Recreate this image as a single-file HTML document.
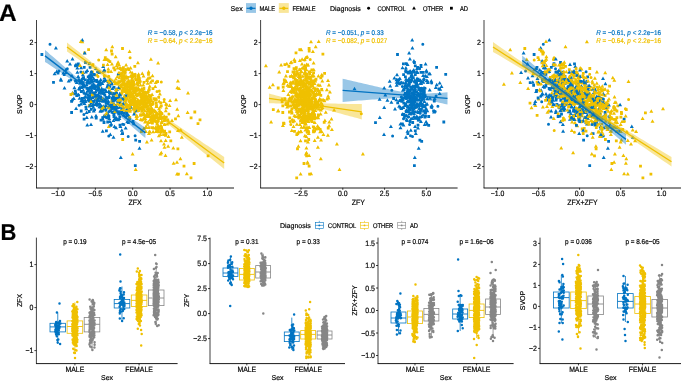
<!DOCTYPE html><html><head><meta charset="utf-8"><style>html,body{margin:0;padding:0;background:#fff;overflow:hidden}svg{display:block;font-family:"Liberation Sans",sans-serif;text-rendering:geometricPrecision;will-change:transform}text{stroke:currentColor;stroke-width:0.18}</style></head><body>
<svg width="685" height="385" viewBox="0 0 685 385">
<defs><clipPath id="c1"><rect x="37" y="18" width="198" height="169.5"/></clipPath><clipPath id="c2"><rect x="261" y="18" width="197" height="169.5"/></clipPath><clipPath id="c3"><rect x="484.4" y="18" width="197" height="169.5"/></clipPath></defs>
<g clip-path="url(#c1)">
<path d="M106.7 101.8h0M80.9 72.0h0M88.3 89.4h0" stroke="#0073C2" stroke-width="3.0" stroke-linecap="round" fill="none"/>
<path d="M76.9 90.3l2.0-3.5l2.0 3.5zM95.4 82.1l2.0-3.5l2.0 3.5zM119.2 111.6l2.0-3.5l2.0 3.5zM113.8 111.5l2.0-3.5l2.0 3.5zM86.3 83.2l2.0-3.5l2.0 3.5zM126.8 111.5l2.0-3.5l2.0 3.5zM91.7 79.9l2.0-3.5l2.0 3.5zM88.8 89.3l2.0-3.5l2.0 3.5zM88.4 79.0l2.0-3.5l2.0 3.5zM122.0 98.5l2.0-3.5l2.0 3.5zM74.7 83.9l2.0-3.5l2.0 3.5zM86.1 100.9l2.0-3.5l2.0 3.5zM91.4 108.8l2.0-3.5l2.0 3.5zM74.1 109.9l2.0-3.5l2.0 3.5zM89.0 126.1l2.0-3.5l2.0 3.5zM95.8 91.7l2.0-3.5l2.0 3.5zM83.5 102.9l2.0-3.5l2.0 3.5zM95.7 87.5l2.0-3.5l2.0 3.5zM87.4 89.2l2.0-3.5l2.0 3.5zM76.2 78.1l2.0-3.5l2.0 3.5zM108.5 112.0l2.0-3.5l2.0 3.5zM79.0 105.5l2.0-3.5l2.0 3.5zM96.5 85.2l2.0-3.5l2.0 3.5zM98.5 108.4l2.0-3.5l2.0 3.5zM84.5 95.0l2.0-3.5l2.0 3.5zM92.2 88.3l2.0-3.5l2.0 3.5zM105.4 87.7l2.0-3.5l2.0 3.5zM91.6 85.6l2.0-3.5l2.0 3.5zM109.2 125.5l2.0-3.5l2.0 3.5zM116.0 113.2l2.0-3.5l2.0 3.5zM93.9 69.9l2.0-3.5l2.0 3.5zM58.8 80.7l2.0-3.5l2.0 3.5zM96.6 96.6l2.0-3.5l2.0 3.5zM80.8 87.4l2.0-3.5l2.0 3.5zM110.3 90.0l2.0-3.5l2.0 3.5zM98.9 92.3l2.0-3.5l2.0 3.5zM118.3 101.4l2.0-3.5l2.0 3.5zM109.8 84.4l2.0-3.5l2.0 3.5zM101.8 110.4l2.0-3.5l2.0 3.5zM109.6 85.6l2.0-3.5l2.0 3.5z" fill="#0073C2"/>
<path d="M76.1 63.9h2.8v2.8h-2.8zM82.5 83.9h2.8v2.8h-2.8zM87.8 62.2h2.8v2.8h-2.8zM119.8 103.3h2.8v2.8h-2.8zM105.0 129.4h2.8v2.8h-2.8zM134.3 138.7h2.8v2.8h-2.8zM132.3 122.4h2.8v2.8h-2.8zM89.9 107.9h2.8v2.8h-2.8zM106.5 80.2h2.8v2.8h-2.8zM88.7 66.0h2.8v2.8h-2.8zM99.3 96.6h2.8v2.8h-2.8zM109.8 105.2h2.8v2.8h-2.8zM94.8 103.1h2.8v2.8h-2.8zM82.9 96.7h2.8v2.8h-2.8zM126.6 94.3h2.8v2.8h-2.8zM88.3 94.3h2.8v2.8h-2.8zM72.9 92.5h2.8v2.8h-2.8zM82.7 117.8h2.8v2.8h-2.8z" fill="#0073C2"/>
<path d="M164.2 99.6h0M106.3 59.6h0M132.2 93.8h0M143.7 92.1h0M139.6 104.5h0M141.4 94.5h0M148.0 92.4h0M126.9 91.0h0" stroke="#EFC000" stroke-width="3.0" stroke-linecap="round" fill="none"/>
<path d="M130.6 155.4l2.0-3.5l2.0 3.5zM133.7 170.9l2.0-3.5l2.0 3.5zM135.9 84.1l2.0-3.5l2.0 3.5zM143.7 99.6l2.0-3.5l2.0 3.5zM129.0 95.5l2.0-3.5l2.0 3.5zM144.4 128.9l2.0-3.5l2.0 3.5zM145.0 106.9l2.0-3.5l2.0 3.5zM135.7 101.9l2.0-3.5l2.0 3.5zM132.4 94.1l2.0-3.5l2.0 3.5zM175.0 175.4l2.0-3.5l2.0 3.5zM159.8 122.8l2.0-3.5l2.0 3.5zM129.5 102.7l2.0-3.5l2.0 3.5zM141.8 93.1l2.0-3.5l2.0 3.5zM137.1 84.2l2.0-3.5l2.0 3.5zM156.3 127.2l2.0-3.5l2.0 3.5zM127.1 84.9l2.0-3.5l2.0 3.5zM141.5 109.9l2.0-3.5l2.0 3.5zM127.6 52.9l2.0-3.5l2.0 3.5zM121.5 110.8l2.0-3.5l2.0 3.5zM151.1 133.2l2.0-3.5l2.0 3.5zM133.9 102.6l2.0-3.5l2.0 3.5zM145.1 106.6l2.0-3.5l2.0 3.5zM159.0 127.1l2.0-3.5l2.0 3.5zM130.0 103.2l2.0-3.5l2.0 3.5zM143.2 100.5l2.0-3.5l2.0 3.5zM163.8 112.2l2.0-3.5l2.0 3.5zM135.8 86.4l2.0-3.5l2.0 3.5zM163.0 119.6l2.0-3.5l2.0 3.5zM122.5 81.4l2.0-3.5l2.0 3.5zM142.0 95.4l2.0-3.5l2.0 3.5zM174.0 101.3l2.0-3.5l2.0 3.5zM128.2 97.8l2.0-3.5l2.0 3.5zM148.8 123.5l2.0-3.5l2.0 3.5zM124.6 87.0l2.0-3.5l2.0 3.5zM148.4 113.8l2.0-3.5l2.0 3.5zM157.0 110.2l2.0-3.5l2.0 3.5zM142.5 118.0l2.0-3.5l2.0 3.5zM118.6 95.8l2.0-3.5l2.0 3.5zM129.6 103.1l2.0-3.5l2.0 3.5zM149.4 109.3l2.0-3.5l2.0 3.5zM157.2 102.8l2.0-3.5l2.0 3.5zM138.1 81.7l2.0-3.5l2.0 3.5zM122.3 92.6l2.0-3.5l2.0 3.5z" fill="#EFC000"/>
<path d="M149.6 111.1h2.8v2.8h-2.8zM151.1 79.4h2.8v2.8h-2.8zM69.5 93.1h2.8v2.8h-2.8zM151.6 87.3h2.8v2.8h-2.8zM122.9 88.0h2.8v2.8h-2.8zM122.6 70.6h2.8v2.8h-2.8zM138.9 100.0h2.8v2.8h-2.8zM134.1 88.7h2.8v2.8h-2.8zM130.7 94.1h2.8v2.8h-2.8zM128.9 103.9h2.8v2.8h-2.8zM182.6 164.7h2.8v2.8h-2.8zM143.6 105.1h2.8v2.8h-2.8zM134.8 78.5h2.8v2.8h-2.8zM132.0 80.6h2.8v2.8h-2.8zM142.6 81.0h2.8v2.8h-2.8zM155.6 122.7h2.8v2.8h-2.8zM131.8 73.8h2.8v2.8h-2.8zM137.3 100.2h2.8v2.8h-2.8zM103.9 56.3h2.8v2.8h-2.8zM91.5 63.3h2.8v2.8h-2.8zM134.4 101.9h2.8v2.8h-2.8zM192.7 162.1h2.8v2.8h-2.8zM141.2 94.7h2.8v2.8h-2.8zM174.1 117.5h2.8v2.8h-2.8zM117.4 80.2h2.8v2.8h-2.8zM139.0 107.6h2.8v2.8h-2.8zM135.9 103.6h2.8v2.8h-2.8zM149.5 94.7h2.8v2.8h-2.8z" fill="#EFC000"/>
<path d="M108.8 135.9h0M113.6 98.1h0M128.2 136.6h0M113.7 96.7h0M83.9 114.5h0M109.1 111.4h0M89.8 96.0h0" stroke="#0073C2" stroke-width="3.0" stroke-linecap="round" fill="none"/>
<path d="M53.9 49.6l2.0-3.5l2.0 3.5zM125.2 123.2l2.0-3.5l2.0 3.5zM92.2 82.6l2.0-3.5l2.0 3.5zM93.6 93.2l2.0-3.5l2.0 3.5zM123.7 129.5l2.0-3.5l2.0 3.5zM100.9 120.8l2.0-3.5l2.0 3.5zM63.8 73.9l2.0-3.5l2.0 3.5zM113.6 94.9l2.0-3.5l2.0 3.5zM52.6 75.2l2.0-3.5l2.0 3.5zM103.0 81.7l2.0-3.5l2.0 3.5zM87.0 99.6l2.0-3.5l2.0 3.5zM114.1 90.7l2.0-3.5l2.0 3.5zM99.4 98.6l2.0-3.5l2.0 3.5zM79.2 102.2l2.0-3.5l2.0 3.5zM81.3 91.7l2.0-3.5l2.0 3.5zM87.0 80.5l2.0-3.5l2.0 3.5zM95.3 99.6l2.0-3.5l2.0 3.5zM81.2 73.9l2.0-3.5l2.0 3.5zM103.1 109.2l2.0-3.5l2.0 3.5zM98.1 98.1l2.0-3.5l2.0 3.5zM97.7 83.9l2.0-3.5l2.0 3.5zM101.2 67.9l2.0-3.5l2.0 3.5zM111.7 114.1l2.0-3.5l2.0 3.5z" fill="#0073C2"/>
<path d="M79.8 109.6h2.8v2.8h-2.8zM114.1 104.3h2.8v2.8h-2.8zM101.0 91.0h2.8v2.8h-2.8zM79.9 90.2h2.8v2.8h-2.8zM116.3 100.2h2.8v2.8h-2.8zM114.3 104.3h2.8v2.8h-2.8zM95.6 96.0h2.8v2.8h-2.8zM115.5 97.1h2.8v2.8h-2.8zM96.5 98.6h2.8v2.8h-2.8zM118.3 103.1h2.8v2.8h-2.8zM112.9 97.1h2.8v2.8h-2.8zM110.7 111.0h2.8v2.8h-2.8zM112.6 114.7h2.8v2.8h-2.8z" fill="#0073C2"/>
<path d="M136.8 107.4h0M159.5 113.7h0M148.4 102.3h0M155.1 111.2h0M144.0 92.5h0M168.9 113.9h0M130.9 97.1h0M143.9 93.9h0M125.3 97.5h0" stroke="#EFC000" stroke-width="3.0" stroke-linecap="round" fill="none"/>
<path d="M131.6 86.7l2.0-3.5l2.0 3.5zM141.3 86.5l2.0-3.5l2.0 3.5zM155.0 114.8l2.0-3.5l2.0 3.5zM133.6 111.8l2.0-3.5l2.0 3.5zM176.0 132.1l2.0-3.5l2.0 3.5zM150.5 77.2l2.0-3.5l2.0 3.5zM134.9 117.3l2.0-3.5l2.0 3.5zM126.8 94.2l2.0-3.5l2.0 3.5zM153.7 84.1l2.0-3.5l2.0 3.5zM141.3 98.5l2.0-3.5l2.0 3.5zM122.4 88.3l2.0-3.5l2.0 3.5zM119.7 94.8l2.0-3.5l2.0 3.5zM146.2 123.2l2.0-3.5l2.0 3.5zM175.2 110.7l2.0-3.5l2.0 3.5zM120.4 84.7l2.0-3.5l2.0 3.5zM130.3 77.9l2.0-3.5l2.0 3.5zM138.9 116.5l2.0-3.5l2.0 3.5zM120.4 85.5l2.0-3.5l2.0 3.5zM166.5 138.0l2.0-3.5l2.0 3.5zM121.0 76.5l2.0-3.5l2.0 3.5zM163.7 142.0l2.0-3.5l2.0 3.5zM148.0 133.4l2.0-3.5l2.0 3.5zM133.4 79.8l2.0-3.5l2.0 3.5zM141.1 115.6l2.0-3.5l2.0 3.5zM123.2 90.1l2.0-3.5l2.0 3.5zM162.0 145.4l2.0-3.5l2.0 3.5zM148.2 98.6l2.0-3.5l2.0 3.5zM146.2 103.2l2.0-3.5l2.0 3.5zM154.7 122.7l2.0-3.5l2.0 3.5zM141.8 115.3l2.0-3.5l2.0 3.5zM116.3 84.3l2.0-3.5l2.0 3.5zM151.4 115.9l2.0-3.5l2.0 3.5zM106.0 108.2l2.0-3.5l2.0 3.5zM146.2 92.5l2.0-3.5l2.0 3.5zM130.4 74.4l2.0-3.5l2.0 3.5zM145.4 99.6l2.0-3.5l2.0 3.5zM130.2 79.6l2.0-3.5l2.0 3.5zM162.2 117.7l2.0-3.5l2.0 3.5zM263.3 122.9l2.0-3.5l2.0 3.5zM140.1 96.7l2.0-3.5l2.0 3.5zM156.9 133.2l2.0-3.5l2.0 3.5zM148.6 83.8l2.0-3.5l2.0 3.5zM146.5 110.7l2.0-3.5l2.0 3.5zM129.5 106.1l2.0-3.5l2.0 3.5zM148.6 104.8l2.0-3.5l2.0 3.5zM145.6 118.1l2.0-3.5l2.0 3.5zM144.5 128.8l2.0-3.5l2.0 3.5zM135.0 84.7l2.0-3.5l2.0 3.5zM131.3 110.4l2.0-3.5l2.0 3.5zM144.8 107.1l2.0-3.5l2.0 3.5zM131.9 100.4l2.0-3.5l2.0 3.5zM142.9 112.3l2.0-3.5l2.0 3.5zM107.6 82.6l2.0-3.5l2.0 3.5zM143.7 122.8l2.0-3.5l2.0 3.5zM150.9 112.6l2.0-3.5l2.0 3.5z" fill="#EFC000"/>
<path d="M118.9 67.1h2.8v2.8h-2.8zM123.7 72.0h2.8v2.8h-2.8zM131.6 101.6h2.8v2.8h-2.8zM125.1 76.9h2.8v2.8h-2.8zM156.1 129.9h2.8v2.8h-2.8zM157.0 116.8h2.8v2.8h-2.8zM135.8 93.3h2.8v2.8h-2.8zM125.0 109.9h2.8v2.8h-2.8zM97.5 85.8h2.8v2.8h-2.8zM150.0 107.6h2.8v2.8h-2.8zM148.0 108.3h2.8v2.8h-2.8zM135.8 94.3h2.8v2.8h-2.8zM147.3 98.9h2.8v2.8h-2.8zM134.9 86.6h2.8v2.8h-2.8zM189.7 116.4h2.8v2.8h-2.8zM151.4 116.2h2.8v2.8h-2.8zM127.3 68.3h2.8v2.8h-2.8zM150.3 121.0h2.8v2.8h-2.8zM139.4 95.1h2.8v2.8h-2.8zM87.2 48.3h2.8v2.8h-2.8zM138.1 80.7h2.8v2.8h-2.8zM136.6 102.9h2.8v2.8h-2.8zM125.0 91.0h2.8v2.8h-2.8zM110.7 52.8h2.8v2.8h-2.8zM166.4 118.4h2.8v2.8h-2.8zM139.2 101.8h2.8v2.8h-2.8zM122.2 80.5h2.8v2.8h-2.8zM110.5 99.1h2.8v2.8h-2.8zM196.6 122.3h2.8v2.8h-2.8zM128.1 91.5h2.8v2.8h-2.8zM108.1 89.5h2.8v2.8h-2.8zM122.0 66.2h2.8v2.8h-2.8zM133.8 104.5h2.8v2.8h-2.8z" fill="#EFC000"/>
<path d="M94.0 101.1h0M123.8 100.0h0M119.7 116.8h0M110.0 93.7h0M99.7 96.9h0M109.4 93.1h0M116.2 98.2h0M78.4 94.9h0M90.0 97.6h0" stroke="#0073C2" stroke-width="3.0" stroke-linecap="round" fill="none"/>
<path d="M96.0 98.5l2.0-3.5l2.0 3.5zM107.0 109.1l2.0-3.5l2.0 3.5zM110.4 101.6l2.0-3.5l2.0 3.5zM115.6 109.1l2.0-3.5l2.0 3.5zM90.3 81.9l2.0-3.5l2.0 3.5zM125.1 110.1l2.0-3.5l2.0 3.5zM96.9 84.7l2.0-3.5l2.0 3.5zM88.2 94.0l2.0-3.5l2.0 3.5zM101.6 72.5l2.0-3.5l2.0 3.5zM103.8 81.9l2.0-3.5l2.0 3.5zM92.0 94.3l2.0-3.5l2.0 3.5zM110.6 95.0l2.0-3.5l2.0 3.5zM79.1 69.2l2.0-3.5l2.0 3.5zM80.5 83.2l2.0-3.5l2.0 3.5zM84.8 119.0l2.0-3.5l2.0 3.5zM62.5 89.6l2.0-3.5l2.0 3.5zM93.4 100.7l2.0-3.5l2.0 3.5zM112.5 128.0l2.0-3.5l2.0 3.5zM126.7 116.9l2.0-3.5l2.0 3.5zM72.4 89.2l2.0-3.5l2.0 3.5zM90.2 95.0l2.0-3.5l2.0 3.5zM104.6 99.7l2.0-3.5l2.0 3.5zM65.2 62.6l2.0-3.5l2.0 3.5zM80.5 80.1l2.0-3.5l2.0 3.5zM117.4 119.9l2.0-3.5l2.0 3.5zM95.4 83.1l2.0-3.5l2.0 3.5zM101.4 82.7l2.0-3.5l2.0 3.5zM86.9 84.6l2.0-3.5l2.0 3.5zM74.1 94.6l2.0-3.5l2.0 3.5zM97.8 84.1l2.0-3.5l2.0 3.5zM85.3 126.6l2.0-3.5l2.0 3.5z" fill="#0073C2"/>
<path d="M111.9 96.4h2.8v2.8h-2.8zM113.8 106.1h2.8v2.8h-2.8zM93.2 87.1h2.8v2.8h-2.8zM80.7 97.1h2.8v2.8h-2.8zM78.1 87.6h2.8v2.8h-2.8zM112.1 102.8h2.8v2.8h-2.8zM89.8 101.8h2.8v2.8h-2.8zM87.8 110.1h2.8v2.8h-2.8zM122.9 111.6h2.8v2.8h-2.8zM94.4 78.9h2.8v2.8h-2.8zM109.6 103.4h2.8v2.8h-2.8zM95.5 88.2h2.8v2.8h-2.8zM112.6 86.0h2.8v2.8h-2.8zM100.3 89.1h2.8v2.8h-2.8zM82.0 85.4h2.8v2.8h-2.8zM52.1 80.9h2.8v2.8h-2.8zM105.9 96.6h2.8v2.8h-2.8zM121.0 111.4h2.8v2.8h-2.8z" fill="#0073C2"/>
<path d="M108.4 71.7h0M148.5 115.9h0M160.9 132.2h0M162.8 130.5h0M131.5 80.6h0M155.9 121.5h0M164.7 124.6h0M135.2 74.3h0" stroke="#EFC000" stroke-width="3.0" stroke-linecap="round" fill="none"/>
<path d="M125.4 86.7l2.0-3.5l2.0 3.5zM158.4 155.5l2.0-3.5l2.0 3.5zM143.4 93.8l2.0-3.5l2.0 3.5zM127.0 109.5l2.0-3.5l2.0 3.5zM152.1 120.2l2.0-3.5l2.0 3.5zM153.7 128.7l2.0-3.5l2.0 3.5zM117.2 66.5l2.0-3.5l2.0 3.5zM115.4 78.1l2.0-3.5l2.0 3.5zM156.1 64.6l2.0-3.5l2.0 3.5zM105.6 65.9l2.0-3.5l2.0 3.5zM122.7 77.4l2.0-3.5l2.0 3.5zM147.7 87.7l2.0-3.5l2.0 3.5zM128.3 95.7l2.0-3.5l2.0 3.5zM142.6 108.5l2.0-3.5l2.0 3.5zM113.8 80.4l2.0-3.5l2.0 3.5zM156.9 137.3l2.0-3.5l2.0 3.5zM128.4 77.7l2.0-3.5l2.0 3.5zM95.0 99.5l2.0-3.5l2.0 3.5zM128.4 86.2l2.0-3.5l2.0 3.5zM109.6 94.3l2.0-3.5l2.0 3.5zM147.7 87.7l2.0-3.5l2.0 3.5zM137.8 110.4l2.0-3.5l2.0 3.5zM116.1 63.8l2.0-3.5l2.0 3.5zM167.2 124.2l2.0-3.5l2.0 3.5zM141.7 102.0l2.0-3.5l2.0 3.5zM186.0 94.6l2.0-3.5l2.0 3.5zM102.4 61.0l2.0-3.5l2.0 3.5zM136.4 96.2l2.0-3.5l2.0 3.5zM167.5 107.0l2.0-3.5l2.0 3.5zM139.8 104.7l2.0-3.5l2.0 3.5zM159.0 120.1l2.0-3.5l2.0 3.5zM146.6 124.1l2.0-3.5l2.0 3.5zM117.3 79.3l2.0-3.5l2.0 3.5zM111.9 95.5l2.0-3.5l2.0 3.5zM120.4 91.3l2.0-3.5l2.0 3.5zM143.8 97.8l2.0-3.5l2.0 3.5zM148.9 123.0l2.0-3.5l2.0 3.5zM143.8 132.9l2.0-3.5l2.0 3.5zM175.0 163.8l2.0-3.5l2.0 3.5zM127.4 84.4l2.0-3.5l2.0 3.5zM163.5 156.9l2.0-3.5l2.0 3.5zM162.1 102.9l2.0-3.5l2.0 3.5zM128.7 87.6l2.0-3.5l2.0 3.5zM112.6 82.9l2.0-3.5l2.0 3.5zM121.1 71.3l2.0-3.5l2.0 3.5zM130.7 77.5l2.0-3.5l2.0 3.5zM136.2 79.5l2.0-3.5l2.0 3.5zM123.6 98.3l2.0-3.5l2.0 3.5zM107.3 109.4l2.0-3.5l2.0 3.5zM138.7 121.1l2.0-3.5l2.0 3.5z" fill="#EFC000"/>
<path d="M144.5 105.7h2.8v2.8h-2.8zM159.4 101.5h2.8v2.8h-2.8zM123.7 99.5h2.8v2.8h-2.8zM102.0 63.8h2.8v2.8h-2.8zM143.0 117.2h2.8v2.8h-2.8zM125.8 103.8h2.8v2.8h-2.8zM198.6 118.4h2.8v2.8h-2.8zM155.1 104.2h2.8v2.8h-2.8zM152.6 118.7h2.8v2.8h-2.8zM159.0 111.5h2.8v2.8h-2.8zM133.4 110.9h2.8v2.8h-2.8zM165.0 103.5h2.8v2.8h-2.8zM131.0 84.7h2.8v2.8h-2.8zM124.3 68.2h2.8v2.8h-2.8zM120.1 109.6h2.8v2.8h-2.8zM145.0 114.7h2.8v2.8h-2.8zM140.7 96.7h2.8v2.8h-2.8zM134.4 101.7h2.8v2.8h-2.8zM119.6 83.5h2.8v2.8h-2.8zM155.6 113.9h2.8v2.8h-2.8zM128.4 94.2h2.8v2.8h-2.8zM138.7 101.8h2.8v2.8h-2.8zM91.0 70.5h2.8v2.8h-2.8zM150.8 117.5h2.8v2.8h-2.8z" fill="#EFC000"/>
<path d="M101.3 106.2h0M58.9 71.0h0M89.6 88.3h0M126.7 113.3h0M116.1 109.1h0M115.1 118.7h0M88.8 101.0h0M86.9 83.0h0" stroke="#0073C2" stroke-width="3.0" stroke-linecap="round" fill="none"/>
<path d="M93.9 87.3l2.0-3.5l2.0 3.5zM120.7 109.0l2.0-3.5l2.0 3.5zM132.1 115.6l2.0-3.5l2.0 3.5zM98.1 86.2l2.0-3.5l2.0 3.5zM80.9 76.2l2.0-3.5l2.0 3.5zM106.4 102.7l2.0-3.5l2.0 3.5zM117.7 95.2l2.0-3.5l2.0 3.5zM123.5 105.6l2.0-3.5l2.0 3.5zM105.8 117.8l2.0-3.5l2.0 3.5zM96.9 102.1l2.0-3.5l2.0 3.5zM102.4 79.6l2.0-3.5l2.0 3.5zM117.4 98.7l2.0-3.5l2.0 3.5zM106.8 84.6l2.0-3.5l2.0 3.5zM102.2 116.9l2.0-3.5l2.0 3.5zM78.0 84.6l2.0-3.5l2.0 3.5zM101.2 91.6l2.0-3.5l2.0 3.5zM108.1 81.4l2.0-3.5l2.0 3.5zM71.8 100.0l2.0-3.5l2.0 3.5zM118.4 127.9l2.0-3.5l2.0 3.5zM108.7 106.6l2.0-3.5l2.0 3.5zM78.0 88.6l2.0-3.5l2.0 3.5zM114.9 90.9l2.0-3.5l2.0 3.5zM107.5 82.1l2.0-3.5l2.0 3.5zM112.8 106.5l2.0-3.5l2.0 3.5zM92.0 86.7l2.0-3.5l2.0 3.5zM118.8 159.1l2.0-3.5l2.0 3.5zM85.9 92.0l2.0-3.5l2.0 3.5zM70.2 101.3l2.0-3.5l2.0 3.5zM94.0 117.3l2.0-3.5l2.0 3.5zM118.0 103.7l2.0-3.5l2.0 3.5zM61.3 74.5l2.0-3.5l2.0 3.5zM110.5 98.5l2.0-3.5l2.0 3.5zM116.7 97.9l2.0-3.5l2.0 3.5z" fill="#0073C2"/>
<path d="M88.3 103.9h2.8v2.8h-2.8zM117.3 112.7h2.8v2.8h-2.8zM112.4 110.4h2.8v2.8h-2.8zM92.7 72.9h2.8v2.8h-2.8zM89.1 100.0h2.8v2.8h-2.8zM106.6 101.5h2.8v2.8h-2.8zM86.9 79.3h2.8v2.8h-2.8zM70.2 111.1h2.8v2.8h-2.8zM86.8 75.5h2.8v2.8h-2.8zM118.6 123.8h2.8v2.8h-2.8zM89.8 73.2h2.8v2.8h-2.8zM85.7 87.0h2.8v2.8h-2.8zM74.1 64.4h2.8v2.8h-2.8zM80.9 77.8h2.8v2.8h-2.8zM104.5 109.0h2.8v2.8h-2.8zM74.1 79.7h2.8v2.8h-2.8zM84.1 61.1h2.8v2.8h-2.8zM81.4 99.7h2.8v2.8h-2.8zM107.6 96.1h2.8v2.8h-2.8z" fill="#0073C2"/>
<path d="M138.0 77.5h0M157.0 91.4h0M98.7 59.9h0M159.3 90.9h0M132.4 83.9h0M130.1 57.7h0M145.2 99.5h0M130.2 86.3h0M161.3 82.1h0" stroke="#EFC000" stroke-width="3.0" stroke-linecap="round" fill="none"/>
<path d="M137.1 109.7l2.0-3.5l2.0 3.5zM132.6 76.7l2.0-3.5l2.0 3.5zM128.6 69.5l2.0-3.5l2.0 3.5zM158.4 136.0l2.0-3.5l2.0 3.5zM121.5 73.5l2.0-3.5l2.0 3.5zM121.8 85.8l2.0-3.5l2.0 3.5zM122.9 97.6l2.0-3.5l2.0 3.5zM164.0 105.5l2.0-3.5l2.0 3.5zM132.0 85.8l2.0-3.5l2.0 3.5zM113.1 85.3l2.0-3.5l2.0 3.5zM139.8 110.2l2.0-3.5l2.0 3.5zM143.3 120.1l2.0-3.5l2.0 3.5zM122.6 86.1l2.0-3.5l2.0 3.5zM149.3 106.0l2.0-3.5l2.0 3.5zM177.0 89.9l2.0-3.5l2.0 3.5zM150.0 111.4l2.0-3.5l2.0 3.5zM149.6 141.5l2.0-3.5l2.0 3.5zM80.3 43.2l2.0-3.5l2.0 3.5zM143.4 107.9l2.0-3.5l2.0 3.5zM154.4 108.1l2.0-3.5l2.0 3.5zM137.1 80.7l2.0-3.5l2.0 3.5zM146.0 79.7l2.0-3.5l2.0 3.5zM139.9 108.2l2.0-3.5l2.0 3.5zM124.6 88.8l2.0-3.5l2.0 3.5zM162.8 121.8l2.0-3.5l2.0 3.5zM143.2 100.2l2.0-3.5l2.0 3.5zM128.4 111.4l2.0-3.5l2.0 3.5zM157.9 118.3l2.0-3.5l2.0 3.5zM175.3 89.2l2.0-3.5l2.0 3.5zM138.2 94.4l2.0-3.5l2.0 3.5zM139.0 104.0l2.0-3.5l2.0 3.5zM129.5 101.2l2.0-3.5l2.0 3.5zM132.5 101.8l2.0-3.5l2.0 3.5zM140.6 93.9l2.0-3.5l2.0 3.5zM152.0 111.6l2.0-3.5l2.0 3.5zM142.0 98.9l2.0-3.5l2.0 3.5zM140.8 98.2l2.0-3.5l2.0 3.5zM122.1 79.0l2.0-3.5l2.0 3.5zM151.9 119.2l2.0-3.5l2.0 3.5zM134.6 117.5l2.0-3.5l2.0 3.5zM149.0 119.6l2.0-3.5l2.0 3.5zM138.3 91.8l2.0-3.5l2.0 3.5zM158.3 127.6l2.0-3.5l2.0 3.5zM157.5 112.4l2.0-3.5l2.0 3.5zM161.9 133.0l2.0-3.5l2.0 3.5zM153.8 100.4l2.0-3.5l2.0 3.5zM145.5 112.2l2.0-3.5l2.0 3.5zM124.8 85.3l2.0-3.5l2.0 3.5z" fill="#EFC000"/>
<path d="M141.1 108.4h2.8v2.8h-2.8zM160.3 127.9h2.8v2.8h-2.8zM160.4 112.2h2.8v2.8h-2.8zM168.3 130.5h2.8v2.8h-2.8zM140.7 89.5h2.8v2.8h-2.8zM148.4 111.1h2.8v2.8h-2.8zM145.7 79.2h2.8v2.8h-2.8zM144.2 102.0h2.8v2.8h-2.8zM136.2 105.9h2.8v2.8h-2.8zM154.9 127.6h2.8v2.8h-2.8zM129.6 82.9h2.8v2.8h-2.8zM135.4 88.3h2.8v2.8h-2.8zM156.3 125.5h2.8v2.8h-2.8zM144.7 91.6h2.8v2.8h-2.8zM164.9 115.8h2.8v2.8h-2.8zM125.3 94.4h2.8v2.8h-2.8zM193.4 110.6h2.8v2.8h-2.8zM129.9 99.0h2.8v2.8h-2.8zM115.6 81.6h2.8v2.8h-2.8zM131.8 80.7h2.8v2.8h-2.8zM157.0 128.3h2.8v2.8h-2.8zM129.0 81.8h2.8v2.8h-2.8zM118.6 72.7h2.8v2.8h-2.8z" fill="#EFC000"/>
<path d="M110.5 92.9h0M97.5 71.8h0M67.3 68.7h0M79.1 105.3h0M103.6 93.7h0M93.4 96.2h0M70.7 80.1h0M135.1 135.7h0M96.8 101.1h0M50.0 44.2h0" stroke="#0073C2" stroke-width="3.0" stroke-linecap="round" fill="none"/>
<path d="M107.1 97.4l2.0-3.5l2.0 3.5zM120.0 134.9l2.0-3.5l2.0 3.5zM112.7 101.4l2.0-3.5l2.0 3.5zM75.4 73.7l2.0-3.5l2.0 3.5zM83.3 97.9l2.0-3.5l2.0 3.5zM89.8 118.5l2.0-3.5l2.0 3.5zM54.7 72.9l2.0-3.5l2.0 3.5zM84.3 110.3l2.0-3.5l2.0 3.5zM70.6 94.5l2.0-3.5l2.0 3.5zM70.5 60.5l2.0-3.5l2.0 3.5zM89.9 83.7l2.0-3.5l2.0 3.5zM134.8 112.3l2.0-3.5l2.0 3.5zM105.5 88.5l2.0-3.5l2.0 3.5zM90.1 107.1l2.0-3.5l2.0 3.5zM104.0 93.1l2.0-3.5l2.0 3.5zM93.3 97.8l2.0-3.5l2.0 3.5zM99.7 90.0l2.0-3.5l2.0 3.5zM91.7 112.4l2.0-3.5l2.0 3.5zM63.6 71.5l2.0-3.5l2.0 3.5zM114.4 113.2l2.0-3.5l2.0 3.5zM102.7 101.3l2.0-3.5l2.0 3.5zM94.9 103.8l2.0-3.5l2.0 3.5zM80.3 41.5l2.0-3.5l2.0 3.5zM118.2 96.4l2.0-3.5l2.0 3.5zM87.2 77.1l2.0-3.5l2.0 3.5zM101.4 107.8l2.0-3.5l2.0 3.5zM104.2 92.4l2.0-3.5l2.0 3.5z" fill="#0073C2"/>
<path d="M76.9 62.4h2.8v2.8h-2.8zM103.2 88.5h2.8v2.8h-2.8zM99.6 118.7h2.8v2.8h-2.8zM138.2 140.0h2.8v2.8h-2.8zM106.4 115.7h2.8v2.8h-2.8zM82.2 76.2h2.8v2.8h-2.8zM102.6 121.1h2.8v2.8h-2.8zM88.6 99.0h2.8v2.8h-2.8zM89.9 75.1h2.8v2.8h-2.8zM84.5 105.8h2.8v2.8h-2.8zM84.8 70.8h2.8v2.8h-2.8zM96.2 93.7h2.8v2.8h-2.8zM121.1 97.2h2.8v2.8h-2.8zM86.3 96.3h2.8v2.8h-2.8zM98.0 70.9h2.8v2.8h-2.8zM106.3 120.6h2.8v2.8h-2.8zM95.9 104.0h2.8v2.8h-2.8zM101.0 109.4h2.8v2.8h-2.8z" fill="#0073C2"/>
<path d="M105.2 115.4h0M142.5 119.7h0M121.6 80.8h0M127.4 86.9h0M150.0 99.4h0M108.8 76.2h0" stroke="#EFC000" stroke-width="3.0" stroke-linecap="round" fill="none"/>
<path d="M110.3 103.3l2.0-3.5l2.0 3.5zM150.6 117.5l2.0-3.5l2.0 3.5zM136.9 111.9l2.0-3.5l2.0 3.5zM126.9 82.7l2.0-3.5l2.0 3.5zM129.3 95.0l2.0-3.5l2.0 3.5zM144.8 101.3l2.0-3.5l2.0 3.5zM135.0 107.8l2.0-3.5l2.0 3.5zM144.9 118.1l2.0-3.5l2.0 3.5zM127.5 88.0l2.0-3.5l2.0 3.5zM132.9 77.6l2.0-3.5l2.0 3.5zM147.2 89.7l2.0-3.5l2.0 3.5zM159.0 142.2l2.0-3.5l2.0 3.5zM155.0 83.0l2.0-3.5l2.0 3.5zM106.3 70.4l2.0-3.5l2.0 3.5zM184.8 175.2l2.0-3.5l2.0 3.5zM168.1 101.9l2.0-3.5l2.0 3.5zM130.0 83.4l2.0-3.5l2.0 3.5zM109.9 65.6l2.0-3.5l2.0 3.5zM141.2 107.1l2.0-3.5l2.0 3.5zM145.6 100.6l2.0-3.5l2.0 3.5zM110.3 48.3l2.0-3.5l2.0 3.5zM147.4 133.1l2.0-3.5l2.0 3.5zM132.7 102.3l2.0-3.5l2.0 3.5zM147.4 106.4l2.0-3.5l2.0 3.5zM135.9 64.2l2.0-3.5l2.0 3.5zM150.1 96.0l2.0-3.5l2.0 3.5zM127.5 106.0l2.0-3.5l2.0 3.5zM109.5 103.7l2.0-3.5l2.0 3.5zM120.1 74.5l2.0-3.5l2.0 3.5zM166.1 147.8l2.0-3.5l2.0 3.5zM134.6 91.6l2.0-3.5l2.0 3.5zM145.5 125.7l2.0-3.5l2.0 3.5zM153.2 88.1l2.0-3.5l2.0 3.5zM127.1 102.3l2.0-3.5l2.0 3.5zM118.8 101.3l2.0-3.5l2.0 3.5zM131.0 89.2l2.0-3.5l2.0 3.5zM120.5 79.3l2.0-3.5l2.0 3.5zM145.9 112.4l2.0-3.5l2.0 3.5zM143.5 106.4l2.0-3.5l2.0 3.5zM87.2 107.0l2.0-3.5l2.0 3.5zM148.0 115.4l2.0-3.5l2.0 3.5zM153.4 101.5l2.0-3.5l2.0 3.5zM141.4 104.9l2.0-3.5l2.0 3.5zM141.9 103.3l2.0-3.5l2.0 3.5zM136.1 109.7l2.0-3.5l2.0 3.5zM126.7 81.7l2.0-3.5l2.0 3.5zM124.9 94.0l2.0-3.5l2.0 3.5zM128.6 73.5l2.0-3.5l2.0 3.5zM120.3 86.6l2.0-3.5l2.0 3.5zM148.7 100.3l2.0-3.5l2.0 3.5zM147.0 91.3l2.0-3.5l2.0 3.5zM134.3 107.5l2.0-3.5l2.0 3.5zM133.3 91.9l2.0-3.5l2.0 3.5zM159.7 114.4l2.0-3.5l2.0 3.5zM130.3 76.6l2.0-3.5l2.0 3.5zM125.1 108.6l2.0-3.5l2.0 3.5z" fill="#EFC000"/>
<path d="M147.0 100.0h2.8v2.8h-2.8zM126.3 76.0h2.8v2.8h-2.8zM138.8 104.0h2.8v2.8h-2.8zM118.5 87.5h2.8v2.8h-2.8zM122.4 77.9h2.8v2.8h-2.8zM152.5 97.3h2.8v2.8h-2.8zM139.2 113.6h2.8v2.8h-2.8zM133.4 64.9h2.8v2.8h-2.8zM176.5 147.4h2.8v2.8h-2.8zM134.4 89.1h2.8v2.8h-2.8zM126.2 80.6h2.8v2.8h-2.8zM147.8 93.9h2.8v2.8h-2.8zM137.1 101.7h2.8v2.8h-2.8zM121.6 106.0h2.8v2.8h-2.8zM131.8 94.6h2.8v2.8h-2.8zM126.1 104.4h2.8v2.8h-2.8zM155.7 116.1h2.8v2.8h-2.8zM154.0 115.0h2.8v2.8h-2.8zM118.1 80.5h2.8v2.8h-2.8zM121.3 138.1h2.8v2.8h-2.8zM189.6 176.4h2.8v2.8h-2.8zM136.0 78.7h2.8v2.8h-2.8zM156.2 80.3h2.8v2.8h-2.8z" fill="#EFC000"/>
<path d="M103.0 98.9h0M101.5 100.0h0M96.8 102.6h0M105.3 116.8h0M94.7 109.7h0M125.8 117.0h0M109.9 86.6h0M122.6 124.2h0M123.8 124.5h0" stroke="#0073C2" stroke-width="3.0" stroke-linecap="round" fill="none"/>
<path d="M101.0 100.3l2.0-3.5l2.0 3.5zM77.6 99.8l2.0-3.5l2.0 3.5zM107.9 122.9l2.0-3.5l2.0 3.5zM80.8 103.7l2.0-3.5l2.0 3.5zM98.6 102.1l2.0-3.5l2.0 3.5zM79.6 89.0l2.0-3.5l2.0 3.5zM114.0 129.2l2.0-3.5l2.0 3.5zM96.1 90.9l2.0-3.5l2.0 3.5zM85.6 92.6l2.0-3.5l2.0 3.5zM111.5 122.0l2.0-3.5l2.0 3.5zM90.1 77.9l2.0-3.5l2.0 3.5zM111.9 107.2l2.0-3.5l2.0 3.5zM111.5 138.8l2.0-3.5l2.0 3.5zM87.5 79.9l2.0-3.5l2.0 3.5zM95.5 90.4l2.0-3.5l2.0 3.5zM89.5 101.4l2.0-3.5l2.0 3.5zM105.8 114.9l2.0-3.5l2.0 3.5zM106.8 93.1l2.0-3.5l2.0 3.5zM120.7 108.4l2.0-3.5l2.0 3.5zM117.6 108.7l2.0-3.5l2.0 3.5zM110.3 110.2l2.0-3.5l2.0 3.5zM112.4 118.1l2.0-3.5l2.0 3.5zM95.8 88.0l2.0-3.5l2.0 3.5zM125.0 114.9l2.0-3.5l2.0 3.5zM98.3 112.5l2.0-3.5l2.0 3.5zM84.6 86.2l2.0-3.5l2.0 3.5z" fill="#0073C2"/>
<path d="M124.3 94.6h2.8v2.8h-2.8zM128.2 116.9h2.8v2.8h-2.8zM109.1 109.5h2.8v2.8h-2.8zM97.9 91.6h2.8v2.8h-2.8zM133.9 164.3h2.8v2.8h-2.8zM80.0 90.0h2.8v2.8h-2.8zM97.2 87.3h2.8v2.8h-2.8zM106.5 84.2h2.8v2.8h-2.8zM90.1 70.7h2.8v2.8h-2.8zM103.1 105.4h2.8v2.8h-2.8zM92.1 100.4h2.8v2.8h-2.8zM127.0 121.3h2.8v2.8h-2.8zM82.8 65.9h2.8v2.8h-2.8zM94.8 116.7h2.8v2.8h-2.8z" fill="#0073C2"/>
<path d="M136.0 94.8h0M144.8 95.5h0M152.1 118.1h0M101.8 108.8h0" stroke="#EFC000" stroke-width="3.0" stroke-linecap="round" fill="none"/>
<path d="M148.9 60.8l2.0-3.5l2.0 3.5zM132.0 104.3l2.0-3.5l2.0 3.5zM104.2 51.2l2.0-3.5l2.0 3.5zM135.9 104.5l2.0-3.5l2.0 3.5zM136.3 89.5l2.0-3.5l2.0 3.5zM142.4 97.2l2.0-3.5l2.0 3.5zM158.8 113.6l2.0-3.5l2.0 3.5zM115.5 65.3l2.0-3.5l2.0 3.5zM163.8 136.7l2.0-3.5l2.0 3.5zM121.4 92.3l2.0-3.5l2.0 3.5zM147.7 117.9l2.0-3.5l2.0 3.5zM106.8 127.9l2.0-3.5l2.0 3.5zM149.3 102.0l2.0-3.5l2.0 3.5zM171.6 164.8l2.0-3.5l2.0 3.5zM131.8 84.6l2.0-3.5l2.0 3.5zM104.4 114.5l2.0-3.5l2.0 3.5zM132.7 92.4l2.0-3.5l2.0 3.5zM133.5 105.5l2.0-3.5l2.0 3.5zM78.8 42.9l2.0-3.5l2.0 3.5zM170.0 121.9l2.0-3.5l2.0 3.5zM122.4 77.3l2.0-3.5l2.0 3.5zM121.1 111.4l2.0-3.5l2.0 3.5zM100.4 100.4l2.0-3.5l2.0 3.5zM121.8 104.5l2.0-3.5l2.0 3.5zM137.9 109.1l2.0-3.5l2.0 3.5zM139.6 90.6l2.0-3.5l2.0 3.5zM159.6 131.0l2.0-3.5l2.0 3.5zM119.5 87.9l2.0-3.5l2.0 3.5zM126.1 88.2l2.0-3.5l2.0 3.5zM140.1 112.8l2.0-3.5l2.0 3.5zM145.6 84.8l2.0-3.5l2.0 3.5zM162.4 125.9l2.0-3.5l2.0 3.5zM148.1 112.8l2.0-3.5l2.0 3.5zM125.1 100.8l2.0-3.5l2.0 3.5zM143.9 100.0l2.0-3.5l2.0 3.5zM157.9 95.5l2.0-3.5l2.0 3.5zM136.0 91.5l2.0-3.5l2.0 3.5zM120.9 73.0l2.0-3.5l2.0 3.5zM112.2 106.0l2.0-3.5l2.0 3.5zM102.8 72.6l2.0-3.5l2.0 3.5zM122.7 89.7l2.0-3.5l2.0 3.5zM159.3 154.3l2.0-3.5l2.0 3.5zM123.2 93.1l2.0-3.5l2.0 3.5zM137.5 82.4l2.0-3.5l2.0 3.5zM105.8 61.1l2.0-3.5l2.0 3.5zM127.0 111.7l2.0-3.5l2.0 3.5zM154.0 133.1l2.0-3.5l2.0 3.5zM143.1 123.4l2.0-3.5l2.0 3.5zM142.3 116.1l2.0-3.5l2.0 3.5zM176.3 117.3l2.0-3.5l2.0 3.5zM127.6 99.7l2.0-3.5l2.0 3.5zM125.3 90.7l2.0-3.5l2.0 3.5zM131.6 106.0l2.0-3.5l2.0 3.5zM101.3 108.8l2.0-3.5l2.0 3.5zM145.0 81.8l2.0-3.5l2.0 3.5zM123.4 101.7l2.0-3.5l2.0 3.5zM137.8 103.7l2.0-3.5l2.0 3.5zM122.3 97.8l2.0-3.5l2.0 3.5zM88.9 103.1l2.0-3.5l2.0 3.5zM146.6 73.2l2.0-3.5l2.0 3.5zM134.7 117.5l2.0-3.5l2.0 3.5zM123.4 108.5l2.0-3.5l2.0 3.5zM141.5 77.6l2.0-3.5l2.0 3.5z" fill="#EFC000"/>
<path d="M144.2 103.1h2.8v2.8h-2.8zM146.1 113.4h2.8v2.8h-2.8zM128.7 87.9h2.8v2.8h-2.8zM159.9 104.4h2.8v2.8h-2.8zM110.1 49.6h2.8v2.8h-2.8zM152.4 115.8h2.8v2.8h-2.8zM141.3 95.0h2.8v2.8h-2.8zM126.2 104.4h2.8v2.8h-2.8zM114.7 89.7h2.8v2.8h-2.8zM83.3 51.5h2.8v2.8h-2.8zM127.7 88.5h2.8v2.8h-2.8zM140.9 107.1h2.8v2.8h-2.8zM133.4 106.5h2.8v2.8h-2.8zM137.8 106.4h2.8v2.8h-2.8zM130.3 80.9h2.8v2.8h-2.8zM160.8 116.4h2.8v2.8h-2.8zM157.2 127.0h2.8v2.8h-2.8zM162.2 133.2h2.8v2.8h-2.8zM125.1 75.8h2.8v2.8h-2.8zM140.2 97.3h2.8v2.8h-2.8zM128.4 116.0h2.8v2.8h-2.8zM144.6 104.4h2.8v2.8h-2.8zM117.3 72.8h2.8v2.8h-2.8zM156.0 120.5h2.8v2.8h-2.8z" fill="#EFC000"/>
<path d="M78.9 79.5h0M115.4 107.3h0" stroke="#0073C2" stroke-width="3.0" stroke-linecap="round" fill="none"/>
<path d="M86.2 92.4l2.0-3.5l2.0 3.5zM97.8 73.3l2.0-3.5l2.0 3.5zM75.3 69.4l2.0-3.5l2.0 3.5zM98.7 81.2l2.0-3.5l2.0 3.5zM111.2 102.3l2.0-3.5l2.0 3.5zM128.8 108.7l2.0-3.5l2.0 3.5zM89.2 73.6l2.0-3.5l2.0 3.5zM114.6 121.1l2.0-3.5l2.0 3.5zM74.0 65.9l2.0-3.5l2.0 3.5zM97.8 105.1l2.0-3.5l2.0 3.5zM116.5 75.2l2.0-3.5l2.0 3.5zM116.6 89.1l2.0-3.5l2.0 3.5zM104.3 104.5l2.0-3.5l2.0 3.5zM119.8 131.8l2.0-3.5l2.0 3.5zM116.3 121.3l2.0-3.5l2.0 3.5zM90.6 87.4l2.0-3.5l2.0 3.5zM121.8 116.6l2.0-3.5l2.0 3.5zM92.8 76.3l2.0-3.5l2.0 3.5zM103.5 102.0l2.0-3.5l2.0 3.5zM84.6 114.1l2.0-3.5l2.0 3.5zM98.8 112.5l2.0-3.5l2.0 3.5zM90.7 97.8l2.0-3.5l2.0 3.5zM89.7 87.1l2.0-3.5l2.0 3.5zM100.7 132.7l2.0-3.5l2.0 3.5zM66.7 82.4l2.0-3.5l2.0 3.5zM91.0 106.3l2.0-3.5l2.0 3.5zM102.4 71.5l2.0-3.5l2.0 3.5zM90.5 98.9l2.0-3.5l2.0 3.5zM82.7 54.4l2.0-3.5l2.0 3.5zM83.2 101.8l2.0-3.5l2.0 3.5zM85.3 83.0l2.0-3.5l2.0 3.5zM110.7 108.0l2.0-3.5l2.0 3.5zM69.9 77.3l2.0-3.5l2.0 3.5z" fill="#0073C2"/>
<path d="M75.3 94.3h2.8v2.8h-2.8zM84.0 78.5h2.8v2.8h-2.8zM109.4 123.9h2.8v2.8h-2.8zM90.1 78.4h2.8v2.8h-2.8zM40.5 53.1h2.8v2.8h-2.8zM104.9 99.4h2.8v2.8h-2.8zM102.4 91.4h2.8v2.8h-2.8zM97.2 103.0h2.8v2.8h-2.8zM120.2 111.1h2.8v2.8h-2.8zM103.4 93.6h2.8v2.8h-2.8zM112.7 92.3h2.8v2.8h-2.8zM101.3 116.2h2.8v2.8h-2.8zM117.7 102.3h2.8v2.8h-2.8z" fill="#0073C2"/>
<path d="M127.8 84.3h0M150.8 105.6h0M129.5 101.7h0M98.0 76.6h0M141.1 102.4h0M122.8 106.4h0" stroke="#EFC000" stroke-width="3.0" stroke-linecap="round" fill="none"/>
<path d="M143.3 102.6l2.0-3.5l2.0 3.5zM140.8 101.5l2.0-3.5l2.0 3.5zM141.8 130.0l2.0-3.5l2.0 3.5zM128.3 104.7l2.0-3.5l2.0 3.5zM106.9 89.0l2.0-3.5l2.0 3.5zM154.7 114.8l2.0-3.5l2.0 3.5zM115.7 69.5l2.0-3.5l2.0 3.5zM132.1 108.1l2.0-3.5l2.0 3.5zM130.1 95.3l2.0-3.5l2.0 3.5zM124.5 105.5l2.0-3.5l2.0 3.5zM113.0 113.1l2.0-3.5l2.0 3.5zM175.9 82.6l2.0-3.5l2.0 3.5zM118.2 77.5l2.0-3.5l2.0 3.5zM137.4 94.5l2.0-3.5l2.0 3.5zM136.0 94.9l2.0-3.5l2.0 3.5zM159.6 129.2l2.0-3.5l2.0 3.5zM128.0 91.4l2.0-3.5l2.0 3.5zM148.3 105.2l2.0-3.5l2.0 3.5zM80.7 74.3l2.0-3.5l2.0 3.5zM159.6 124.0l2.0-3.5l2.0 3.5zM135.1 84.4l2.0-3.5l2.0 3.5zM133.9 91.3l2.0-3.5l2.0 3.5zM133.8 108.6l2.0-3.5l2.0 3.5zM136.4 90.1l2.0-3.5l2.0 3.5zM159.6 118.6l2.0-3.5l2.0 3.5zM133.4 105.7l2.0-3.5l2.0 3.5zM127.9 112.8l2.0-3.5l2.0 3.5zM178.4 160.2l2.0-3.5l2.0 3.5zM158.2 108.5l2.0-3.5l2.0 3.5zM127.0 93.3l2.0-3.5l2.0 3.5zM162.5 148.8l2.0-3.5l2.0 3.5zM142.0 120.4l2.0-3.5l2.0 3.5zM95.1 76.3l2.0-3.5l2.0 3.5zM107.0 62.0l2.0-3.5l2.0 3.5zM142.3 108.2l2.0-3.5l2.0 3.5zM151.6 122.0l2.0-3.5l2.0 3.5zM122.4 84.0l2.0-3.5l2.0 3.5zM154.2 100.5l2.0-3.5l2.0 3.5zM122.3 83.4l2.0-3.5l2.0 3.5zM125.0 105.7l2.0-3.5l2.0 3.5zM144.0 99.2l2.0-3.5l2.0 3.5zM135.0 104.0l2.0-3.5l2.0 3.5zM134.6 118.1l2.0-3.5l2.0 3.5zM119.7 71.0l2.0-3.5l2.0 3.5zM128.0 108.5l2.0-3.5l2.0 3.5zM165.2 125.5l2.0-3.5l2.0 3.5zM107.5 83.8l2.0-3.5l2.0 3.5zM131.2 92.1l2.0-3.5l2.0 3.5zM145.0 114.8l2.0-3.5l2.0 3.5zM123.3 71.3l2.0-3.5l2.0 3.5zM149.9 113.7l2.0-3.5l2.0 3.5zM145.1 104.1l2.0-3.5l2.0 3.5zM152.0 117.2l2.0-3.5l2.0 3.5zM106.0 82.3l2.0-3.5l2.0 3.5z" fill="#EFC000"/>
<path d="M154.8 101.7h2.8v2.8h-2.8zM132.3 100.4h2.8v2.8h-2.8zM160.2 126.6h2.8v2.8h-2.8zM130.9 87.2h2.8v2.8h-2.8zM112.4 66.4h2.8v2.8h-2.8zM121.9 82.3h2.8v2.8h-2.8zM128.2 94.6h2.8v2.8h-2.8zM108.5 60.2h2.8v2.8h-2.8zM118.6 103.9h2.8v2.8h-2.8zM131.6 96.9h2.8v2.8h-2.8zM135.9 82.0h2.8v2.8h-2.8zM116.3 102.8h2.8v2.8h-2.8zM151.0 126.3h2.8v2.8h-2.8zM132.6 86.8h2.8v2.8h-2.8zM163.2 129.8h2.8v2.8h-2.8zM144.1 91.2h2.8v2.8h-2.8zM153.7 119.6h2.8v2.8h-2.8zM134.2 100.9h2.8v2.8h-2.8zM120.5 75.3h2.8v2.8h-2.8zM130.6 74.6h2.8v2.8h-2.8zM129.5 83.1h2.8v2.8h-2.8zM151.0 121.8h2.8v2.8h-2.8zM147.9 126.3h2.8v2.8h-2.8zM141.5 113.2h2.8v2.8h-2.8zM119.8 72.7h2.8v2.8h-2.8zM133.3 98.1h2.8v2.8h-2.8zM126.7 67.3h2.8v2.8h-2.8zM206.7 154.5h2.8v2.8h-2.8zM158.9 114.0h2.8v2.8h-2.8zM140.0 130.3h2.8v2.8h-2.8zM140.5 118.8h2.8v2.8h-2.8zM148.8 103.0h2.8v2.8h-2.8z" fill="#EFC000"/>
<path d="M106.6 117.8h0M84.0 93.2h0M97.8 98.9h0M116.6 93.1h0M111.6 107.6h0M106.0 97.2h0M91.6 90.3h0" stroke="#0073C2" stroke-width="3.0" stroke-linecap="round" fill="none"/>
<path d="M92.4 95.6l2.0-3.5l2.0 3.5zM111.3 95.6l2.0-3.5l2.0 3.5zM100.4 85.0l2.0-3.5l2.0 3.5zM59.1 81.8l2.0-3.5l2.0 3.5zM86.1 96.4l2.0-3.5l2.0 3.5zM87.6 107.6l2.0-3.5l2.0 3.5zM96.3 90.8l2.0-3.5l2.0 3.5zM97.4 108.2l2.0-3.5l2.0 3.5zM98.7 83.7l2.0-3.5l2.0 3.5zM100.9 102.8l2.0-3.5l2.0 3.5zM78.0 81.9l2.0-3.5l2.0 3.5zM91.8 106.1l2.0-3.5l2.0 3.5zM82.0 87.0l2.0-3.5l2.0 3.5zM86.4 83.7l2.0-3.5l2.0 3.5zM117.1 113.4l2.0-3.5l2.0 3.5zM68.0 65.6l2.0-3.5l2.0 3.5zM137.5 149.8l2.0-3.5l2.0 3.5zM107.2 120.1l2.0-3.5l2.0 3.5zM90.3 89.0l2.0-3.5l2.0 3.5zM82.5 105.0l2.0-3.5l2.0 3.5zM76.5 96.3l2.0-3.5l2.0 3.5zM85.2 72.1l2.0-3.5l2.0 3.5zM89.0 82.4l2.0-3.5l2.0 3.5zM114.6 119.6l2.0-3.5l2.0 3.5zM108.3 135.9l2.0-3.5l2.0 3.5zM121.1 105.2l2.0-3.5l2.0 3.5zM103.9 107.1l2.0-3.5l2.0 3.5z" fill="#0073C2"/>
<path d="M56.6 71.6h2.8v2.8h-2.8zM62.8 73.2h2.8v2.8h-2.8zM81.9 81.2h2.8v2.8h-2.8zM70.2 99.9h2.8v2.8h-2.8zM107.5 115.1h2.8v2.8h-2.8zM100.1 91.9h2.8v2.8h-2.8zM131.6 120.1h2.8v2.8h-2.8zM110.9 97.0h2.8v2.8h-2.8zM97.6 83.8h2.8v2.8h-2.8zM79.3 79.9h2.8v2.8h-2.8zM125.5 113.3h2.8v2.8h-2.8zM121.2 132.3h2.8v2.8h-2.8zM73.9 89.8h2.8v2.8h-2.8zM84.5 92.6h2.8v2.8h-2.8zM97.6 71.0h2.8v2.8h-2.8zM112.5 113.0h2.8v2.8h-2.8zM88.1 81.4h2.8v2.8h-2.8z" fill="#0073C2"/>
<path d="M127.2 97.9h0M137.8 75.8h0M155.5 118.0h0M142.3 107.0h0M116.5 89.4h0" stroke="#EFC000" stroke-width="3.0" stroke-linecap="round" fill="none"/>
<path d="M149.5 117.6l2.0-3.5l2.0 3.5zM179.8 138.7l2.0-3.5l2.0 3.5zM124.2 105.3l2.0-3.5l2.0 3.5zM133.0 107.2l2.0-3.5l2.0 3.5zM140.6 91.1l2.0-3.5l2.0 3.5zM143.7 128.6l2.0-3.5l2.0 3.5zM119.1 105.4l2.0-3.5l2.0 3.5zM124.2 78.1l2.0-3.5l2.0 3.5zM132.6 110.8l2.0-3.5l2.0 3.5zM171.3 149.4l2.0-3.5l2.0 3.5zM145.3 98.3l2.0-3.5l2.0 3.5zM151.7 129.4l2.0-3.5l2.0 3.5zM164.4 109.3l2.0-3.5l2.0 3.5zM123.4 92.5l2.0-3.5l2.0 3.5zM138.5 86.4l2.0-3.5l2.0 3.5zM117.8 101.2l2.0-3.5l2.0 3.5zM144.6 97.1l2.0-3.5l2.0 3.5zM153.3 113.0l2.0-3.5l2.0 3.5zM136.6 75.8l2.0-3.5l2.0 3.5zM156.2 122.2l2.0-3.5l2.0 3.5zM134.7 120.0l2.0-3.5l2.0 3.5zM109.1 73.1l2.0-3.5l2.0 3.5zM114.5 96.7l2.0-3.5l2.0 3.5zM125.5 90.5l2.0-3.5l2.0 3.5zM140.3 75.0l2.0-3.5l2.0 3.5zM70.4 94.8l2.0-3.5l2.0 3.5zM137.8 82.6l2.0-3.5l2.0 3.5zM124.1 66.6l2.0-3.5l2.0 3.5zM145.4 110.1l2.0-3.5l2.0 3.5zM133.4 93.4l2.0-3.5l2.0 3.5zM178.8 131.5l2.0-3.5l2.0 3.5zM119.7 93.4l2.0-3.5l2.0 3.5zM136.4 111.9l2.0-3.5l2.0 3.5zM130.1 85.3l2.0-3.5l2.0 3.5zM130.4 90.5l2.0-3.5l2.0 3.5zM78.1 67.0l2.0-3.5l2.0 3.5zM185.6 113.9l2.0-3.5l2.0 3.5zM146.9 135.0l2.0-3.5l2.0 3.5zM132.0 98.3l2.0-3.5l2.0 3.5zM140.3 101.2l2.0-3.5l2.0 3.5zM113.7 58.2l2.0-3.5l2.0 3.5zM148.3 121.1l2.0-3.5l2.0 3.5zM119.5 82.6l2.0-3.5l2.0 3.5zM161.8 122.0l2.0-3.5l2.0 3.5zM130.9 82.1l2.0-3.5l2.0 3.5zM128.5 93.6l2.0-3.5l2.0 3.5zM137.4 78.7l2.0-3.5l2.0 3.5zM150.1 121.4l2.0-3.5l2.0 3.5zM144.9 143.4l2.0-3.5l2.0 3.5zM120.9 91.2l2.0-3.5l2.0 3.5zM114.7 67.2l2.0-3.5l2.0 3.5z" fill="#EFC000"/>
<path d="M127.7 91.6h2.8v2.8h-2.8zM123.7 70.3h2.8v2.8h-2.8zM113.4 68.4h2.8v2.8h-2.8zM140.1 99.2h2.8v2.8h-2.8zM140.1 100.3h2.8v2.8h-2.8zM128.9 103.2h2.8v2.8h-2.8zM147.7 94.5h2.8v2.8h-2.8zM146.7 108.3h2.8v2.8h-2.8zM177.0 172.8h2.8v2.8h-2.8zM142.2 91.5h2.8v2.8h-2.8zM164.6 132.1h2.8v2.8h-2.8zM141.2 95.5h2.8v2.8h-2.8zM141.3 101.4h2.8v2.8h-2.8zM121.1 47.1h2.8v2.8h-2.8zM117.9 71.5h2.8v2.8h-2.8zM131.2 85.4h2.8v2.8h-2.8zM117.0 98.9h2.8v2.8h-2.8zM151.1 102.7h2.8v2.8h-2.8zM157.1 117.9h2.8v2.8h-2.8zM120.5 78.6h2.8v2.8h-2.8zM150.6 116.2h2.8v2.8h-2.8zM142.5 87.1h2.8v2.8h-2.8zM132.4 90.4h2.8v2.8h-2.8zM91.0 93.4h2.8v2.8h-2.8zM103.0 74.8h2.8v2.8h-2.8zM148.5 76.5h2.8v2.8h-2.8zM151.6 102.4h2.8v2.8h-2.8zM149.0 112.0h2.8v2.8h-2.8zM154.8 113.4h2.8v2.8h-2.8zM169.4 139.5h2.8v2.8h-2.8zM151.5 100.6h2.8v2.8h-2.8zM147.1 72.9h2.8v2.8h-2.8zM157.3 96.0h2.8v2.8h-2.8z" fill="#EFC000"/>
</g>
<polygon points="45.0,49.9 47.6,52.1 50.1,54.4 52.7,56.6 55.3,58.8 57.9,61.1 60.4,63.3 63.0,65.5 65.6,67.7 68.2,69.9 70.7,72.1 73.3,74.4 75.9,76.6 78.5,78.7 81.0,80.9 83.6,83.1 86.2,85.2 88.8,87.4 91.3,89.5 93.9,91.5 96.5,93.6 99.1,95.6 101.6,97.5 104.2,99.4 106.8,101.3 109.4,103.2 111.9,105.0 114.5,106.8 117.1,108.6 119.7,110.3 122.2,112.1 124.8,113.8 127.4,115.6 130.0,117.3 132.5,119.0 135.1,120.8 137.7,122.5 140.3,124.2 142.8,125.9 145.4,127.7 145.4,138.1 142.8,135.9 140.3,133.7 137.7,131.5 135.1,129.2 132.5,127.0 130.0,124.8 127.4,122.6 124.8,120.4 122.2,118.2 119.7,116.0 117.1,113.8 114.5,111.6 111.9,109.5 109.4,107.4 106.8,105.3 104.2,103.2 101.6,101.2 99.1,99.2 96.5,97.2 93.9,95.3 91.3,93.4 88.8,91.6 86.2,89.7 83.6,87.9 81.0,86.2 78.5,84.4 75.9,82.6 73.3,80.9 70.7,79.1 68.2,77.4 65.6,75.7 63.0,73.9 60.4,72.2 57.9,70.5 55.3,68.8 52.7,67.0 50.1,65.3 47.6,63.6 45.0,61.9" fill="#0073C2" fill-opacity="0.4" clip-path="url(#c1)"/>
<line x1="45.0" y1="55.9" x2="145.4" y2="132.9" stroke="#0073C2" stroke-width="1.35" clip-path="url(#c1)"/>
<polygon points="67.0,42.5 71.0,45.7 75.1,48.9 79.1,52.1 83.1,55.4 87.2,58.6 91.2,61.8 95.2,65.0 99.2,68.1 103.3,71.3 107.3,74.5 111.3,77.7 115.4,80.8 119.4,83.9 123.4,87.0 127.5,90.1 131.5,93.1 135.5,96.1 139.6,99.0 143.6,101.9 147.6,104.7 151.6,107.6 155.7,110.4 159.7,113.2 163.7,115.9 167.8,118.7 171.8,121.4 175.8,124.2 179.9,126.9 183.9,129.7 187.9,132.4 192.0,135.2 196.0,137.9 200.0,140.6 204.0,143.4 208.1,146.1 212.1,148.8 216.1,151.5 220.2,154.3 224.2,157.0 224.2,169.0 220.2,165.8 216.1,162.6 212.1,159.3 208.1,156.1 204.0,152.9 200.0,149.7 196.0,146.5 192.0,143.2 187.9,140.0 183.9,136.8 179.9,133.6 175.8,130.4 171.8,127.2 167.8,124.0 163.7,120.8 159.7,117.7 155.7,114.5 151.6,111.4 147.6,108.2 143.6,105.2 139.6,102.1 135.5,99.1 131.5,96.1 127.5,93.2 123.4,90.3 119.4,87.4 115.4,84.6 111.3,81.8 107.3,79.0 103.3,76.2 99.2,73.4 95.2,70.7 91.2,67.9 87.2,65.2 83.1,62.4 79.1,59.7 75.1,57.0 71.0,54.2 67.0,51.5" fill="#EFC000" fill-opacity="0.4" clip-path="url(#c1)"/>
<line x1="67.0" y1="47.0" x2="224.2" y2="163.0" stroke="#EFC000" stroke-width="1.35" clip-path="url(#c1)"/>
<g clip-path="url(#c2)">
<path d="M407.4 101.8h0M407.1 72.0h0M418.8 89.4h0" stroke="#0073C2" stroke-width="3.0" stroke-linecap="round" fill="none"/>
<path d="M352.5 90.3l2.0-3.5l2.0 3.5zM407.5 82.1l2.0-3.5l2.0 3.5zM406.3 111.6l2.0-3.5l2.0 3.5zM418.9 111.5l2.0-3.5l2.0 3.5zM412.7 83.2l2.0-3.5l2.0 3.5zM404.4 111.5l2.0-3.5l2.0 3.5zM415.0 79.9l2.0-3.5l2.0 3.5zM417.1 89.3l2.0-3.5l2.0 3.5zM410.6 79.0l2.0-3.5l2.0 3.5zM402.6 98.5l2.0-3.5l2.0 3.5zM403.9 83.9l2.0-3.5l2.0 3.5zM400.8 100.9l2.0-3.5l2.0 3.5zM401.2 108.8l2.0-3.5l2.0 3.5zM417.5 109.9l2.0-3.5l2.0 3.5zM422.7 126.1l2.0-3.5l2.0 3.5zM400.9 91.7l2.0-3.5l2.0 3.5zM422.5 102.9l2.0-3.5l2.0 3.5zM412.1 87.5l2.0-3.5l2.0 3.5zM422.0 89.2l2.0-3.5l2.0 3.5zM408.9 78.1l2.0-3.5l2.0 3.5zM406.0 112.0l2.0-3.5l2.0 3.5zM425.1 105.5l2.0-3.5l2.0 3.5zM397.8 85.2l2.0-3.5l2.0 3.5zM410.0 108.4l2.0-3.5l2.0 3.5zM412.5 95.0l2.0-3.5l2.0 3.5zM412.8 88.3l2.0-3.5l2.0 3.5zM410.7 87.7l2.0-3.5l2.0 3.5zM414.5 85.6l2.0-3.5l2.0 3.5zM398.4 125.5l2.0-3.5l2.0 3.5zM406.5 113.2l2.0-3.5l2.0 3.5zM415.0 69.9l2.0-3.5l2.0 3.5zM404.0 80.7l2.0-3.5l2.0 3.5zM422.0 96.6l2.0-3.5l2.0 3.5zM405.2 87.4l2.0-3.5l2.0 3.5zM413.1 90.0l2.0-3.5l2.0 3.5zM405.3 92.3l2.0-3.5l2.0 3.5zM420.1 101.4l2.0-3.5l2.0 3.5zM437.7 84.4l2.0-3.5l2.0 3.5zM393.0 110.4l2.0-3.5l2.0 3.5zM415.4 85.6l2.0-3.5l2.0 3.5z" fill="#0073C2"/>
<path d="M419.6 63.9h2.8v2.8h-2.8zM407.8 83.9h2.8v2.8h-2.8zM404.7 62.2h2.8v2.8h-2.8zM410.2 103.3h2.8v2.8h-2.8zM413.9 129.4h2.8v2.8h-2.8zM418.5 138.7h2.8v2.8h-2.8zM400.9 122.4h2.8v2.8h-2.8zM420.1 107.9h2.8v2.8h-2.8zM415.0 80.2h2.8v2.8h-2.8zM416.2 66.0h2.8v2.8h-2.8zM421.9 96.6h2.8v2.8h-2.8zM423.7 105.2h2.8v2.8h-2.8zM411.8 103.1h2.8v2.8h-2.8zM412.2 96.7h2.8v2.8h-2.8zM423.7 94.3h2.8v2.8h-2.8zM409.2 94.3h2.8v2.8h-2.8zM421.3 92.5h2.8v2.8h-2.8zM417.3 117.8h2.8v2.8h-2.8z" fill="#0073C2"/>
<path d="M309.5 99.6h0M310.2 59.6h0M301.9 93.8h0M313.1 92.1h0M304.4 104.5h0M301.3 94.5h0M294.1 92.4h0M308.8 91.0h0" stroke="#EFC000" stroke-width="3.0" stroke-linecap="round" fill="none"/>
<path d="M360.9 155.4l2.0-3.5l2.0 3.5zM337.5 170.9l2.0-3.5l2.0 3.5zM311.2 84.1l2.0-3.5l2.0 3.5zM326.5 99.6l2.0-3.5l2.0 3.5zM312.1 95.5l2.0-3.5l2.0 3.5zM307.3 128.9l2.0-3.5l2.0 3.5zM306.0 106.9l2.0-3.5l2.0 3.5zM300.3 101.9l2.0-3.5l2.0 3.5zM301.1 94.1l2.0-3.5l2.0 3.5zM298.6 175.4l2.0-3.5l2.0 3.5zM301.0 122.8l2.0-3.5l2.0 3.5zM314.0 102.7l2.0-3.5l2.0 3.5zM288.3 93.1l2.0-3.5l2.0 3.5zM281.9 84.2l2.0-3.5l2.0 3.5zM327.1 127.2l2.0-3.5l2.0 3.5zM312.6 84.9l2.0-3.5l2.0 3.5zM305.2 109.9l2.0-3.5l2.0 3.5zM310.9 52.9l2.0-3.5l2.0 3.5zM297.2 110.8l2.0-3.5l2.0 3.5zM318.2 133.2l2.0-3.5l2.0 3.5zM316.5 102.6l2.0-3.5l2.0 3.5zM296.9 106.6l2.0-3.5l2.0 3.5zM280.9 127.1l2.0-3.5l2.0 3.5zM305.4 103.2l2.0-3.5l2.0 3.5zM280.0 100.5l2.0-3.5l2.0 3.5zM305.5 112.2l2.0-3.5l2.0 3.5zM295.6 86.4l2.0-3.5l2.0 3.5zM301.5 119.6l2.0-3.5l2.0 3.5zM303.7 81.4l2.0-3.5l2.0 3.5zM314.8 95.4l2.0-3.5l2.0 3.5zM298.3 101.3l2.0-3.5l2.0 3.5zM300.9 97.8l2.0-3.5l2.0 3.5zM327.3 123.5l2.0-3.5l2.0 3.5zM294.6 87.0l2.0-3.5l2.0 3.5zM323.8 113.8l2.0-3.5l2.0 3.5zM300.0 110.2l2.0-3.5l2.0 3.5zM312.1 118.0l2.0-3.5l2.0 3.5zM314.1 95.8l2.0-3.5l2.0 3.5zM303.7 103.1l2.0-3.5l2.0 3.5zM304.9 109.3l2.0-3.5l2.0 3.5zM312.6 102.8l2.0-3.5l2.0 3.5zM301.7 81.7l2.0-3.5l2.0 3.5zM301.7 92.6l2.0-3.5l2.0 3.5z" fill="#EFC000"/>
<path d="M301.5 111.1h2.8v2.8h-2.8zM283.6 79.4h2.8v2.8h-2.8zM308.6 93.1h2.8v2.8h-2.8zM297.1 87.3h2.8v2.8h-2.8zM320.3 88.0h2.8v2.8h-2.8zM291.6 70.6h2.8v2.8h-2.8zM304.3 100.0h2.8v2.8h-2.8zM309.3 88.7h2.8v2.8h-2.8zM294.6 94.1h2.8v2.8h-2.8zM303.6 103.9h2.8v2.8h-2.8zM307.7 164.7h2.8v2.8h-2.8zM316.1 105.1h2.8v2.8h-2.8zM309.7 78.5h2.8v2.8h-2.8zM298.0 80.6h2.8v2.8h-2.8zM306.8 81.0h2.8v2.8h-2.8zM303.6 122.7h2.8v2.8h-2.8zM293.9 73.8h2.8v2.8h-2.8zM308.0 100.2h2.8v2.8h-2.8zM305.4 56.3h2.8v2.8h-2.8zM283.5 63.3h2.8v2.8h-2.8zM303.9 101.9h2.8v2.8h-2.8zM302.6 162.1h2.8v2.8h-2.8zM306.0 94.7h2.8v2.8h-2.8zM308.2 117.5h2.8v2.8h-2.8zM295.1 80.2h2.8v2.8h-2.8zM290.5 107.6h2.8v2.8h-2.8zM301.0 103.6h2.8v2.8h-2.8zM295.3 94.7h2.8v2.8h-2.8z" fill="#EFC000"/>
<path d="M392.6 135.9h0M404.7 98.1h0M412.5 136.6h0M419.7 96.7h0M402.4 114.5h0M435.2 111.4h0M436.1 96.0h0" stroke="#0073C2" stroke-width="3.0" stroke-linecap="round" fill="none"/>
<path d="M410.4 49.6l2.0-3.5l2.0 3.5zM424.1 123.2l2.0-3.5l2.0 3.5zM429.3 82.6l2.0-3.5l2.0 3.5zM413.6 93.2l2.0-3.5l2.0 3.5zM416.0 129.5l2.0-3.5l2.0 3.5zM417.2 120.8l2.0-3.5l2.0 3.5zM406.5 73.9l2.0-3.5l2.0 3.5zM411.7 94.9l2.0-3.5l2.0 3.5zM427.1 75.2l2.0-3.5l2.0 3.5zM416.9 81.7l2.0-3.5l2.0 3.5zM411.2 99.6l2.0-3.5l2.0 3.5zM438.2 90.7l2.0-3.5l2.0 3.5zM409.0 98.6l2.0-3.5l2.0 3.5zM408.4 102.2l2.0-3.5l2.0 3.5zM412.1 91.7l2.0-3.5l2.0 3.5zM406.7 80.5l2.0-3.5l2.0 3.5zM400.2 99.6l2.0-3.5l2.0 3.5zM415.5 73.9l2.0-3.5l2.0 3.5zM406.8 109.2l2.0-3.5l2.0 3.5zM422.4 98.1l2.0-3.5l2.0 3.5zM399.7 83.9l2.0-3.5l2.0 3.5zM418.9 67.9l2.0-3.5l2.0 3.5zM410.9 114.1l2.0-3.5l2.0 3.5z" fill="#0073C2"/>
<path d="M419.1 109.6h2.8v2.8h-2.8zM404.0 104.3h2.8v2.8h-2.8zM422.9 91.0h2.8v2.8h-2.8zM415.3 90.2h2.8v2.8h-2.8zM412.1 100.2h2.8v2.8h-2.8zM414.4 104.3h2.8v2.8h-2.8zM409.3 96.0h2.8v2.8h-2.8zM408.3 97.1h2.8v2.8h-2.8zM412.2 98.6h2.8v2.8h-2.8zM420.9 103.1h2.8v2.8h-2.8zM414.8 97.1h2.8v2.8h-2.8zM424.2 111.0h2.8v2.8h-2.8zM424.1 114.7h2.8v2.8h-2.8z" fill="#0073C2"/>
<path d="M311.4 107.4h0M361.3 113.7h0M315.4 102.3h0M300.7 111.2h0M291.6 92.5h0M304.6 113.9h0M309.2 97.1h0M308.2 93.9h0M301.1 97.5h0" stroke="#EFC000" stroke-width="3.0" stroke-linecap="round" fill="none"/>
<path d="M285.6 86.7l2.0-3.5l2.0 3.5zM303.3 86.5l2.0-3.5l2.0 3.5zM295.6 114.8l2.0-3.5l2.0 3.5zM304.0 111.8l2.0-3.5l2.0 3.5zM289.8 132.1l2.0-3.5l2.0 3.5zM303.8 77.2l2.0-3.5l2.0 3.5zM301.9 117.3l2.0-3.5l2.0 3.5zM302.7 94.2l2.0-3.5l2.0 3.5zM299.5 84.1l2.0-3.5l2.0 3.5zM299.4 98.5l2.0-3.5l2.0 3.5zM293.3 88.3l2.0-3.5l2.0 3.5zM314.4 94.8l2.0-3.5l2.0 3.5zM301.9 123.2l2.0-3.5l2.0 3.5zM301.1 110.7l2.0-3.5l2.0 3.5zM301.2 84.7l2.0-3.5l2.0 3.5zM298.6 77.9l2.0-3.5l2.0 3.5zM301.4 116.5l2.0-3.5l2.0 3.5zM300.4 85.5l2.0-3.5l2.0 3.5zM304.3 138.0l2.0-3.5l2.0 3.5zM310.6 76.5l2.0-3.5l2.0 3.5zM312.7 142.0l2.0-3.5l2.0 3.5zM296.5 133.4l2.0-3.5l2.0 3.5zM303.5 79.8l2.0-3.5l2.0 3.5zM318.6 115.6l2.0-3.5l2.0 3.5zM313.8 90.1l2.0-3.5l2.0 3.5zM334.9 145.4l2.0-3.5l2.0 3.5zM289.9 98.6l2.0-3.5l2.0 3.5zM305.5 103.2l2.0-3.5l2.0 3.5zM303.8 122.7l2.0-3.5l2.0 3.5zM298.5 115.3l2.0-3.5l2.0 3.5zM304.1 84.3l2.0-3.5l2.0 3.5zM301.5 115.9l2.0-3.5l2.0 3.5zM318.8 108.2l2.0-3.5l2.0 3.5zM308.8 92.5l2.0-3.5l2.0 3.5zM302.6 74.4l2.0-3.5l2.0 3.5zM312.6 99.6l2.0-3.5l2.0 3.5zM297.7 79.6l2.0-3.5l2.0 3.5zM304.3 117.7l2.0-3.5l2.0 3.5zM310.3 122.9l2.0-3.5l2.0 3.5zM299.1 96.7l2.0-3.5l2.0 3.5zM298.5 133.2l2.0-3.5l2.0 3.5zM294.2 83.8l2.0-3.5l2.0 3.5zM301.1 110.7l2.0-3.5l2.0 3.5zM301.9 106.1l2.0-3.5l2.0 3.5zM318.9 104.8l2.0-3.5l2.0 3.5zM305.6 118.1l2.0-3.5l2.0 3.5zM299.4 128.8l2.0-3.5l2.0 3.5zM294.8 84.7l2.0-3.5l2.0 3.5zM316.9 110.4l2.0-3.5l2.0 3.5zM304.7 107.1l2.0-3.5l2.0 3.5zM317.9 100.4l2.0-3.5l2.0 3.5zM299.5 112.3l2.0-3.5l2.0 3.5zM295.7 82.6l2.0-3.5l2.0 3.5zM302.8 122.8l2.0-3.5l2.0 3.5zM300.0 112.6l2.0-3.5l2.0 3.5z" fill="#EFC000"/>
<path d="M254.0 67.1h2.8v2.8h-2.8zM323.2 72.0h2.8v2.8h-2.8zM316.0 101.6h2.8v2.8h-2.8zM308.8 76.9h2.8v2.8h-2.8zM293.1 129.9h2.8v2.8h-2.8zM308.3 116.8h2.8v2.8h-2.8zM302.2 93.3h2.8v2.8h-2.8zM311.6 109.9h2.8v2.8h-2.8zM281.8 85.8h2.8v2.8h-2.8zM299.4 107.6h2.8v2.8h-2.8zM271.9 108.3h2.8v2.8h-2.8zM301.4 94.3h2.8v2.8h-2.8zM301.2 98.9h2.8v2.8h-2.8zM276.8 86.6h2.8v2.8h-2.8zM288.4 116.4h2.8v2.8h-2.8zM310.6 116.2h2.8v2.8h-2.8zM303.8 68.3h2.8v2.8h-2.8zM322.8 121.0h2.8v2.8h-2.8zM297.9 95.1h2.8v2.8h-2.8zM298.4 48.3h2.8v2.8h-2.8zM306.7 80.7h2.8v2.8h-2.8zM297.5 102.9h2.8v2.8h-2.8zM306.3 91.0h2.8v2.8h-2.8zM321.5 52.8h2.8v2.8h-2.8zM300.0 118.4h2.8v2.8h-2.8zM307.1 101.8h2.8v2.8h-2.8zM301.5 80.5h2.8v2.8h-2.8zM289.6 99.1h2.8v2.8h-2.8zM282.6 122.3h2.8v2.8h-2.8zM318.0 91.5h2.8v2.8h-2.8zM292.4 89.5h2.8v2.8h-2.8zM294.9 66.2h2.8v2.8h-2.8zM316.5 104.5h2.8v2.8h-2.8z" fill="#EFC000"/>
<path d="M409.3 101.1h0M401.2 100.0h0M408.6 116.8h0M412.7 93.7h0M401.3 96.9h0M417.7 93.1h0M403.5 98.2h0M419.6 94.9h0M407.4 97.6h0" stroke="#0073C2" stroke-width="3.0" stroke-linecap="round" fill="none"/>
<path d="M411.2 98.5l2.0-3.5l2.0 3.5zM401.1 109.1l2.0-3.5l2.0 3.5zM400.4 101.6l2.0-3.5l2.0 3.5zM382.2 109.1l2.0-3.5l2.0 3.5zM424.7 81.9l2.0-3.5l2.0 3.5zM399.3 110.1l2.0-3.5l2.0 3.5zM418.3 84.7l2.0-3.5l2.0 3.5zM405.2 94.0l2.0-3.5l2.0 3.5zM408.1 72.5l2.0-3.5l2.0 3.5zM417.8 81.9l2.0-3.5l2.0 3.5zM410.9 94.3l2.0-3.5l2.0 3.5zM437.7 95.0l2.0-3.5l2.0 3.5zM400.5 69.2l2.0-3.5l2.0 3.5zM408.1 83.2l2.0-3.5l2.0 3.5zM377.8 119.0l2.0-3.5l2.0 3.5zM382.2 89.6l2.0-3.5l2.0 3.5zM377.6 100.7l2.0-3.5l2.0 3.5zM413.1 128.0l2.0-3.5l2.0 3.5zM403.9 116.9l2.0-3.5l2.0 3.5zM404.5 89.2l2.0-3.5l2.0 3.5zM402.9 95.0l2.0-3.5l2.0 3.5zM428.0 99.7l2.0-3.5l2.0 3.5zM411.9 62.6l2.0-3.5l2.0 3.5zM397.8 80.1l2.0-3.5l2.0 3.5zM409.1 119.9l2.0-3.5l2.0 3.5zM419.9 83.1l2.0-3.5l2.0 3.5zM387.7 82.7l2.0-3.5l2.0 3.5zM401.8 84.6l2.0-3.5l2.0 3.5zM406.3 94.6l2.0-3.5l2.0 3.5zM425.8 84.1l2.0-3.5l2.0 3.5zM401.5 126.6l2.0-3.5l2.0 3.5z" fill="#0073C2"/>
<path d="M419.1 96.4h2.8v2.8h-2.8zM413.8 106.1h2.8v2.8h-2.8zM420.1 87.1h2.8v2.8h-2.8zM392.2 97.1h2.8v2.8h-2.8zM437.5 87.6h2.8v2.8h-2.8zM404.2 102.8h2.8v2.8h-2.8zM402.4 101.8h2.8v2.8h-2.8zM404.8 110.1h2.8v2.8h-2.8zM423.9 111.6h2.8v2.8h-2.8zM410.5 78.9h2.8v2.8h-2.8zM408.6 103.4h2.8v2.8h-2.8zM402.7 88.2h2.8v2.8h-2.8zM409.3 86.0h2.8v2.8h-2.8zM408.9 89.1h2.8v2.8h-2.8zM416.1 85.4h2.8v2.8h-2.8zM408.0 80.9h2.8v2.8h-2.8zM411.6 96.6h2.8v2.8h-2.8zM409.7 111.4h2.8v2.8h-2.8z" fill="#0073C2"/>
<path d="M294.4 71.7h0M318.3 115.9h0M307.1 132.2h0M313.5 130.5h0M300.8 80.6h0M290.3 121.5h0M290.8 124.6h0M304.7 74.3h0" stroke="#EFC000" stroke-width="3.0" stroke-linecap="round" fill="none"/>
<path d="M318.0 86.7l2.0-3.5l2.0 3.5zM303.9 155.5l2.0-3.5l2.0 3.5zM307.2 93.8l2.0-3.5l2.0 3.5zM295.6 109.5l2.0-3.5l2.0 3.5zM302.6 120.2l2.0-3.5l2.0 3.5zM301.7 128.7l2.0-3.5l2.0 3.5zM279.1 66.5l2.0-3.5l2.0 3.5zM296.7 78.1l2.0-3.5l2.0 3.5zM311.6 64.6l2.0-3.5l2.0 3.5zM304.6 65.9l2.0-3.5l2.0 3.5zM297.2 77.4l2.0-3.5l2.0 3.5zM302.2 87.7l2.0-3.5l2.0 3.5zM316.5 95.7l2.0-3.5l2.0 3.5zM306.3 108.5l2.0-3.5l2.0 3.5zM293.8 80.4l2.0-3.5l2.0 3.5zM302.9 137.3l2.0-3.5l2.0 3.5zM300.8 77.7l2.0-3.5l2.0 3.5zM287.6 99.5l2.0-3.5l2.0 3.5zM270.9 86.2l2.0-3.5l2.0 3.5zM302.7 94.3l2.0-3.5l2.0 3.5zM286.9 87.7l2.0-3.5l2.0 3.5zM309.3 110.4l2.0-3.5l2.0 3.5zM289.5 63.8l2.0-3.5l2.0 3.5zM303.1 124.2l2.0-3.5l2.0 3.5zM309.9 102.0l2.0-3.5l2.0 3.5zM305.6 94.6l2.0-3.5l2.0 3.5zM302.7 61.0l2.0-3.5l2.0 3.5zM302.4 96.2l2.0-3.5l2.0 3.5zM294.8 107.0l2.0-3.5l2.0 3.5zM298.4 104.7l2.0-3.5l2.0 3.5zM304.3 120.1l2.0-3.5l2.0 3.5zM300.0 124.1l2.0-3.5l2.0 3.5zM291.9 79.3l2.0-3.5l2.0 3.5zM317.7 95.5l2.0-3.5l2.0 3.5zM319.9 91.3l2.0-3.5l2.0 3.5zM306.7 97.8l2.0-3.5l2.0 3.5zM306.5 123.0l2.0-3.5l2.0 3.5zM306.4 132.9l2.0-3.5l2.0 3.5zM305.5 163.8l2.0-3.5l2.0 3.5zM305.9 84.4l2.0-3.5l2.0 3.5zM307.1 156.9l2.0-3.5l2.0 3.5zM292.0 102.9l2.0-3.5l2.0 3.5zM304.4 87.6l2.0-3.5l2.0 3.5zM297.9 82.9l2.0-3.5l2.0 3.5zM311.8 71.3l2.0-3.5l2.0 3.5zM304.9 77.5l2.0-3.5l2.0 3.5zM307.3 79.5l2.0-3.5l2.0 3.5zM298.6 98.3l2.0-3.5l2.0 3.5zM306.4 109.4l2.0-3.5l2.0 3.5zM300.8 121.1l2.0-3.5l2.0 3.5z" fill="#EFC000"/>
<path d="M313.1 105.7h2.8v2.8h-2.8zM314.8 101.5h2.8v2.8h-2.8zM288.4 99.5h2.8v2.8h-2.8zM306.1 63.8h2.8v2.8h-2.8zM300.5 117.2h2.8v2.8h-2.8zM317.4 103.8h2.8v2.8h-2.8zM310.1 118.4h2.8v2.8h-2.8zM293.9 104.2h2.8v2.8h-2.8zM303.9 118.7h2.8v2.8h-2.8zM300.8 111.5h2.8v2.8h-2.8zM301.9 110.9h2.8v2.8h-2.8zM308.7 103.5h2.8v2.8h-2.8zM311.1 84.7h2.8v2.8h-2.8zM298.4 68.2h2.8v2.8h-2.8zM312.2 109.6h2.8v2.8h-2.8zM305.6 114.7h2.8v2.8h-2.8zM302.2 96.7h2.8v2.8h-2.8zM286.3 101.7h2.8v2.8h-2.8zM309.9 83.5h2.8v2.8h-2.8zM302.7 113.9h2.8v2.8h-2.8zM308.5 94.2h2.8v2.8h-2.8zM308.7 101.8h2.8v2.8h-2.8zM307.9 70.5h2.8v2.8h-2.8zM313.1 117.5h2.8v2.8h-2.8z" fill="#EFC000"/>
<path d="M437.9 106.2h0M413.2 71.0h0M425.1 88.3h0M420.2 113.3h0M426.0 109.1h0M403.5 118.7h0M410.7 101.0h0M431.6 83.0h0" stroke="#0073C2" stroke-width="3.0" stroke-linecap="round" fill="none"/>
<path d="M413.8 87.3l2.0-3.5l2.0 3.5zM410.8 109.0l2.0-3.5l2.0 3.5zM400.8 115.6l2.0-3.5l2.0 3.5zM434.7 86.2l2.0-3.5l2.0 3.5zM409.9 76.2l2.0-3.5l2.0 3.5zM407.3 102.7l2.0-3.5l2.0 3.5zM418.4 95.2l2.0-3.5l2.0 3.5zM403.4 105.6l2.0-3.5l2.0 3.5zM414.8 117.8l2.0-3.5l2.0 3.5zM412.3 102.1l2.0-3.5l2.0 3.5zM392.4 79.6l2.0-3.5l2.0 3.5zM408.0 98.7l2.0-3.5l2.0 3.5zM395.8 84.6l2.0-3.5l2.0 3.5zM404.7 116.9l2.0-3.5l2.0 3.5zM407.1 84.6l2.0-3.5l2.0 3.5zM427.7 91.6l2.0-3.5l2.0 3.5zM396.8 81.4l2.0-3.5l2.0 3.5zM432.6 100.0l2.0-3.5l2.0 3.5zM388.9 127.9l2.0-3.5l2.0 3.5zM404.4 106.6l2.0-3.5l2.0 3.5zM411.1 88.6l2.0-3.5l2.0 3.5zM422.0 90.9l2.0-3.5l2.0 3.5zM404.7 82.1l2.0-3.5l2.0 3.5zM410.2 106.5l2.0-3.5l2.0 3.5zM394.7 86.7l2.0-3.5l2.0 3.5zM412.8 159.1l2.0-3.5l2.0 3.5zM420.4 92.0l2.0-3.5l2.0 3.5zM415.2 101.3l2.0-3.5l2.0 3.5zM403.0 117.3l2.0-3.5l2.0 3.5zM418.9 103.7l2.0-3.5l2.0 3.5zM406.8 74.5l2.0-3.5l2.0 3.5zM405.9 98.5l2.0-3.5l2.0 3.5zM412.6 97.9l2.0-3.5l2.0 3.5z" fill="#0073C2"/>
<path d="M412.2 103.9h2.8v2.8h-2.8zM409.6 112.7h2.8v2.8h-2.8zM413.9 110.4h2.8v2.8h-2.8zM444.3 72.9h2.8v2.8h-2.8zM407.0 100.0h2.8v2.8h-2.8zM396.3 101.5h2.8v2.8h-2.8zM407.1 79.3h2.8v2.8h-2.8zM412.3 111.1h2.8v2.8h-2.8zM404.0 75.5h2.8v2.8h-2.8zM416.6 123.8h2.8v2.8h-2.8zM413.9 73.2h2.8v2.8h-2.8zM419.3 87.0h2.8v2.8h-2.8zM413.9 64.4h2.8v2.8h-2.8zM416.6 77.8h2.8v2.8h-2.8zM411.2 109.0h2.8v2.8h-2.8zM407.1 79.7h2.8v2.8h-2.8zM413.0 61.1h2.8v2.8h-2.8zM432.9 99.7h2.8v2.8h-2.8zM405.6 96.1h2.8v2.8h-2.8z" fill="#0073C2"/>
<path d="M299.3 77.5h0M291.6 91.4h0M304.6 59.9h0M302.0 90.9h0M295.5 83.9h0M306.1 57.7h0M315.1 99.5h0M303.6 86.3h0M293.0 82.1h0" stroke="#EFC000" stroke-width="3.0" stroke-linecap="round" fill="none"/>
<path d="M309.4 109.7l2.0-3.5l2.0 3.5zM293.7 76.7l2.0-3.5l2.0 3.5zM300.2 69.5l2.0-3.5l2.0 3.5zM321.4 136.0l2.0-3.5l2.0 3.5zM298.6 73.5l2.0-3.5l2.0 3.5zM307.1 85.8l2.0-3.5l2.0 3.5zM326.1 97.6l2.0-3.5l2.0 3.5zM291.4 105.5l2.0-3.5l2.0 3.5zM288.5 85.8l2.0-3.5l2.0 3.5zM281.3 85.3l2.0-3.5l2.0 3.5zM310.8 110.2l2.0-3.5l2.0 3.5zM304.1 120.1l2.0-3.5l2.0 3.5zM295.7 86.1l2.0-3.5l2.0 3.5zM292.7 106.0l2.0-3.5l2.0 3.5zM295.5 89.9l2.0-3.5l2.0 3.5zM332.1 111.4l2.0-3.5l2.0 3.5zM319.0 141.5l2.0-3.5l2.0 3.5zM309.0 43.2l2.0-3.5l2.0 3.5zM309.9 107.9l2.0-3.5l2.0 3.5zM314.6 108.1l2.0-3.5l2.0 3.5zM293.1 80.7l2.0-3.5l2.0 3.5zM306.7 79.7l2.0-3.5l2.0 3.5zM309.4 108.2l2.0-3.5l2.0 3.5zM267.7 88.8l2.0-3.5l2.0 3.5zM309.9 121.8l2.0-3.5l2.0 3.5zM310.0 100.2l2.0-3.5l2.0 3.5zM299.9 111.4l2.0-3.5l2.0 3.5zM300.5 118.3l2.0-3.5l2.0 3.5zM311.6 89.2l2.0-3.5l2.0 3.5zM305.2 94.4l2.0-3.5l2.0 3.5zM309.8 104.0l2.0-3.5l2.0 3.5zM320.0 101.2l2.0-3.5l2.0 3.5zM300.2 101.8l2.0-3.5l2.0 3.5zM302.4 93.9l2.0-3.5l2.0 3.5zM296.9 111.6l2.0-3.5l2.0 3.5zM312.1 98.9l2.0-3.5l2.0 3.5zM311.7 98.2l2.0-3.5l2.0 3.5zM304.4 79.0l2.0-3.5l2.0 3.5zM316.2 119.2l2.0-3.5l2.0 3.5zM307.5 117.5l2.0-3.5l2.0 3.5zM310.4 119.6l2.0-3.5l2.0 3.5zM297.1 91.8l2.0-3.5l2.0 3.5zM315.6 127.6l2.0-3.5l2.0 3.5zM297.8 112.4l2.0-3.5l2.0 3.5zM319.6 133.0l2.0-3.5l2.0 3.5zM324.9 100.4l2.0-3.5l2.0 3.5zM302.9 112.2l2.0-3.5l2.0 3.5zM296.4 85.3l2.0-3.5l2.0 3.5z" fill="#EFC000"/>
<path d="M305.4 108.4h2.8v2.8h-2.8zM318.7 127.9h2.8v2.8h-2.8zM310.9 112.2h2.8v2.8h-2.8zM312.1 130.5h2.8v2.8h-2.8zM301.8 89.5h2.8v2.8h-2.8zM281.4 111.1h2.8v2.8h-2.8zM295.6 79.2h2.8v2.8h-2.8zM316.4 102.0h2.8v2.8h-2.8zM292.4 105.9h2.8v2.8h-2.8zM315.0 127.6h2.8v2.8h-2.8zM300.4 82.9h2.8v2.8h-2.8zM306.5 88.3h2.8v2.8h-2.8zM311.9 125.5h2.8v2.8h-2.8zM312.1 91.6h2.8v2.8h-2.8zM299.9 115.8h2.8v2.8h-2.8zM303.3 94.4h2.8v2.8h-2.8zM288.0 110.6h2.8v2.8h-2.8zM318.6 99.0h2.8v2.8h-2.8zM290.8 81.6h2.8v2.8h-2.8zM292.0 80.7h2.8v2.8h-2.8zM305.9 128.3h2.8v2.8h-2.8zM312.2 81.8h2.8v2.8h-2.8zM293.0 72.7h2.8v2.8h-2.8z" fill="#EFC000"/>
<path d="M409.2 92.9h0M405.7 71.8h0M419.6 68.7h0M419.1 105.3h0M406.9 93.7h0M413.7 96.2h0M418.4 80.1h0M410.5 135.7h0M413.2 101.1h0M422.8 44.2h0" stroke="#0073C2" stroke-width="3.0" stroke-linecap="round" fill="none"/>
<path d="M421.8 97.4l2.0-3.5l2.0 3.5zM413.8 134.9l2.0-3.5l2.0 3.5zM409.2 101.4l2.0-3.5l2.0 3.5zM407.0 73.7l2.0-3.5l2.0 3.5zM404.2 97.9l2.0-3.5l2.0 3.5zM418.0 118.5l2.0-3.5l2.0 3.5zM414.9 72.9l2.0-3.5l2.0 3.5zM417.4 110.3l2.0-3.5l2.0 3.5zM421.4 94.5l2.0-3.5l2.0 3.5zM407.9 60.5l2.0-3.5l2.0 3.5zM421.3 83.7l2.0-3.5l2.0 3.5zM425.3 112.3l2.0-3.5l2.0 3.5zM409.1 88.5l2.0-3.5l2.0 3.5zM429.8 107.1l2.0-3.5l2.0 3.5zM411.8 93.1l2.0-3.5l2.0 3.5zM407.1 97.8l2.0-3.5l2.0 3.5zM419.8 90.0l2.0-3.5l2.0 3.5zM421.6 112.4l2.0-3.5l2.0 3.5zM403.8 71.5l2.0-3.5l2.0 3.5zM415.6 113.2l2.0-3.5l2.0 3.5zM394.3 101.3l2.0-3.5l2.0 3.5zM413.3 103.8l2.0-3.5l2.0 3.5zM410.2 41.5l2.0-3.5l2.0 3.5zM383.3 96.4l2.0-3.5l2.0 3.5zM421.1 77.1l2.0-3.5l2.0 3.5zM397.1 107.8l2.0-3.5l2.0 3.5zM413.2 92.4l2.0-3.5l2.0 3.5z" fill="#0073C2"/>
<path d="M402.0 62.4h2.8v2.8h-2.8zM412.4 88.5h2.8v2.8h-2.8zM417.1 118.7h2.8v2.8h-2.8zM420.3 140.0h2.8v2.8h-2.8zM423.6 115.7h2.8v2.8h-2.8zM411.9 76.2h2.8v2.8h-2.8zM411.3 121.1h2.8v2.8h-2.8zM413.0 99.0h2.8v2.8h-2.8zM409.9 75.1h2.8v2.8h-2.8zM429.8 105.8h2.8v2.8h-2.8zM412.9 70.8h2.8v2.8h-2.8zM418.4 93.7h2.8v2.8h-2.8zM405.1 97.2h2.8v2.8h-2.8zM415.0 96.3h2.8v2.8h-2.8zM421.8 70.9h2.8v2.8h-2.8zM442.4 120.6h2.8v2.8h-2.8zM421.9 104.0h2.8v2.8h-2.8zM432.2 109.4h2.8v2.8h-2.8z" fill="#0073C2"/>
<path d="M299.7 115.4h0M292.4 119.7h0M315.0 80.8h0M310.4 86.9h0M298.7 99.4h0M298.9 76.2h0" stroke="#EFC000" stroke-width="3.0" stroke-linecap="round" fill="none"/>
<path d="M306.5 103.3l2.0-3.5l2.0 3.5zM301.4 117.5l2.0-3.5l2.0 3.5zM276.2 111.9l2.0-3.5l2.0 3.5zM310.1 82.7l2.0-3.5l2.0 3.5zM297.5 95.0l2.0-3.5l2.0 3.5zM296.4 101.3l2.0-3.5l2.0 3.5zM304.1 107.8l2.0-3.5l2.0 3.5zM313.0 118.1l2.0-3.5l2.0 3.5zM300.3 88.0l2.0-3.5l2.0 3.5zM316.4 77.6l2.0-3.5l2.0 3.5zM292.6 89.7l2.0-3.5l2.0 3.5zM298.5 142.2l2.0-3.5l2.0 3.5zM284.3 83.0l2.0-3.5l2.0 3.5zM293.8 70.4l2.0-3.5l2.0 3.5zM309.1 175.2l2.0-3.5l2.0 3.5zM299.2 101.9l2.0-3.5l2.0 3.5zM298.3 83.4l2.0-3.5l2.0 3.5zM300.0 65.6l2.0-3.5l2.0 3.5zM286.4 107.1l2.0-3.5l2.0 3.5zM317.6 100.6l2.0-3.5l2.0 3.5zM313.7 48.3l2.0-3.5l2.0 3.5zM298.7 133.1l2.0-3.5l2.0 3.5zM322.4 102.3l2.0-3.5l2.0 3.5zM320.4 106.4l2.0-3.5l2.0 3.5zM288.6 64.2l2.0-3.5l2.0 3.5zM286.3 96.0l2.0-3.5l2.0 3.5zM313.5 106.0l2.0-3.5l2.0 3.5zM298.5 103.7l2.0-3.5l2.0 3.5zM303.1 74.5l2.0-3.5l2.0 3.5zM296.4 147.8l2.0-3.5l2.0 3.5zM290.9 91.6l2.0-3.5l2.0 3.5zM294.9 125.7l2.0-3.5l2.0 3.5zM289.5 88.1l2.0-3.5l2.0 3.5zM302.6 102.3l2.0-3.5l2.0 3.5zM295.0 101.3l2.0-3.5l2.0 3.5zM303.7 89.2l2.0-3.5l2.0 3.5zM298.1 79.3l2.0-3.5l2.0 3.5zM275.9 112.4l2.0-3.5l2.0 3.5zM296.5 106.4l2.0-3.5l2.0 3.5zM294.8 107.0l2.0-3.5l2.0 3.5zM307.1 115.4l2.0-3.5l2.0 3.5zM292.6 101.5l2.0-3.5l2.0 3.5zM312.9 104.9l2.0-3.5l2.0 3.5zM297.6 103.3l2.0-3.5l2.0 3.5zM314.7 109.7l2.0-3.5l2.0 3.5zM304.6 81.7l2.0-3.5l2.0 3.5zM294.2 94.0l2.0-3.5l2.0 3.5zM277.2 73.5l2.0-3.5l2.0 3.5zM316.1 86.6l2.0-3.5l2.0 3.5zM301.8 100.3l2.0-3.5l2.0 3.5zM298.9 91.3l2.0-3.5l2.0 3.5zM286.1 107.5l2.0-3.5l2.0 3.5zM304.6 91.9l2.0-3.5l2.0 3.5zM305.9 114.4l2.0-3.5l2.0 3.5zM304.2 76.6l2.0-3.5l2.0 3.5zM306.0 108.6l2.0-3.5l2.0 3.5z" fill="#EFC000"/>
<path d="M295.7 100.0h2.8v2.8h-2.8zM309.1 76.0h2.8v2.8h-2.8zM301.4 104.0h2.8v2.8h-2.8zM293.3 87.5h2.8v2.8h-2.8zM314.6 77.9h2.8v2.8h-2.8zM307.1 97.3h2.8v2.8h-2.8zM313.3 113.6h2.8v2.8h-2.8zM287.5 64.9h2.8v2.8h-2.8zM296.1 147.4h2.8v2.8h-2.8zM313.8 89.1h2.8v2.8h-2.8zM301.1 80.6h2.8v2.8h-2.8zM319.4 93.9h2.8v2.8h-2.8zM308.7 101.7h2.8v2.8h-2.8zM302.1 106.0h2.8v2.8h-2.8zM300.8 94.6h2.8v2.8h-2.8zM281.4 104.4h2.8v2.8h-2.8zM306.0 116.1h2.8v2.8h-2.8zM305.1 115.0h2.8v2.8h-2.8zM309.3 80.5h2.8v2.8h-2.8zM307.3 138.1h2.8v2.8h-2.8zM295.3 176.4h2.8v2.8h-2.8zM299.7 78.7h2.8v2.8h-2.8zM311.1 80.3h2.8v2.8h-2.8z" fill="#EFC000"/>
<path d="M413.2 98.9h0M418.7 100.0h0M412.0 102.6h0M414.2 116.8h0M410.3 109.7h0M408.1 117.0h0M402.4 86.6h0M427.1 124.2h0M409.6 124.5h0" stroke="#0073C2" stroke-width="3.0" stroke-linecap="round" fill="none"/>
<path d="M425.3 100.3l2.0-3.5l2.0 3.5zM421.4 99.8l2.0-3.5l2.0 3.5zM418.9 122.9l2.0-3.5l2.0 3.5zM389.4 103.7l2.0-3.5l2.0 3.5zM397.4 102.1l2.0-3.5l2.0 3.5zM402.6 89.0l2.0-3.5l2.0 3.5zM398.5 129.2l2.0-3.5l2.0 3.5zM418.3 90.9l2.0-3.5l2.0 3.5zM412.9 92.6l2.0-3.5l2.0 3.5zM405.1 122.0l2.0-3.5l2.0 3.5zM424.9 77.9l2.0-3.5l2.0 3.5zM419.6 107.2l2.0-3.5l2.0 3.5zM404.0 138.8l2.0-3.5l2.0 3.5zM422.0 79.9l2.0-3.5l2.0 3.5zM405.8 90.4l2.0-3.5l2.0 3.5zM414.0 101.4l2.0-3.5l2.0 3.5zM407.5 114.9l2.0-3.5l2.0 3.5zM406.3 93.1l2.0-3.5l2.0 3.5zM415.0 108.4l2.0-3.5l2.0 3.5zM398.4 108.7l2.0-3.5l2.0 3.5zM411.8 110.2l2.0-3.5l2.0 3.5zM419.6 118.1l2.0-3.5l2.0 3.5zM439.5 88.0l2.0-3.5l2.0 3.5zM412.0 114.9l2.0-3.5l2.0 3.5zM411.4 112.5l2.0-3.5l2.0 3.5zM403.8 86.2l2.0-3.5l2.0 3.5z" fill="#0073C2"/>
<path d="M406.1 94.6h2.8v2.8h-2.8zM415.6 116.9h2.8v2.8h-2.8zM423.7 109.5h2.8v2.8h-2.8zM412.9 91.6h2.8v2.8h-2.8zM413.0 164.3h2.8v2.8h-2.8zM407.3 90.0h2.8v2.8h-2.8zM410.4 87.3h2.8v2.8h-2.8zM415.7 84.2h2.8v2.8h-2.8zM408.4 70.7h2.8v2.8h-2.8zM421.3 105.4h2.8v2.8h-2.8zM406.9 100.4h2.8v2.8h-2.8zM374.1 121.3h2.8v2.8h-2.8zM435.2 65.9h2.8v2.8h-2.8zM413.8 116.7h2.8v2.8h-2.8z" fill="#0073C2"/>
<path d="M310.5 94.8h0M295.6 95.5h0M298.6 118.1h0M322.1 108.8h0" stroke="#EFC000" stroke-width="3.0" stroke-linecap="round" fill="none"/>
<path d="M300.1 60.8l2.0-3.5l2.0 3.5zM301.1 104.3l2.0-3.5l2.0 3.5zM299.3 51.2l2.0-3.5l2.0 3.5zM302.3 104.5l2.0-3.5l2.0 3.5zM312.0 89.5l2.0-3.5l2.0 3.5zM297.9 97.2l2.0-3.5l2.0 3.5zM301.4 113.6l2.0-3.5l2.0 3.5zM284.8 65.3l2.0-3.5l2.0 3.5zM325.9 136.7l2.0-3.5l2.0 3.5zM316.3 92.3l2.0-3.5l2.0 3.5zM302.0 117.9l2.0-3.5l2.0 3.5zM291.5 127.9l2.0-3.5l2.0 3.5zM304.7 102.0l2.0-3.5l2.0 3.5zM305.7 164.8l2.0-3.5l2.0 3.5zM290.3 84.6l2.0-3.5l2.0 3.5zM289.9 114.5l2.0-3.5l2.0 3.5zM308.0 92.4l2.0-3.5l2.0 3.5zM296.3 105.5l2.0-3.5l2.0 3.5zM316.7 42.9l2.0-3.5l2.0 3.5zM305.6 121.9l2.0-3.5l2.0 3.5zM289.6 77.3l2.0-3.5l2.0 3.5zM318.8 111.4l2.0-3.5l2.0 3.5zM303.4 100.4l2.0-3.5l2.0 3.5zM319.5 104.5l2.0-3.5l2.0 3.5zM320.4 109.1l2.0-3.5l2.0 3.5zM294.1 90.6l2.0-3.5l2.0 3.5zM329.9 131.0l2.0-3.5l2.0 3.5zM288.2 87.9l2.0-3.5l2.0 3.5zM300.5 88.2l2.0-3.5l2.0 3.5zM288.8 112.8l2.0-3.5l2.0 3.5zM299.9 84.8l2.0-3.5l2.0 3.5zM297.9 125.9l2.0-3.5l2.0 3.5zM289.7 112.8l2.0-3.5l2.0 3.5zM313.9 100.8l2.0-3.5l2.0 3.5zM296.3 100.0l2.0-3.5l2.0 3.5zM304.2 95.5l2.0-3.5l2.0 3.5zM308.0 91.5l2.0-3.5l2.0 3.5zM299.5 73.0l2.0-3.5l2.0 3.5zM284.2 106.0l2.0-3.5l2.0 3.5zM295.0 72.6l2.0-3.5l2.0 3.5zM290.6 89.7l2.0-3.5l2.0 3.5zM304.5 154.3l2.0-3.5l2.0 3.5zM303.6 93.1l2.0-3.5l2.0 3.5zM320.3 82.4l2.0-3.5l2.0 3.5zM292.3 61.1l2.0-3.5l2.0 3.5zM306.5 111.7l2.0-3.5l2.0 3.5zM299.0 133.1l2.0-3.5l2.0 3.5zM269.1 123.4l2.0-3.5l2.0 3.5zM307.8 116.1l2.0-3.5l2.0 3.5zM296.2 117.3l2.0-3.5l2.0 3.5zM309.7 99.7l2.0-3.5l2.0 3.5zM315.4 90.7l2.0-3.5l2.0 3.5zM291.1 106.0l2.0-3.5l2.0 3.5zM312.1 108.8l2.0-3.5l2.0 3.5zM312.1 81.8l2.0-3.5l2.0 3.5zM308.3 101.7l2.0-3.5l2.0 3.5zM303.9 103.7l2.0-3.5l2.0 3.5zM290.9 97.8l2.0-3.5l2.0 3.5zM292.4 103.1l2.0-3.5l2.0 3.5zM303.1 73.2l2.0-3.5l2.0 3.5zM297.5 117.5l2.0-3.5l2.0 3.5zM285.2 108.5l2.0-3.5l2.0 3.5zM311.8 77.6l2.0-3.5l2.0 3.5z" fill="#EFC000"/>
<path d="M304.4 103.1h2.8v2.8h-2.8zM317.0 113.4h2.8v2.8h-2.8zM294.9 87.9h2.8v2.8h-2.8zM304.9 104.4h2.8v2.8h-2.8zM307.8 49.6h2.8v2.8h-2.8zM303.9 115.8h2.8v2.8h-2.8zM312.3 95.0h2.8v2.8h-2.8zM310.1 104.4h2.8v2.8h-2.8zM310.2 89.7h2.8v2.8h-2.8zM294.6 51.5h2.8v2.8h-2.8zM292.1 88.5h2.8v2.8h-2.8zM307.3 107.1h2.8v2.8h-2.8zM311.6 106.5h2.8v2.8h-2.8zM312.2 106.4h2.8v2.8h-2.8zM298.0 80.9h2.8v2.8h-2.8zM315.0 116.4h2.8v2.8h-2.8zM317.2 127.0h2.8v2.8h-2.8zM295.4 133.2h2.8v2.8h-2.8zM307.0 75.8h2.8v2.8h-2.8zM283.4 97.3h2.8v2.8h-2.8zM308.3 116.0h2.8v2.8h-2.8zM289.2 104.4h2.8v2.8h-2.8zM308.3 72.8h2.8v2.8h-2.8zM291.7 120.5h2.8v2.8h-2.8z" fill="#EFC000"/>
<path d="M409.8 79.5h0M411.4 107.3h0" stroke="#0073C2" stroke-width="3.0" stroke-linecap="round" fill="none"/>
<path d="M418.5 92.4l2.0-3.5l2.0 3.5zM408.8 73.3l2.0-3.5l2.0 3.5zM403.9 69.4l2.0-3.5l2.0 3.5zM394.5 81.2l2.0-3.5l2.0 3.5zM409.9 102.3l2.0-3.5l2.0 3.5zM409.1 108.7l2.0-3.5l2.0 3.5zM424.6 73.6l2.0-3.5l2.0 3.5zM404.6 121.1l2.0-3.5l2.0 3.5zM405.6 65.9l2.0-3.5l2.0 3.5zM415.1 105.1l2.0-3.5l2.0 3.5zM427.9 75.2l2.0-3.5l2.0 3.5zM405.0 89.1l2.0-3.5l2.0 3.5zM411.8 104.5l2.0-3.5l2.0 3.5zM408.8 131.8l2.0-3.5l2.0 3.5zM416.5 121.3l2.0-3.5l2.0 3.5zM388.2 87.4l2.0-3.5l2.0 3.5zM421.1 116.6l2.0-3.5l2.0 3.5zM395.0 76.3l2.0-3.5l2.0 3.5zM408.6 102.0l2.0-3.5l2.0 3.5zM416.5 114.1l2.0-3.5l2.0 3.5zM423.3 112.5l2.0-3.5l2.0 3.5zM406.3 97.8l2.0-3.5l2.0 3.5zM403.7 87.1l2.0-3.5l2.0 3.5zM405.5 132.7l2.0-3.5l2.0 3.5zM425.6 82.4l2.0-3.5l2.0 3.5zM408.6 106.3l2.0-3.5l2.0 3.5zM411.8 71.5l2.0-3.5l2.0 3.5zM413.3 98.9l2.0-3.5l2.0 3.5zM407.1 54.4l2.0-3.5l2.0 3.5zM385.4 101.8l2.0-3.5l2.0 3.5zM408.3 83.0l2.0-3.5l2.0 3.5zM405.7 108.0l2.0-3.5l2.0 3.5zM423.2 77.3l2.0-3.5l2.0 3.5z" fill="#0073C2"/>
<path d="M417.5 94.3h2.8v2.8h-2.8zM422.4 78.5h2.8v2.8h-2.8zM427.3 123.9h2.8v2.8h-2.8zM396.4 78.4h2.8v2.8h-2.8zM396.1 53.1h2.8v2.8h-2.8zM419.5 99.4h2.8v2.8h-2.8zM422.4 91.4h2.8v2.8h-2.8zM418.2 103.0h2.8v2.8h-2.8zM418.2 111.1h2.8v2.8h-2.8zM415.8 93.6h2.8v2.8h-2.8zM419.2 92.3h2.8v2.8h-2.8zM402.9 116.2h2.8v2.8h-2.8zM418.6 102.3h2.8v2.8h-2.8z" fill="#0073C2"/>
<path d="M305.2 84.3h0M310.1 105.6h0M301.6 101.7h0M290.2 76.6h0M310.6 102.4h0M304.2 106.4h0" stroke="#EFC000" stroke-width="3.0" stroke-linecap="round" fill="none"/>
<path d="M298.0 102.6l2.0-3.5l2.0 3.5zM321.6 101.5l2.0-3.5l2.0 3.5zM317.5 130.0l2.0-3.5l2.0 3.5zM283.9 104.7l2.0-3.5l2.0 3.5zM298.4 89.0l2.0-3.5l2.0 3.5zM309.9 114.8l2.0-3.5l2.0 3.5zM301.8 69.5l2.0-3.5l2.0 3.5zM313.4 108.1l2.0-3.5l2.0 3.5zM300.9 95.3l2.0-3.5l2.0 3.5zM306.1 105.5l2.0-3.5l2.0 3.5zM311.1 113.1l2.0-3.5l2.0 3.5zM305.8 82.6l2.0-3.5l2.0 3.5zM283.9 77.5l2.0-3.5l2.0 3.5zM306.8 94.5l2.0-3.5l2.0 3.5zM294.7 94.9l2.0-3.5l2.0 3.5zM312.7 129.2l2.0-3.5l2.0 3.5zM292.0 91.4l2.0-3.5l2.0 3.5zM313.7 105.2l2.0-3.5l2.0 3.5zM295.7 74.3l2.0-3.5l2.0 3.5zM312.8 124.0l2.0-3.5l2.0 3.5zM307.8 84.4l2.0-3.5l2.0 3.5zM324.9 91.3l2.0-3.5l2.0 3.5zM294.6 108.6l2.0-3.5l2.0 3.5zM303.6 90.1l2.0-3.5l2.0 3.5zM308.6 118.6l2.0-3.5l2.0 3.5zM294.6 105.7l2.0-3.5l2.0 3.5zM294.7 112.8l2.0-3.5l2.0 3.5zM318.8 160.2l2.0-3.5l2.0 3.5zM305.3 108.5l2.0-3.5l2.0 3.5zM317.4 93.3l2.0-3.5l2.0 3.5zM315.9 148.8l2.0-3.5l2.0 3.5zM329.5 120.4l2.0-3.5l2.0 3.5zM319.8 76.3l2.0-3.5l2.0 3.5zM297.9 62.0l2.0-3.5l2.0 3.5zM301.7 108.2l2.0-3.5l2.0 3.5zM322.9 122.0l2.0-3.5l2.0 3.5zM288.3 84.0l2.0-3.5l2.0 3.5zM292.9 100.5l2.0-3.5l2.0 3.5zM298.4 83.4l2.0-3.5l2.0 3.5zM294.8 105.7l2.0-3.5l2.0 3.5zM289.0 99.2l2.0-3.5l2.0 3.5zM306.3 104.0l2.0-3.5l2.0 3.5zM293.9 118.1l2.0-3.5l2.0 3.5zM297.8 71.0l2.0-3.5l2.0 3.5zM307.1 108.5l2.0-3.5l2.0 3.5zM303.9 125.5l2.0-3.5l2.0 3.5zM301.6 83.8l2.0-3.5l2.0 3.5zM281.4 92.1l2.0-3.5l2.0 3.5zM306.5 114.8l2.0-3.5l2.0 3.5zM304.4 71.3l2.0-3.5l2.0 3.5zM302.9 113.7l2.0-3.5l2.0 3.5zM309.7 104.1l2.0-3.5l2.0 3.5zM292.3 117.2l2.0-3.5l2.0 3.5zM295.1 82.3l2.0-3.5l2.0 3.5z" fill="#EFC000"/>
<path d="M313.9 101.7h2.8v2.8h-2.8zM280.7 100.4h2.8v2.8h-2.8zM326.8 126.6h2.8v2.8h-2.8zM307.6 87.2h2.8v2.8h-2.8zM304.2 66.4h2.8v2.8h-2.8zM302.2 82.3h2.8v2.8h-2.8zM307.6 94.6h2.8v2.8h-2.8zM293.4 60.2h2.8v2.8h-2.8zM303.2 103.9h2.8v2.8h-2.8zM290.5 96.9h2.8v2.8h-2.8zM301.5 82.0h2.8v2.8h-2.8zM298.6 102.8h2.8v2.8h-2.8zM306.4 126.3h2.8v2.8h-2.8zM305.2 86.8h2.8v2.8h-2.8zM313.2 129.8h2.8v2.8h-2.8zM298.4 91.2h2.8v2.8h-2.8zM299.1 119.6h2.8v2.8h-2.8zM294.9 100.9h2.8v2.8h-2.8zM291.2 75.3h2.8v2.8h-2.8zM311.2 74.6h2.8v2.8h-2.8zM298.8 83.1h2.8v2.8h-2.8zM282.2 121.8h2.8v2.8h-2.8zM305.1 126.3h2.8v2.8h-2.8zM309.5 113.2h2.8v2.8h-2.8zM305.6 72.7h2.8v2.8h-2.8zM305.9 98.1h2.8v2.8h-2.8zM292.6 67.3h2.8v2.8h-2.8zM305.2 154.5h2.8v2.8h-2.8zM312.5 114.0h2.8v2.8h-2.8zM307.1 130.3h2.8v2.8h-2.8zM305.0 118.8h2.8v2.8h-2.8zM301.1 103.0h2.8v2.8h-2.8z" fill="#EFC000"/>
<path d="M419.0 117.8h0M423.4 93.2h0M422.9 98.9h0M411.6 93.1h0M431.9 107.6h0M406.0 97.2h0M391.8 90.3h0" stroke="#0073C2" stroke-width="3.0" stroke-linecap="round" fill="none"/>
<path d="M421.4 95.6l2.0-3.5l2.0 3.5zM402.8 95.6l2.0-3.5l2.0 3.5zM419.1 85.0l2.0-3.5l2.0 3.5zM418.5 81.8l2.0-3.5l2.0 3.5zM420.6 96.4l2.0-3.5l2.0 3.5zM415.7 107.6l2.0-3.5l2.0 3.5zM409.5 90.8l2.0-3.5l2.0 3.5zM406.7 108.2l2.0-3.5l2.0 3.5zM396.4 83.7l2.0-3.5l2.0 3.5zM400.1 102.8l2.0-3.5l2.0 3.5zM412.5 81.9l2.0-3.5l2.0 3.5zM423.9 106.1l2.0-3.5l2.0 3.5zM403.0 87.0l2.0-3.5l2.0 3.5zM394.7 83.7l2.0-3.5l2.0 3.5zM432.1 113.4l2.0-3.5l2.0 3.5zM423.6 65.6l2.0-3.5l2.0 3.5zM416.7 149.8l2.0-3.5l2.0 3.5zM410.7 120.1l2.0-3.5l2.0 3.5zM433.8 89.0l2.0-3.5l2.0 3.5zM409.5 105.0l2.0-3.5l2.0 3.5zM422.7 96.3l2.0-3.5l2.0 3.5zM424.4 72.1l2.0-3.5l2.0 3.5zM408.5 82.4l2.0-3.5l2.0 3.5zM414.4 119.6l2.0-3.5l2.0 3.5zM382.0 135.9l2.0-3.5l2.0 3.5zM411.4 105.2l2.0-3.5l2.0 3.5zM416.2 107.1l2.0-3.5l2.0 3.5z" fill="#0073C2"/>
<path d="M410.1 71.6h2.8v2.8h-2.8zM402.2 73.2h2.8v2.8h-2.8zM414.4 81.2h2.8v2.8h-2.8zM409.0 99.9h2.8v2.8h-2.8zM427.3 115.1h2.8v2.8h-2.8zM404.1 91.9h2.8v2.8h-2.8zM408.7 120.1h2.8v2.8h-2.8zM419.1 97.0h2.8v2.8h-2.8zM406.6 83.8h2.8v2.8h-2.8zM414.9 79.9h2.8v2.8h-2.8zM402.2 113.3h2.8v2.8h-2.8zM406.5 132.3h2.8v2.8h-2.8zM407.4 89.8h2.8v2.8h-2.8zM407.7 92.6h2.8v2.8h-2.8zM419.6 71.0h2.8v2.8h-2.8zM402.4 113.0h2.8v2.8h-2.8zM399.7 81.4h2.8v2.8h-2.8z" fill="#0073C2"/>
<path d="M311.9 97.9h0M306.3 75.8h0M311.4 118.0h0M304.0 107.0h0M303.5 89.4h0" stroke="#EFC000" stroke-width="3.0" stroke-linecap="round" fill="none"/>
<path d="M296.8 117.6l2.0-3.5l2.0 3.5zM315.9 138.7l2.0-3.5l2.0 3.5zM297.3 105.3l2.0-3.5l2.0 3.5zM311.6 107.2l2.0-3.5l2.0 3.5zM307.6 91.1l2.0-3.5l2.0 3.5zM301.9 128.6l2.0-3.5l2.0 3.5zM302.3 105.4l2.0-3.5l2.0 3.5zM305.6 78.1l2.0-3.5l2.0 3.5zM294.3 110.8l2.0-3.5l2.0 3.5zM304.4 149.4l2.0-3.5l2.0 3.5zM311.8 98.3l2.0-3.5l2.0 3.5zM312.4 129.4l2.0-3.5l2.0 3.5zM293.4 109.3l2.0-3.5l2.0 3.5zM301.8 92.5l2.0-3.5l2.0 3.5zM326.9 86.4l2.0-3.5l2.0 3.5zM287.3 101.2l2.0-3.5l2.0 3.5zM312.5 97.1l2.0-3.5l2.0 3.5zM295.9 113.0l2.0-3.5l2.0 3.5zM298.2 75.8l2.0-3.5l2.0 3.5zM292.2 122.2l2.0-3.5l2.0 3.5zM306.5 120.0l2.0-3.5l2.0 3.5zM308.3 73.1l2.0-3.5l2.0 3.5zM313.4 96.7l2.0-3.5l2.0 3.5zM295.6 90.5l2.0-3.5l2.0 3.5zM294.7 75.0l2.0-3.5l2.0 3.5zM304.3 94.8l2.0-3.5l2.0 3.5zM309.7 82.6l2.0-3.5l2.0 3.5zM306.1 66.6l2.0-3.5l2.0 3.5zM299.7 110.1l2.0-3.5l2.0 3.5zM294.2 93.4l2.0-3.5l2.0 3.5zM303.4 131.5l2.0-3.5l2.0 3.5zM298.3 93.4l2.0-3.5l2.0 3.5zM313.4 111.9l2.0-3.5l2.0 3.5zM310.3 85.3l2.0-3.5l2.0 3.5zM297.7 90.5l2.0-3.5l2.0 3.5zM302.6 67.0l2.0-3.5l2.0 3.5zM311.6 113.9l2.0-3.5l2.0 3.5zM306.8 135.0l2.0-3.5l2.0 3.5zM298.3 98.3l2.0-3.5l2.0 3.5zM303.6 101.2l2.0-3.5l2.0 3.5zM305.1 58.2l2.0-3.5l2.0 3.5zM302.7 121.1l2.0-3.5l2.0 3.5zM313.2 82.6l2.0-3.5l2.0 3.5zM301.8 122.0l2.0-3.5l2.0 3.5zM326.0 82.1l2.0-3.5l2.0 3.5zM327.9 93.6l2.0-3.5l2.0 3.5zM292.1 78.7l2.0-3.5l2.0 3.5zM309.3 121.4l2.0-3.5l2.0 3.5zM305.9 143.4l2.0-3.5l2.0 3.5zM316.4 91.2l2.0-3.5l2.0 3.5zM263.9 67.2l2.0-3.5l2.0 3.5z" fill="#EFC000"/>
<path d="M311.3 91.6h2.8v2.8h-2.8zM286.1 70.3h2.8v2.8h-2.8zM310.5 68.4h2.8v2.8h-2.8zM295.0 99.2h2.8v2.8h-2.8zM296.3 100.3h2.8v2.8h-2.8zM305.2 103.2h2.8v2.8h-2.8zM307.9 94.5h2.8v2.8h-2.8zM302.7 108.3h2.8v2.8h-2.8zM308.2 172.8h2.8v2.8h-2.8zM299.3 91.5h2.8v2.8h-2.8zM296.4 132.1h2.8v2.8h-2.8zM304.7 95.5h2.8v2.8h-2.8zM306.7 101.4h2.8v2.8h-2.8zM307.7 47.1h2.8v2.8h-2.8zM312.2 71.5h2.8v2.8h-2.8zM306.1 85.4h2.8v2.8h-2.8zM303.6 98.9h2.8v2.8h-2.8zM286.3 102.7h2.8v2.8h-2.8zM308.9 117.9h2.8v2.8h-2.8zM282.9 78.6h2.8v2.8h-2.8zM311.2 116.2h2.8v2.8h-2.8zM291.0 87.1h2.8v2.8h-2.8zM304.9 90.4h2.8v2.8h-2.8zM307.8 93.4h2.8v2.8h-2.8zM320.6 74.8h2.8v2.8h-2.8zM319.4 76.5h2.8v2.8h-2.8zM302.9 102.4h2.8v2.8h-2.8zM310.9 112.0h2.8v2.8h-2.8zM312.1 113.4h2.8v2.8h-2.8zM304.1 139.5h2.8v2.8h-2.8zM290.8 100.6h2.8v2.8h-2.8zM296.2 72.9h2.8v2.8h-2.8zM295.4 96.0h2.8v2.8h-2.8z" fill="#EFC000"/>
</g>
<polygon points="342.6,78.7 345.3,79.3 348.0,80.0 350.7,80.6 353.4,81.2 356.0,81.8 358.7,82.5 361.4,83.1 364.1,83.7 366.8,84.3 369.5,84.9 372.2,85.6 374.9,86.2 377.6,86.8 380.3,87.4 382.9,88.0 385.6,88.6 388.3,89.1 391.0,89.7 393.7,90.3 396.4,90.8 399.1,91.3 401.8,91.8 404.5,92.2 407.2,92.6 409.8,92.9 412.5,93.2 415.2,93.4 417.9,93.5 420.6,93.5 423.3,93.5 426.0,93.5 428.7,93.4 431.4,93.3 434.1,93.1 436.7,93.0 439.4,92.8 442.1,92.7 444.8,92.5 447.5,92.3 447.5,104.5 444.8,103.9 442.1,103.3 439.4,102.7 436.7,102.1 434.1,101.6 431.4,101.0 428.7,100.5 426.0,100.0 423.3,99.5 420.6,99.1 417.9,98.7 415.2,98.4 412.5,98.2 409.8,98.0 407.2,98.0 404.5,97.9 401.8,98.0 399.1,98.0 396.4,98.1 393.7,98.2 391.0,98.4 388.3,98.5 385.6,98.7 382.9,98.9 380.3,99.0 377.6,99.2 374.9,99.4 372.2,99.6 369.5,99.8 366.8,100.0 364.1,100.2 361.4,100.4 358.7,100.6 356.0,100.8 353.4,101.1 350.7,101.3 348.0,101.5 345.3,101.7 342.6,101.9" fill="#0073C2" fill-opacity="0.4" clip-path="url(#c2)"/>
<line x1="342.6" y1="90.3" x2="447.5" y2="98.4" stroke="#0073C2" stroke-width="1.35" clip-path="url(#c2)"/>
<polygon points="269.0,93.6 271.4,94.2 273.8,94.8 276.1,95.5 278.5,96.1 280.9,96.7 283.3,97.3 285.7,97.9 288.0,98.5 290.4,99.1 292.8,99.7 295.2,100.2 297.6,100.8 299.9,101.2 302.3,101.7 304.7,102.0 307.1,102.3 309.5,102.6 311.8,102.8 314.2,102.9 316.6,103.1 319.0,103.2 321.3,103.3 323.7,103.3 326.1,103.4 328.5,103.5 330.9,103.5 333.2,103.6 335.6,103.6 338.0,103.7 340.4,103.7 342.8,103.8 345.1,103.8 347.5,103.9 349.9,103.9 352.3,104.0 354.7,104.0 357.0,104.0 359.4,104.1 361.8,104.1 361.8,119.4 359.4,118.7 357.0,118.1 354.7,117.4 352.3,116.8 349.9,116.2 347.5,115.5 345.1,114.9 342.8,114.2 340.4,113.6 338.0,113.0 335.6,112.3 333.2,111.7 330.9,111.1 328.5,110.4 326.1,109.8 323.7,109.2 321.3,108.6 319.0,108.0 316.6,107.4 314.2,106.9 311.8,106.3 309.5,105.9 307.1,105.4 304.7,105.0 302.3,104.7 299.9,104.5 297.6,104.3 295.2,104.1 292.8,104.0 290.4,103.8 288.0,103.7 285.7,103.7 283.3,103.6 280.9,103.5 278.5,103.5 276.1,103.4 273.8,103.3 271.4,103.3 269.0,103.2" fill="#EFC000" fill-opacity="0.4" clip-path="url(#c2)"/>
<line x1="269.0" y1="98.4" x2="361.8" y2="111.8" stroke="#EFC000" stroke-width="1.35" clip-path="url(#c2)"/>
<g clip-path="url(#c3)">
<path d="M541.7 101.8h0M571.9 72.0h0M575.4 89.4h0" stroke="#0073C2" stroke-width="3.0" stroke-linecap="round" fill="none"/>
<path d="M566.3 90.3l2.0-3.5l2.0 3.5zM548.3 82.1l2.0-3.5l2.0 3.5zM583.7 111.6l2.0-3.5l2.0 3.5zM576.1 111.5l2.0-3.5l2.0 3.5zM560.9 83.2l2.0-3.5l2.0 3.5zM586.0 111.5l2.0-3.5l2.0 3.5zM601.0 79.9l2.0-3.5l2.0 3.5zM557.4 89.3l2.0-3.5l2.0 3.5zM558.3 79.0l2.0-3.5l2.0 3.5zM558.3 98.5l2.0-3.5l2.0 3.5zM546.6 83.9l2.0-3.5l2.0 3.5zM593.7 100.9l2.0-3.5l2.0 3.5zM572.6 108.8l2.0-3.5l2.0 3.5zM562.0 109.9l2.0-3.5l2.0 3.5zM560.9 126.1l2.0-3.5l2.0 3.5zM539.1 91.7l2.0-3.5l2.0 3.5zM533.3 102.9l2.0-3.5l2.0 3.5zM567.3 87.5l2.0-3.5l2.0 3.5zM583.8 89.2l2.0-3.5l2.0 3.5zM561.3 78.1l2.0-3.5l2.0 3.5zM558.4 112.0l2.0-3.5l2.0 3.5zM580.6 105.5l2.0-3.5l2.0 3.5zM603.4 85.2l2.0-3.5l2.0 3.5zM569.6 108.4l2.0-3.5l2.0 3.5zM554.2 95.0l2.0-3.5l2.0 3.5zM561.8 88.3l2.0-3.5l2.0 3.5zM579.5 87.7l2.0-3.5l2.0 3.5zM576.4 85.6l2.0-3.5l2.0 3.5zM585.0 125.5l2.0-3.5l2.0 3.5zM566.7 113.2l2.0-3.5l2.0 3.5zM534.1 69.9l2.0-3.5l2.0 3.5zM561.4 80.7l2.0-3.5l2.0 3.5zM547.2 96.6l2.0-3.5l2.0 3.5zM574.4 87.4l2.0-3.5l2.0 3.5zM572.8 90.0l2.0-3.5l2.0 3.5zM584.5 92.3l2.0-3.5l2.0 3.5zM568.1 101.4l2.0-3.5l2.0 3.5zM545.3 84.4l2.0-3.5l2.0 3.5zM578.3 110.4l2.0-3.5l2.0 3.5zM560.7 85.6l2.0-3.5l2.0 3.5z" fill="#0073C2"/>
<path d="M551.9 63.9h2.8v2.8h-2.8zM532.2 83.9h2.8v2.8h-2.8zM552.6 62.2h2.8v2.8h-2.8zM599.1 103.3h2.8v2.8h-2.8zM618.4 129.4h2.8v2.8h-2.8zM582.2 138.7h2.8v2.8h-2.8zM591.9 122.4h2.8v2.8h-2.8zM580.5 107.9h2.8v2.8h-2.8zM579.1 80.2h2.8v2.8h-2.8zM549.9 66.0h2.8v2.8h-2.8zM569.3 96.6h2.8v2.8h-2.8zM557.8 105.2h2.8v2.8h-2.8zM555.5 103.1h2.8v2.8h-2.8zM563.8 96.7h2.8v2.8h-2.8zM583.4 94.3h2.8v2.8h-2.8zM567.4 94.3h2.8v2.8h-2.8zM559.3 92.5h2.8v2.8h-2.8zM622.7 117.8h2.8v2.8h-2.8z" fill="#0073C2"/>
<path d="M589.5 99.6h0M553.4 59.6h0M589.9 93.8h0M576.5 92.1h0M604.1 104.5h0M576.2 94.5h0M599.9 92.4h0M581.1 91.0h0" stroke="#EFC000" stroke-width="3.0" stroke-linecap="round" fill="none"/>
<path d="M589.8 155.4l2.0-3.5l2.0 3.5zM609.3 170.9l2.0-3.5l2.0 3.5zM518.3 84.1l2.0-3.5l2.0 3.5zM575.2 99.6l2.0-3.5l2.0 3.5zM570.8 95.5l2.0-3.5l2.0 3.5zM604.9 128.9l2.0-3.5l2.0 3.5zM586.7 106.9l2.0-3.5l2.0 3.5zM595.9 101.9l2.0-3.5l2.0 3.5zM568.5 94.1l2.0-3.5l2.0 3.5zM625.8 175.4l2.0-3.5l2.0 3.5zM650.5 122.8l2.0-3.5l2.0 3.5zM580.7 102.7l2.0-3.5l2.0 3.5zM580.1 93.1l2.0-3.5l2.0 3.5zM572.2 84.2l2.0-3.5l2.0 3.5zM575.2 127.2l2.0-3.5l2.0 3.5zM569.6 84.9l2.0-3.5l2.0 3.5zM601.5 109.9l2.0-3.5l2.0 3.5zM541.1 52.9l2.0-3.5l2.0 3.5zM585.9 110.8l2.0-3.5l2.0 3.5zM624.9 133.2l2.0-3.5l2.0 3.5zM601.8 102.6l2.0-3.5l2.0 3.5zM603.7 106.6l2.0-3.5l2.0 3.5zM594.8 127.1l2.0-3.5l2.0 3.5zM585.0 103.2l2.0-3.5l2.0 3.5zM536.6 100.5l2.0-3.5l2.0 3.5zM573.0 112.2l2.0-3.5l2.0 3.5zM583.0 86.4l2.0-3.5l2.0 3.5zM604.0 119.6l2.0-3.5l2.0 3.5zM549.6 81.4l2.0-3.5l2.0 3.5zM583.2 95.4l2.0-3.5l2.0 3.5zM564.4 101.3l2.0-3.5l2.0 3.5zM557.8 97.8l2.0-3.5l2.0 3.5zM613.4 123.5l2.0-3.5l2.0 3.5zM558.3 87.0l2.0-3.5l2.0 3.5zM590.7 113.8l2.0-3.5l2.0 3.5zM661.0 110.2l2.0-3.5l2.0 3.5zM593.4 118.0l2.0-3.5l2.0 3.5zM580.1 95.8l2.0-3.5l2.0 3.5zM583.7 103.1l2.0-3.5l2.0 3.5zM529.5 109.3l2.0-3.5l2.0 3.5zM580.4 102.8l2.0-3.5l2.0 3.5zM542.5 81.7l2.0-3.5l2.0 3.5zM599.9 92.6l2.0-3.5l2.0 3.5z" fill="#EFC000"/>
<path d="M578.4 111.1h2.8v2.8h-2.8zM577.1 79.4h2.8v2.8h-2.8zM554.3 93.1h2.8v2.8h-2.8zM579.1 87.3h2.8v2.8h-2.8zM564.3 88.0h2.8v2.8h-2.8zM571.3 70.6h2.8v2.8h-2.8zM573.5 100.0h2.8v2.8h-2.8zM577.9 88.7h2.8v2.8h-2.8zM589.5 94.1h2.8v2.8h-2.8zM597.5 103.9h2.8v2.8h-2.8zM639.1 164.7h2.8v2.8h-2.8zM587.9 105.1h2.8v2.8h-2.8zM567.1 78.5h2.8v2.8h-2.8zM567.1 80.6h2.8v2.8h-2.8zM564.2 81.0h2.8v2.8h-2.8zM600.3 122.7h2.8v2.8h-2.8zM560.5 73.8h2.8v2.8h-2.8zM595.8 100.2h2.8v2.8h-2.8zM536.6 56.3h2.8v2.8h-2.8zM552.3 63.3h2.8v2.8h-2.8zM594.2 101.9h2.8v2.8h-2.8zM610.5 162.1h2.8v2.8h-2.8zM552.8 94.7h2.8v2.8h-2.8zM610.4 117.5h2.8v2.8h-2.8zM555.5 80.2h2.8v2.8h-2.8zM593.9 107.6h2.8v2.8h-2.8zM584.7 103.6h2.8v2.8h-2.8zM577.0 94.7h2.8v2.8h-2.8z" fill="#EFC000"/>
<path d="M603.3 135.9h0M574.8 98.1h0M601.4 136.6h0M568.4 96.7h0M597.8 114.5h0M574.8 111.4h0M572.9 96.0h0" stroke="#0073C2" stroke-width="3.0" stroke-linecap="round" fill="none"/>
<path d="M538.7 49.6l2.0-3.5l2.0 3.5zM558.5 123.2l2.0-3.5l2.0 3.5zM551.9 82.6l2.0-3.5l2.0 3.5zM580.2 93.2l2.0-3.5l2.0 3.5zM598.9 129.5l2.0-3.5l2.0 3.5zM568.0 120.8l2.0-3.5l2.0 3.5zM573.7 73.9l2.0-3.5l2.0 3.5zM561.5 94.9l2.0-3.5l2.0 3.5zM556.3 75.2l2.0-3.5l2.0 3.5zM540.6 81.7l2.0-3.5l2.0 3.5zM587.7 99.6l2.0-3.5l2.0 3.5zM548.4 90.7l2.0-3.5l2.0 3.5zM556.7 98.6l2.0-3.5l2.0 3.5zM562.7 102.2l2.0-3.5l2.0 3.5zM568.9 91.7l2.0-3.5l2.0 3.5zM553.2 80.5l2.0-3.5l2.0 3.5zM589.6 99.6l2.0-3.5l2.0 3.5zM519.1 73.9l2.0-3.5l2.0 3.5zM558.1 109.2l2.0-3.5l2.0 3.5zM589.8 98.1l2.0-3.5l2.0 3.5zM560.1 83.9l2.0-3.5l2.0 3.5zM573.3 67.9l2.0-3.5l2.0 3.5zM553.8 114.1l2.0-3.5l2.0 3.5z" fill="#0073C2"/>
<path d="M578.8 109.6h2.8v2.8h-2.8zM558.2 104.3h2.8v2.8h-2.8zM555.9 91.0h2.8v2.8h-2.8zM584.0 90.2h2.8v2.8h-2.8zM576.6 100.2h2.8v2.8h-2.8zM593.1 104.3h2.8v2.8h-2.8zM583.9 96.0h2.8v2.8h-2.8zM597.2 97.1h2.8v2.8h-2.8zM554.7 98.6h2.8v2.8h-2.8zM581.7 103.1h2.8v2.8h-2.8zM554.9 97.1h2.8v2.8h-2.8zM603.7 111.0h2.8v2.8h-2.8zM558.5 114.7h2.8v2.8h-2.8z" fill="#0073C2"/>
<path d="M614.3 107.4h0M558.1 113.7h0M574.4 102.3h0M597.5 111.2h0M595.4 92.5h0M600.6 113.9h0M584.5 97.1h0M556.8 93.9h0M593.7 97.5h0" stroke="#EFC000" stroke-width="3.0" stroke-linecap="round" fill="none"/>
<path d="M560.0 86.7l2.0-3.5l2.0 3.5zM577.3 86.5l2.0-3.5l2.0 3.5zM608.6 114.8l2.0-3.5l2.0 3.5zM559.4 111.8l2.0-3.5l2.0 3.5zM569.8 132.1l2.0-3.5l2.0 3.5zM558.9 77.2l2.0-3.5l2.0 3.5zM587.6 117.3l2.0-3.5l2.0 3.5zM583.2 94.2l2.0-3.5l2.0 3.5zM578.1 84.1l2.0-3.5l2.0 3.5zM612.5 98.5l2.0-3.5l2.0 3.5zM552.1 88.3l2.0-3.5l2.0 3.5zM575.8 94.8l2.0-3.5l2.0 3.5zM590.4 123.2l2.0-3.5l2.0 3.5zM597.4 110.7l2.0-3.5l2.0 3.5zM569.9 84.7l2.0-3.5l2.0 3.5zM581.3 77.9l2.0-3.5l2.0 3.5zM594.5 116.5l2.0-3.5l2.0 3.5zM537.5 85.5l2.0-3.5l2.0 3.5zM598.1 138.0l2.0-3.5l2.0 3.5zM557.1 76.5l2.0-3.5l2.0 3.5zM625.8 142.0l2.0-3.5l2.0 3.5zM596.3 133.4l2.0-3.5l2.0 3.5zM542.3 79.8l2.0-3.5l2.0 3.5zM579.6 115.6l2.0-3.5l2.0 3.5zM526.1 90.1l2.0-3.5l2.0 3.5zM629.0 145.4l2.0-3.5l2.0 3.5zM595.6 98.6l2.0-3.5l2.0 3.5zM571.6 103.2l2.0-3.5l2.0 3.5zM592.5 122.7l2.0-3.5l2.0 3.5zM573.2 115.3l2.0-3.5l2.0 3.5zM570.7 84.3l2.0-3.5l2.0 3.5zM579.2 115.9l2.0-3.5l2.0 3.5zM589.8 108.2l2.0-3.5l2.0 3.5zM565.7 92.5l2.0-3.5l2.0 3.5zM560.0 74.4l2.0-3.5l2.0 3.5zM579.7 99.6l2.0-3.5l2.0 3.5zM559.2 79.6l2.0-3.5l2.0 3.5zM595.9 117.7l2.0-3.5l2.0 3.5zM620.1 122.9l2.0-3.5l2.0 3.5zM578.3 96.7l2.0-3.5l2.0 3.5zM599.8 133.2l2.0-3.5l2.0 3.5zM579.2 83.8l2.0-3.5l2.0 3.5zM589.1 110.7l2.0-3.5l2.0 3.5zM580.8 106.1l2.0-3.5l2.0 3.5zM574.6 104.8l2.0-3.5l2.0 3.5zM601.4 118.1l2.0-3.5l2.0 3.5zM608.0 128.8l2.0-3.5l2.0 3.5zM562.6 84.7l2.0-3.5l2.0 3.5zM576.7 110.4l2.0-3.5l2.0 3.5zM587.4 107.1l2.0-3.5l2.0 3.5zM607.0 100.4l2.0-3.5l2.0 3.5zM546.9 112.3l2.0-3.5l2.0 3.5zM555.5 82.6l2.0-3.5l2.0 3.5zM603.6 122.8l2.0-3.5l2.0 3.5zM587.1 112.6l2.0-3.5l2.0 3.5z" fill="#EFC000"/>
<path d="M588.4 67.1h2.8v2.8h-2.8zM581.9 72.0h2.8v2.8h-2.8zM597.2 101.6h2.8v2.8h-2.8zM578.0 76.9h2.8v2.8h-2.8zM615.4 129.9h2.8v2.8h-2.8zM568.9 116.8h2.8v2.8h-2.8zM560.6 93.3h2.8v2.8h-2.8zM597.6 109.9h2.8v2.8h-2.8zM595.5 85.8h2.8v2.8h-2.8zM576.5 107.6h2.8v2.8h-2.8zM605.4 108.3h2.8v2.8h-2.8zM603.7 94.3h2.8v2.8h-2.8zM593.8 98.9h2.8v2.8h-2.8zM578.5 86.6h2.8v2.8h-2.8zM610.1 116.4h2.8v2.8h-2.8zM608.6 116.2h2.8v2.8h-2.8zM567.9 68.3h2.8v2.8h-2.8zM587.2 121.0h2.8v2.8h-2.8zM560.1 95.1h2.8v2.8h-2.8zM538.3 48.3h2.8v2.8h-2.8zM535.7 80.7h2.8v2.8h-2.8zM602.0 102.9h2.8v2.8h-2.8zM554.7 91.0h2.8v2.8h-2.8zM541.5 52.8h2.8v2.8h-2.8zM563.0 118.4h2.8v2.8h-2.8zM604.9 101.8h2.8v2.8h-2.8zM557.9 80.5h2.8v2.8h-2.8zM571.1 99.1h2.8v2.8h-2.8zM591.8 122.3h2.8v2.8h-2.8zM570.8 91.5h2.8v2.8h-2.8zM552.4 89.5h2.8v2.8h-2.8zM562.0 66.2h2.8v2.8h-2.8zM616.4 104.5h2.8v2.8h-2.8z" fill="#EFC000"/>
<path d="M572.9 101.1h0M576.2 100.0h0M579.6 116.8h0M569.2 93.7h0M568.7 96.9h0M561.4 93.1h0M596.3 98.2h0M581.3 94.9h0M552.9 97.6h0" stroke="#0073C2" stroke-width="3.0" stroke-linecap="round" fill="none"/>
<path d="M585.4 98.5l2.0-3.5l2.0 3.5zM604.5 109.1l2.0-3.5l2.0 3.5zM591.9 101.6l2.0-3.5l2.0 3.5zM583.0 109.1l2.0-3.5l2.0 3.5zM553.3 81.9l2.0-3.5l2.0 3.5zM562.1 110.1l2.0-3.5l2.0 3.5zM583.6 84.7l2.0-3.5l2.0 3.5zM591.9 94.0l2.0-3.5l2.0 3.5zM572.0 72.5l2.0-3.5l2.0 3.5zM555.4 81.9l2.0-3.5l2.0 3.5zM566.9 94.3l2.0-3.5l2.0 3.5zM570.3 95.0l2.0-3.5l2.0 3.5zM541.7 69.2l2.0-3.5l2.0 3.5zM544.9 83.2l2.0-3.5l2.0 3.5zM582.7 119.0l2.0-3.5l2.0 3.5zM592.2 89.6l2.0-3.5l2.0 3.5zM579.1 100.7l2.0-3.5l2.0 3.5zM598.6 128.0l2.0-3.5l2.0 3.5zM573.2 116.9l2.0-3.5l2.0 3.5zM586.2 89.2l2.0-3.5l2.0 3.5zM540.4 95.0l2.0-3.5l2.0 3.5zM569.1 99.7l2.0-3.5l2.0 3.5zM540.1 62.6l2.0-3.5l2.0 3.5zM543.2 80.1l2.0-3.5l2.0 3.5zM585.9 119.9l2.0-3.5l2.0 3.5zM584.6 83.1l2.0-3.5l2.0 3.5zM563.8 82.7l2.0-3.5l2.0 3.5zM560.2 84.6l2.0-3.5l2.0 3.5zM577.0 94.6l2.0-3.5l2.0 3.5zM536.6 84.1l2.0-3.5l2.0 3.5zM608.1 126.6l2.0-3.5l2.0 3.5z" fill="#0073C2"/>
<path d="M572.9 96.4h2.8v2.8h-2.8zM583.3 106.1h2.8v2.8h-2.8zM547.8 87.1h2.8v2.8h-2.8zM600.1 97.1h2.8v2.8h-2.8zM565.7 87.6h2.8v2.8h-2.8zM565.2 102.8h2.8v2.8h-2.8zM577.6 101.8h2.8v2.8h-2.8zM580.0 110.1h2.8v2.8h-2.8zM580.6 111.6h2.8v2.8h-2.8zM563.4 78.9h2.8v2.8h-2.8zM552.4 103.4h2.8v2.8h-2.8zM560.6 88.2h2.8v2.8h-2.8zM543.0 86.0h2.8v2.8h-2.8zM535.2 89.1h2.8v2.8h-2.8zM556.7 85.4h2.8v2.8h-2.8zM545.0 80.9h2.8v2.8h-2.8zM536.7 96.6h2.8v2.8h-2.8zM591.3 111.4h2.8v2.8h-2.8z" fill="#0073C2"/>
<path d="M576.4 71.7h0M593.2 115.9h0M574.4 132.2h0M554.2 130.5h0M548.1 80.6h0M624.4 121.5h0M597.6 124.6h0M589.7 74.3h0" stroke="#EFC000" stroke-width="3.0" stroke-linecap="round" fill="none"/>
<path d="M568.5 86.7l2.0-3.5l2.0 3.5zM612.9 155.5l2.0-3.5l2.0 3.5zM571.9 93.8l2.0-3.5l2.0 3.5zM574.1 109.5l2.0-3.5l2.0 3.5zM585.8 120.2l2.0-3.5l2.0 3.5zM615.4 128.7l2.0-3.5l2.0 3.5zM558.9 66.5l2.0-3.5l2.0 3.5zM562.0 78.1l2.0-3.5l2.0 3.5zM542.6 64.6l2.0-3.5l2.0 3.5zM561.9 65.9l2.0-3.5l2.0 3.5zM554.7 77.4l2.0-3.5l2.0 3.5zM600.3 87.7l2.0-3.5l2.0 3.5zM588.1 95.7l2.0-3.5l2.0 3.5zM540.9 108.5l2.0-3.5l2.0 3.5zM560.0 80.4l2.0-3.5l2.0 3.5zM597.9 137.3l2.0-3.5l2.0 3.5zM568.1 77.7l2.0-3.5l2.0 3.5zM591.7 99.5l2.0-3.5l2.0 3.5zM569.3 86.2l2.0-3.5l2.0 3.5zM572.1 94.3l2.0-3.5l2.0 3.5zM570.6 87.7l2.0-3.5l2.0 3.5zM591.1 110.4l2.0-3.5l2.0 3.5zM562.3 63.8l2.0-3.5l2.0 3.5zM573.0 124.2l2.0-3.5l2.0 3.5zM586.6 102.0l2.0-3.5l2.0 3.5zM605.9 94.6l2.0-3.5l2.0 3.5zM524.8 61.0l2.0-3.5l2.0 3.5zM586.0 96.2l2.0-3.5l2.0 3.5zM591.4 107.0l2.0-3.5l2.0 3.5zM546.7 104.7l2.0-3.5l2.0 3.5zM640.6 120.1l2.0-3.5l2.0 3.5zM607.4 124.1l2.0-3.5l2.0 3.5zM610.8 79.3l2.0-3.5l2.0 3.5zM580.0 95.5l2.0-3.5l2.0 3.5zM576.1 91.3l2.0-3.5l2.0 3.5zM587.4 97.8l2.0-3.5l2.0 3.5zM592.6 123.0l2.0-3.5l2.0 3.5zM618.8 132.9l2.0-3.5l2.0 3.5zM612.1 163.8l2.0-3.5l2.0 3.5zM566.3 84.4l2.0-3.5l2.0 3.5zM621.4 156.9l2.0-3.5l2.0 3.5zM584.1 102.9l2.0-3.5l2.0 3.5zM552.3 87.6l2.0-3.5l2.0 3.5zM626.5 82.9l2.0-3.5l2.0 3.5zM547.7 71.3l2.0-3.5l2.0 3.5zM577.1 77.5l2.0-3.5l2.0 3.5zM571.8 79.5l2.0-3.5l2.0 3.5zM572.5 98.3l2.0-3.5l2.0 3.5zM576.2 109.4l2.0-3.5l2.0 3.5zM572.9 121.1l2.0-3.5l2.0 3.5z" fill="#EFC000"/>
<path d="M587.5 105.7h2.8v2.8h-2.8zM584.5 101.5h2.8v2.8h-2.8zM578.1 99.5h2.8v2.8h-2.8zM553.9 63.8h2.8v2.8h-2.8zM570.5 117.2h2.8v2.8h-2.8zM567.5 103.8h2.8v2.8h-2.8zM608.3 118.4h2.8v2.8h-2.8zM605.3 104.2h2.8v2.8h-2.8zM599.3 118.7h2.8v2.8h-2.8zM644.0 111.5h2.8v2.8h-2.8zM620.0 110.9h2.8v2.8h-2.8zM562.4 103.5h2.8v2.8h-2.8zM608.2 84.7h2.8v2.8h-2.8zM547.5 68.2h2.8v2.8h-2.8zM615.5 109.6h2.8v2.8h-2.8zM591.3 114.7h2.8v2.8h-2.8zM566.5 96.7h2.8v2.8h-2.8zM576.8 101.7h2.8v2.8h-2.8zM583.4 83.5h2.8v2.8h-2.8zM535.7 113.9h2.8v2.8h-2.8zM570.7 94.2h2.8v2.8h-2.8zM592.7 101.8h2.8v2.8h-2.8zM555.3 70.5h2.8v2.8h-2.8zM570.7 117.5h2.8v2.8h-2.8z" fill="#EFC000"/>
<path d="M558.8 106.2h0M525.6 71.0h0M553.9 88.3h0M599.2 113.3h0M599.0 109.1h0M573.6 118.7h0M575.7 101.0h0M576.5 83.0h0" stroke="#0073C2" stroke-width="3.0" stroke-linecap="round" fill="none"/>
<path d="M557.7 87.3l2.0-3.5l2.0 3.5zM581.7 109.0l2.0-3.5l2.0 3.5zM603.4 115.6l2.0-3.5l2.0 3.5zM567.9 86.2l2.0-3.5l2.0 3.5zM557.6 76.2l2.0-3.5l2.0 3.5zM577.8 102.7l2.0-3.5l2.0 3.5zM560.7 95.2l2.0-3.5l2.0 3.5zM562.9 105.6l2.0-3.5l2.0 3.5zM590.0 117.8l2.0-3.5l2.0 3.5zM587.3 102.1l2.0-3.5l2.0 3.5zM526.0 79.6l2.0-3.5l2.0 3.5zM580.8 98.7l2.0-3.5l2.0 3.5zM556.9 84.6l2.0-3.5l2.0 3.5zM571.0 116.9l2.0-3.5l2.0 3.5zM562.9 84.6l2.0-3.5l2.0 3.5zM593.3 91.6l2.0-3.5l2.0 3.5zM582.0 81.4l2.0-3.5l2.0 3.5zM593.9 100.0l2.0-3.5l2.0 3.5zM629.8 127.9l2.0-3.5l2.0 3.5zM606.9 106.6l2.0-3.5l2.0 3.5zM571.1 88.6l2.0-3.5l2.0 3.5zM581.7 90.9l2.0-3.5l2.0 3.5zM550.6 82.1l2.0-3.5l2.0 3.5zM578.8 106.5l2.0-3.5l2.0 3.5zM575.8 86.7l2.0-3.5l2.0 3.5zM601.7 159.1l2.0-3.5l2.0 3.5zM567.1 92.0l2.0-3.5l2.0 3.5zM565.7 101.3l2.0-3.5l2.0 3.5zM579.7 117.3l2.0-3.5l2.0 3.5zM601.1 103.7l2.0-3.5l2.0 3.5zM570.9 74.5l2.0-3.5l2.0 3.5zM571.0 98.5l2.0-3.5l2.0 3.5zM544.8 97.9l2.0-3.5l2.0 3.5z" fill="#0073C2"/>
<path d="M563.4 103.9h2.8v2.8h-2.8zM560.1 112.7h2.8v2.8h-2.8zM583.1 110.4h2.8v2.8h-2.8zM544.5 72.9h2.8v2.8h-2.8zM570.8 100.0h2.8v2.8h-2.8zM579.1 101.5h2.8v2.8h-2.8zM566.6 79.3h2.8v2.8h-2.8zM582.8 111.1h2.8v2.8h-2.8zM586.2 75.5h2.8v2.8h-2.8zM593.6 123.8h2.8v2.8h-2.8zM561.7 73.2h2.8v2.8h-2.8zM560.6 87.0h2.8v2.8h-2.8zM542.3 64.4h2.8v2.8h-2.8zM563.8 77.8h2.8v2.8h-2.8zM562.7 109.0h2.8v2.8h-2.8zM570.2 79.7h2.8v2.8h-2.8zM559.1 61.1h2.8v2.8h-2.8zM599.0 99.7h2.8v2.8h-2.8zM562.3 96.1h2.8v2.8h-2.8z" fill="#0073C2"/>
<path d="M591.0 77.5h0M588.1 91.4h0M534.2 59.9h0M577.7 90.9h0M576.4 83.9h0M554.1 57.7h0M591.9 99.5h0M561.3 86.3h0M570.5 82.1h0" stroke="#EFC000" stroke-width="3.0" stroke-linecap="round" fill="none"/>
<path d="M586.2 109.7l2.0-3.5l2.0 3.5zM551.7 76.7l2.0-3.5l2.0 3.5zM558.7 69.5l2.0-3.5l2.0 3.5zM608.9 136.0l2.0-3.5l2.0 3.5zM546.1 73.5l2.0-3.5l2.0 3.5zM501.9 85.8l2.0-3.5l2.0 3.5zM590.4 97.6l2.0-3.5l2.0 3.5zM570.9 105.5l2.0-3.5l2.0 3.5zM551.6 85.8l2.0-3.5l2.0 3.5zM570.6 85.3l2.0-3.5l2.0 3.5zM593.0 110.2l2.0-3.5l2.0 3.5zM600.4 120.1l2.0-3.5l2.0 3.5zM561.4 86.1l2.0-3.5l2.0 3.5zM593.8 106.0l2.0-3.5l2.0 3.5zM598.9 89.9l2.0-3.5l2.0 3.5zM597.5 111.4l2.0-3.5l2.0 3.5zM619.4 141.5l2.0-3.5l2.0 3.5zM584.9 43.2l2.0-3.5l2.0 3.5zM550.3 107.9l2.0-3.5l2.0 3.5zM585.1 108.1l2.0-3.5l2.0 3.5zM573.8 80.7l2.0-3.5l2.0 3.5zM592.9 79.7l2.0-3.5l2.0 3.5zM577.3 108.2l2.0-3.5l2.0 3.5zM556.9 88.8l2.0-3.5l2.0 3.5zM560.3 121.8l2.0-3.5l2.0 3.5zM600.7 100.2l2.0-3.5l2.0 3.5zM594.2 111.4l2.0-3.5l2.0 3.5zM591.8 118.3l2.0-3.5l2.0 3.5zM582.9 89.2l2.0-3.5l2.0 3.5zM549.8 94.4l2.0-3.5l2.0 3.5zM579.3 104.0l2.0-3.5l2.0 3.5zM572.0 101.2l2.0-3.5l2.0 3.5zM581.1 101.8l2.0-3.5l2.0 3.5zM572.8 93.9l2.0-3.5l2.0 3.5zM595.0 111.6l2.0-3.5l2.0 3.5zM598.1 98.9l2.0-3.5l2.0 3.5zM577.1 98.2l2.0-3.5l2.0 3.5zM567.1 79.0l2.0-3.5l2.0 3.5zM577.7 119.2l2.0-3.5l2.0 3.5zM608.1 117.5l2.0-3.5l2.0 3.5zM597.1 119.6l2.0-3.5l2.0 3.5zM584.1 91.8l2.0-3.5l2.0 3.5zM604.0 127.6l2.0-3.5l2.0 3.5zM599.6 112.4l2.0-3.5l2.0 3.5zM615.0 133.0l2.0-3.5l2.0 3.5zM587.5 100.4l2.0-3.5l2.0 3.5zM609.7 112.2l2.0-3.5l2.0 3.5zM539.0 85.3l2.0-3.5l2.0 3.5z" fill="#EFC000"/>
<path d="M613.5 108.4h2.8v2.8h-2.8zM621.3 127.9h2.8v2.8h-2.8zM620.1 112.2h2.8v2.8h-2.8zM597.3 130.5h2.8v2.8h-2.8zM583.8 89.5h2.8v2.8h-2.8zM578.9 111.1h2.8v2.8h-2.8zM565.5 79.2h2.8v2.8h-2.8zM560.9 102.0h2.8v2.8h-2.8zM606.7 105.9h2.8v2.8h-2.8zM580.8 127.6h2.8v2.8h-2.8zM561.7 82.9h2.8v2.8h-2.8zM602.8 88.3h2.8v2.8h-2.8zM612.1 125.5h2.8v2.8h-2.8zM563.5 91.6h2.8v2.8h-2.8zM619.5 115.8h2.8v2.8h-2.8zM565.4 94.4h2.8v2.8h-2.8zM596.0 110.6h2.8v2.8h-2.8zM576.6 99.0h2.8v2.8h-2.8zM546.8 81.6h2.8v2.8h-2.8zM566.8 80.7h2.8v2.8h-2.8zM600.5 128.3h2.8v2.8h-2.8zM552.8 81.8h2.8v2.8h-2.8zM559.7 72.7h2.8v2.8h-2.8z" fill="#EFC000"/>
<path d="M565.7 92.9h0M586.1 71.8h0M555.5 68.7h0M606.9 105.3h0M554.8 93.7h0M540.8 96.2h0M558.2 80.1h0M587.2 135.7h0M568.4 101.1h0M543.3 44.2h0" stroke="#0073C2" stroke-width="3.0" stroke-linecap="round" fill="none"/>
<path d="M596.9 97.4l2.0-3.5l2.0 3.5zM577.2 134.9l2.0-3.5l2.0 3.5zM572.9 101.4l2.0-3.5l2.0 3.5zM567.2 73.7l2.0-3.5l2.0 3.5zM594.7 97.9l2.0-3.5l2.0 3.5zM549.0 118.5l2.0-3.5l2.0 3.5zM547.2 72.9l2.0-3.5l2.0 3.5zM580.5 110.3l2.0-3.5l2.0 3.5zM563.3 94.5l2.0-3.5l2.0 3.5zM553.8 60.5l2.0-3.5l2.0 3.5zM549.3 83.7l2.0-3.5l2.0 3.5zM558.6 112.3l2.0-3.5l2.0 3.5zM585.2 88.5l2.0-3.5l2.0 3.5zM592.4 107.1l2.0-3.5l2.0 3.5zM534.1 93.1l2.0-3.5l2.0 3.5zM555.2 97.8l2.0-3.5l2.0 3.5zM573.7 90.0l2.0-3.5l2.0 3.5zM549.2 112.4l2.0-3.5l2.0 3.5zM537.8 71.5l2.0-3.5l2.0 3.5zM588.0 113.2l2.0-3.5l2.0 3.5zM568.4 101.3l2.0-3.5l2.0 3.5zM577.8 103.8l2.0-3.5l2.0 3.5zM547.3 41.5l2.0-3.5l2.0 3.5zM553.8 96.4l2.0-3.5l2.0 3.5zM575.0 77.1l2.0-3.5l2.0 3.5zM584.3 107.8l2.0-3.5l2.0 3.5zM576.9 92.4l2.0-3.5l2.0 3.5z" fill="#0073C2"/>
<path d="M573.1 62.4h2.8v2.8h-2.8zM570.1 88.5h2.8v2.8h-2.8zM577.8 118.7h2.8v2.8h-2.8zM607.2 140.0h2.8v2.8h-2.8zM600.1 115.7h2.8v2.8h-2.8zM569.7 76.2h2.8v2.8h-2.8zM584.5 121.1h2.8v2.8h-2.8zM559.4 99.0h2.8v2.8h-2.8zM563.6 75.1h2.8v2.8h-2.8zM588.3 105.8h2.8v2.8h-2.8zM560.4 70.8h2.8v2.8h-2.8zM567.1 93.7h2.8v2.8h-2.8zM550.6 97.2h2.8v2.8h-2.8zM550.8 96.3h2.8v2.8h-2.8zM541.4 70.9h2.8v2.8h-2.8zM595.1 120.6h2.8v2.8h-2.8zM586.3 104.0h2.8v2.8h-2.8zM568.2 109.4h2.8v2.8h-2.8z" fill="#0073C2"/>
<path d="M578.4 115.4h0M601.4 119.7h0M555.0 80.8h0M590.6 86.9h0M628.6 99.4h0M569.9 76.2h0" stroke="#EFC000" stroke-width="3.0" stroke-linecap="round" fill="none"/>
<path d="M589.8 103.3l2.0-3.5l2.0 3.5zM603.2 117.5l2.0-3.5l2.0 3.5zM585.6 111.9l2.0-3.5l2.0 3.5zM590.3 82.7l2.0-3.5l2.0 3.5zM554.3 95.0l2.0-3.5l2.0 3.5zM585.2 101.3l2.0-3.5l2.0 3.5zM601.0 107.8l2.0-3.5l2.0 3.5zM595.4 118.1l2.0-3.5l2.0 3.5zM597.3 88.0l2.0-3.5l2.0 3.5zM553.2 77.6l2.0-3.5l2.0 3.5zM575.0 89.7l2.0-3.5l2.0 3.5zM633.1 142.2l2.0-3.5l2.0 3.5zM570.8 83.0l2.0-3.5l2.0 3.5zM579.5 70.4l2.0-3.5l2.0 3.5zM622.1 175.2l2.0-3.5l2.0 3.5zM586.3 101.9l2.0-3.5l2.0 3.5zM573.1 83.4l2.0-3.5l2.0 3.5zM559.4 65.6l2.0-3.5l2.0 3.5zM533.4 107.1l2.0-3.5l2.0 3.5zM600.0 100.6l2.0-3.5l2.0 3.5zM563.5 48.3l2.0-3.5l2.0 3.5zM634.1 133.1l2.0-3.5l2.0 3.5zM605.9 102.3l2.0-3.5l2.0 3.5zM593.5 106.4l2.0-3.5l2.0 3.5zM540.1 64.2l2.0-3.5l2.0 3.5zM581.2 96.0l2.0-3.5l2.0 3.5zM579.8 106.0l2.0-3.5l2.0 3.5zM575.8 103.7l2.0-3.5l2.0 3.5zM509.9 74.5l2.0-3.5l2.0 3.5zM593.9 147.8l2.0-3.5l2.0 3.5zM600.3 91.6l2.0-3.5l2.0 3.5zM586.8 125.7l2.0-3.5l2.0 3.5zM586.1 88.1l2.0-3.5l2.0 3.5zM589.9 102.3l2.0-3.5l2.0 3.5zM575.1 101.3l2.0-3.5l2.0 3.5zM569.4 89.2l2.0-3.5l2.0 3.5zM584.0 79.3l2.0-3.5l2.0 3.5zM597.8 112.4l2.0-3.5l2.0 3.5zM586.5 106.4l2.0-3.5l2.0 3.5zM554.7 107.0l2.0-3.5l2.0 3.5zM594.2 115.4l2.0-3.5l2.0 3.5zM579.1 101.5l2.0-3.5l2.0 3.5zM570.6 104.9l2.0-3.5l2.0 3.5zM570.2 103.3l2.0-3.5l2.0 3.5zM577.8 109.7l2.0-3.5l2.0 3.5zM558.8 81.7l2.0-3.5l2.0 3.5zM596.6 94.0l2.0-3.5l2.0 3.5zM594.9 73.5l2.0-3.5l2.0 3.5zM592.3 86.6l2.0-3.5l2.0 3.5zM544.6 100.3l2.0-3.5l2.0 3.5zM588.9 91.3l2.0-3.5l2.0 3.5zM568.5 107.5l2.0-3.5l2.0 3.5zM606.0 91.9l2.0-3.5l2.0 3.5zM590.1 114.4l2.0-3.5l2.0 3.5zM552.7 76.6l2.0-3.5l2.0 3.5zM599.0 108.6l2.0-3.5l2.0 3.5z" fill="#EFC000"/>
<path d="M585.0 100.0h2.8v2.8h-2.8zM548.9 76.0h2.8v2.8h-2.8zM568.4 104.0h2.8v2.8h-2.8zM568.0 87.5h2.8v2.8h-2.8zM552.7 77.9h2.8v2.8h-2.8zM591.1 97.3h2.8v2.8h-2.8zM604.5 113.6h2.8v2.8h-2.8zM564.1 64.9h2.8v2.8h-2.8zM594.7 147.4h2.8v2.8h-2.8zM572.5 89.1h2.8v2.8h-2.8zM566.5 80.6h2.8v2.8h-2.8zM592.6 93.9h2.8v2.8h-2.8zM528.6 101.7h2.8v2.8h-2.8zM591.5 106.0h2.8v2.8h-2.8zM578.5 94.6h2.8v2.8h-2.8zM604.2 104.4h2.8v2.8h-2.8zM598.7 116.1h2.8v2.8h-2.8zM572.2 115.0h2.8v2.8h-2.8zM579.0 80.5h2.8v2.8h-2.8zM604.0 138.1h2.8v2.8h-2.8zM641.5 176.4h2.8v2.8h-2.8zM569.2 78.7h2.8v2.8h-2.8zM576.6 80.3h2.8v2.8h-2.8z" fill="#EFC000"/>
<path d="M603.4 98.9h0M547.7 100.0h0M578.3 102.6h0M608.9 116.8h0M573.6 109.7h0M594.1 117.0h0M568.0 86.6h0M548.5 124.2h0M592.0 124.5h0" stroke="#0073C2" stroke-width="3.0" stroke-linecap="round" fill="none"/>
<path d="M581.0 100.3l2.0-3.5l2.0 3.5zM561.5 99.8l2.0-3.5l2.0 3.5zM579.9 122.9l2.0-3.5l2.0 3.5zM550.0 103.7l2.0-3.5l2.0 3.5zM581.9 102.1l2.0-3.5l2.0 3.5zM551.7 89.0l2.0-3.5l2.0 3.5zM601.9 129.2l2.0-3.5l2.0 3.5zM571.6 90.9l2.0-3.5l2.0 3.5zM568.4 92.6l2.0-3.5l2.0 3.5zM581.3 122.0l2.0-3.5l2.0 3.5zM578.2 77.9l2.0-3.5l2.0 3.5zM588.7 107.2l2.0-3.5l2.0 3.5zM630.8 138.8l2.0-3.5l2.0 3.5zM535.5 79.9l2.0-3.5l2.0 3.5zM591.0 90.4l2.0-3.5l2.0 3.5zM569.5 101.4l2.0-3.5l2.0 3.5zM591.9 114.9l2.0-3.5l2.0 3.5zM563.1 93.1l2.0-3.5l2.0 3.5zM557.4 108.4l2.0-3.5l2.0 3.5zM562.0 108.7l2.0-3.5l2.0 3.5zM560.4 110.2l2.0-3.5l2.0 3.5zM588.4 118.1l2.0-3.5l2.0 3.5zM541.5 88.0l2.0-3.5l2.0 3.5zM568.7 114.9l2.0-3.5l2.0 3.5zM571.2 112.5l2.0-3.5l2.0 3.5zM570.0 86.2l2.0-3.5l2.0 3.5z" fill="#0073C2"/>
<path d="M575.1 94.6h2.8v2.8h-2.8zM586.0 116.9h2.8v2.8h-2.8zM574.0 109.5h2.8v2.8h-2.8zM584.6 91.6h2.8v2.8h-2.8zM588.3 164.3h2.8v2.8h-2.8zM556.5 90.0h2.8v2.8h-2.8zM555.4 87.3h2.8v2.8h-2.8zM544.4 84.2h2.8v2.8h-2.8zM554.5 70.7h2.8v2.8h-2.8zM582.2 105.4h2.8v2.8h-2.8zM574.0 100.4h2.8v2.8h-2.8zM593.6 121.3h2.8v2.8h-2.8zM535.6 65.9h2.8v2.8h-2.8zM577.2 116.7h2.8v2.8h-2.8z" fill="#0073C2"/>
<path d="M599.5 94.8h0M565.1 95.5h0M601.3 118.1h0M625.4 108.8h0" stroke="#EFC000" stroke-width="3.0" stroke-linecap="round" fill="none"/>
<path d="M544.3 60.8l2.0-3.5l2.0 3.5zM598.5 104.3l2.0-3.5l2.0 3.5zM508.2 51.2l2.0-3.5l2.0 3.5zM577.0 104.5l2.0-3.5l2.0 3.5zM571.1 89.5l2.0-3.5l2.0 3.5zM583.0 97.2l2.0-3.5l2.0 3.5zM608.7 113.6l2.0-3.5l2.0 3.5zM561.0 65.3l2.0-3.5l2.0 3.5zM599.2 136.7l2.0-3.5l2.0 3.5zM538.4 92.3l2.0-3.5l2.0 3.5zM586.2 117.9l2.0-3.5l2.0 3.5zM608.5 127.9l2.0-3.5l2.0 3.5zM577.1 102.0l2.0-3.5l2.0 3.5zM623.9 164.8l2.0-3.5l2.0 3.5zM590.5 84.6l2.0-3.5l2.0 3.5zM580.0 114.5l2.0-3.5l2.0 3.5zM571.9 92.4l2.0-3.5l2.0 3.5zM589.7 105.5l2.0-3.5l2.0 3.5zM544.0 42.9l2.0-3.5l2.0 3.5zM589.1 121.9l2.0-3.5l2.0 3.5zM562.3 77.3l2.0-3.5l2.0 3.5zM565.2 111.4l2.0-3.5l2.0 3.5zM590.8 100.4l2.0-3.5l2.0 3.5zM571.7 104.5l2.0-3.5l2.0 3.5zM583.4 109.1l2.0-3.5l2.0 3.5zM558.5 90.6l2.0-3.5l2.0 3.5zM605.4 131.0l2.0-3.5l2.0 3.5zM576.8 87.9l2.0-3.5l2.0 3.5zM561.2 88.2l2.0-3.5l2.0 3.5zM606.4 112.8l2.0-3.5l2.0 3.5zM594.8 84.8l2.0-3.5l2.0 3.5zM618.7 125.9l2.0-3.5l2.0 3.5zM649.3 112.8l2.0-3.5l2.0 3.5zM592.3 100.8l2.0-3.5l2.0 3.5zM572.2 100.0l2.0-3.5l2.0 3.5zM568.2 95.5l2.0-3.5l2.0 3.5zM558.8 91.5l2.0-3.5l2.0 3.5zM561.8 73.0l2.0-3.5l2.0 3.5zM598.3 106.0l2.0-3.5l2.0 3.5zM558.5 72.6l2.0-3.5l2.0 3.5zM575.3 89.7l2.0-3.5l2.0 3.5zM571.1 154.3l2.0-3.5l2.0 3.5zM592.7 93.1l2.0-3.5l2.0 3.5zM582.1 82.4l2.0-3.5l2.0 3.5zM537.0 61.1l2.0-3.5l2.0 3.5zM586.1 111.7l2.0-3.5l2.0 3.5zM608.5 133.1l2.0-3.5l2.0 3.5zM570.1 123.4l2.0-3.5l2.0 3.5zM589.8 116.1l2.0-3.5l2.0 3.5zM567.8 117.3l2.0-3.5l2.0 3.5zM547.8 99.7l2.0-3.5l2.0 3.5zM603.2 90.7l2.0-3.5l2.0 3.5zM562.2 106.0l2.0-3.5l2.0 3.5zM599.0 108.8l2.0-3.5l2.0 3.5zM612.3 81.8l2.0-3.5l2.0 3.5zM567.6 101.7l2.0-3.5l2.0 3.5zM613.9 103.7l2.0-3.5l2.0 3.5zM571.3 97.8l2.0-3.5l2.0 3.5zM576.3 103.1l2.0-3.5l2.0 3.5zM564.3 73.2l2.0-3.5l2.0 3.5zM623.7 117.5l2.0-3.5l2.0 3.5zM582.1 108.5l2.0-3.5l2.0 3.5zM550.2 77.6l2.0-3.5l2.0 3.5z" fill="#EFC000"/>
<path d="M588.9 103.1h2.8v2.8h-2.8zM578.8 113.4h2.8v2.8h-2.8zM585.1 87.9h2.8v2.8h-2.8zM589.5 104.4h2.8v2.8h-2.8zM539.9 49.6h2.8v2.8h-2.8zM577.0 115.8h2.8v2.8h-2.8zM587.3 95.0h2.8v2.8h-2.8zM604.8 104.4h2.8v2.8h-2.8zM576.4 89.7h2.8v2.8h-2.8zM541.7 51.5h2.8v2.8h-2.8zM554.9 88.5h2.8v2.8h-2.8zM602.7 107.1h2.8v2.8h-2.8zM612.3 106.5h2.8v2.8h-2.8zM586.8 106.4h2.8v2.8h-2.8zM550.8 80.9h2.8v2.8h-2.8zM592.9 116.4h2.8v2.8h-2.8zM582.8 127.0h2.8v2.8h-2.8zM601.4 133.2h2.8v2.8h-2.8zM560.9 75.8h2.8v2.8h-2.8zM578.6 97.3h2.8v2.8h-2.8zM583.5 116.0h2.8v2.8h-2.8zM559.3 104.4h2.8v2.8h-2.8zM542.9 72.8h2.8v2.8h-2.8zM579.6 120.5h2.8v2.8h-2.8z" fill="#EFC000"/>
<path d="M542.3 79.5h0M559.7 107.3h0" stroke="#0073C2" stroke-width="3.0" stroke-linecap="round" fill="none"/>
<path d="M574.9 92.4l2.0-3.5l2.0 3.5zM539.5 73.3l2.0-3.5l2.0 3.5zM543.4 69.4l2.0-3.5l2.0 3.5zM565.6 81.2l2.0-3.5l2.0 3.5zM579.7 102.3l2.0-3.5l2.0 3.5zM591.5 108.7l2.0-3.5l2.0 3.5zM555.6 73.6l2.0-3.5l2.0 3.5zM572.3 121.1l2.0-3.5l2.0 3.5zM568.0 65.9l2.0-3.5l2.0 3.5zM568.0 105.1l2.0-3.5l2.0 3.5zM558.5 75.2l2.0-3.5l2.0 3.5zM549.9 89.1l2.0-3.5l2.0 3.5zM583.5 104.5l2.0-3.5l2.0 3.5zM581.2 131.8l2.0-3.5l2.0 3.5zM577.1 121.3l2.0-3.5l2.0 3.5zM543.8 87.4l2.0-3.5l2.0 3.5zM585.4 116.6l2.0-3.5l2.0 3.5zM538.7 76.3l2.0-3.5l2.0 3.5zM563.7 102.0l2.0-3.5l2.0 3.5zM583.9 114.1l2.0-3.5l2.0 3.5zM553.9 112.5l2.0-3.5l2.0 3.5zM571.6 97.8l2.0-3.5l2.0 3.5zM587.1 87.1l2.0-3.5l2.0 3.5zM561.1 132.7l2.0-3.5l2.0 3.5zM552.7 82.4l2.0-3.5l2.0 3.5zM618.1 106.3l2.0-3.5l2.0 3.5zM578.0 71.5l2.0-3.5l2.0 3.5zM571.9 98.9l2.0-3.5l2.0 3.5zM521.6 54.4l2.0-3.5l2.0 3.5zM551.2 101.8l2.0-3.5l2.0 3.5zM541.8 83.0l2.0-3.5l2.0 3.5zM569.6 108.0l2.0-3.5l2.0 3.5zM530.5 77.3l2.0-3.5l2.0 3.5z" fill="#0073C2"/>
<path d="M549.7 94.3h2.8v2.8h-2.8zM561.5 78.5h2.8v2.8h-2.8zM575.0 123.9h2.8v2.8h-2.8zM548.3 78.4h2.8v2.8h-2.8zM532.7 53.1h2.8v2.8h-2.8zM593.0 99.4h2.8v2.8h-2.8zM574.2 91.4h2.8v2.8h-2.8zM560.9 103.0h2.8v2.8h-2.8zM575.6 111.1h2.8v2.8h-2.8zM585.5 93.6h2.8v2.8h-2.8zM576.4 92.3h2.8v2.8h-2.8zM584.2 116.2h2.8v2.8h-2.8zM596.1 102.3h2.8v2.8h-2.8z" fill="#0073C2"/>
<path d="M537.8 84.3h0M596.6 105.6h0M583.8 101.7h0M554.7 76.6h0M595.6 102.4h0M613.9 106.4h0" stroke="#EFC000" stroke-width="3.0" stroke-linecap="round" fill="none"/>
<path d="M579.5 102.6l2.0-3.5l2.0 3.5zM576.0 101.5l2.0-3.5l2.0 3.5zM610.8 130.0l2.0-3.5l2.0 3.5zM578.1 104.7l2.0-3.5l2.0 3.5zM579.7 89.0l2.0-3.5l2.0 3.5zM612.0 114.8l2.0-3.5l2.0 3.5zM578.2 69.5l2.0-3.5l2.0 3.5zM545.0 108.1l2.0-3.5l2.0 3.5zM567.4 95.3l2.0-3.5l2.0 3.5zM600.9 105.5l2.0-3.5l2.0 3.5zM583.2 113.1l2.0-3.5l2.0 3.5zM560.9 82.6l2.0-3.5l2.0 3.5zM555.2 77.5l2.0-3.5l2.0 3.5zM593.4 94.5l2.0-3.5l2.0 3.5zM573.0 94.9l2.0-3.5l2.0 3.5zM614.4 129.2l2.0-3.5l2.0 3.5zM567.1 91.4l2.0-3.5l2.0 3.5zM580.9 105.2l2.0-3.5l2.0 3.5zM603.2 74.3l2.0-3.5l2.0 3.5zM615.1 124.0l2.0-3.5l2.0 3.5zM580.5 84.4l2.0-3.5l2.0 3.5zM537.5 91.3l2.0-3.5l2.0 3.5zM599.1 108.6l2.0-3.5l2.0 3.5zM568.2 90.1l2.0-3.5l2.0 3.5zM590.8 118.6l2.0-3.5l2.0 3.5zM585.6 105.7l2.0-3.5l2.0 3.5zM593.9 112.8l2.0-3.5l2.0 3.5zM624.3 160.2l2.0-3.5l2.0 3.5zM557.0 108.5l2.0-3.5l2.0 3.5zM566.3 93.3l2.0-3.5l2.0 3.5zM617.6 148.8l2.0-3.5l2.0 3.5zM603.2 120.4l2.0-3.5l2.0 3.5zM571.8 76.3l2.0-3.5l2.0 3.5zM543.2 62.0l2.0-3.5l2.0 3.5zM593.3 108.2l2.0-3.5l2.0 3.5zM584.1 122.0l2.0-3.5l2.0 3.5zM563.0 84.0l2.0-3.5l2.0 3.5zM577.6 100.5l2.0-3.5l2.0 3.5zM571.0 83.4l2.0-3.5l2.0 3.5zM583.5 105.7l2.0-3.5l2.0 3.5zM586.9 99.2l2.0-3.5l2.0 3.5zM582.8 104.0l2.0-3.5l2.0 3.5zM587.6 118.1l2.0-3.5l2.0 3.5zM532.3 71.0l2.0-3.5l2.0 3.5zM597.7 108.5l2.0-3.5l2.0 3.5zM597.1 125.5l2.0-3.5l2.0 3.5zM544.8 83.8l2.0-3.5l2.0 3.5zM564.8 92.1l2.0-3.5l2.0 3.5zM593.2 114.8l2.0-3.5l2.0 3.5zM532.1 71.3l2.0-3.5l2.0 3.5zM545.5 113.7l2.0-3.5l2.0 3.5zM612.8 104.1l2.0-3.5l2.0 3.5zM587.1 117.2l2.0-3.5l2.0 3.5zM542.5 82.3l2.0-3.5l2.0 3.5z" fill="#EFC000"/>
<path d="M565.1 101.7h2.8v2.8h-2.8zM561.4 100.4h2.8v2.8h-2.8zM606.2 126.6h2.8v2.8h-2.8zM563.0 87.2h2.8v2.8h-2.8zM559.4 66.4h2.8v2.8h-2.8zM569.4 82.3h2.8v2.8h-2.8zM561.3 94.6h2.8v2.8h-2.8zM542.9 60.2h2.8v2.8h-2.8zM590.3 103.9h2.8v2.8h-2.8zM596.8 96.9h2.8v2.8h-2.8zM554.2 82.0h2.8v2.8h-2.8zM591.7 102.8h2.8v2.8h-2.8zM599.9 126.3h2.8v2.8h-2.8zM592.2 86.8h2.8v2.8h-2.8zM584.6 129.8h2.8v2.8h-2.8zM562.2 91.2h2.8v2.8h-2.8zM584.5 119.6h2.8v2.8h-2.8zM570.5 100.9h2.8v2.8h-2.8zM551.9 75.3h2.8v2.8h-2.8zM581.4 74.6h2.8v2.8h-2.8zM558.1 83.1h2.8v2.8h-2.8zM585.1 121.8h2.8v2.8h-2.8zM594.9 126.3h2.8v2.8h-2.8zM577.0 113.2h2.8v2.8h-2.8zM576.2 72.7h2.8v2.8h-2.8zM596.0 98.1h2.8v2.8h-2.8zM574.7 67.3h2.8v2.8h-2.8zM593.1 154.5h2.8v2.8h-2.8zM580.3 114.0h2.8v2.8h-2.8zM609.7 130.3h2.8v2.8h-2.8zM614.5 118.8h2.8v2.8h-2.8zM573.1 103.0h2.8v2.8h-2.8z" fill="#EFC000"/>
<path d="M571.5 117.8h0M588.5 93.2h0M592.8 98.9h0M559.4 93.1h0M591.8 107.6h0M548.6 97.2h0M561.2 90.3h0" stroke="#0073C2" stroke-width="3.0" stroke-linecap="round" fill="none"/>
<path d="M544.0 95.6l2.0-3.5l2.0 3.5zM601.4 95.6l2.0-3.5l2.0 3.5zM568.7 85.0l2.0-3.5l2.0 3.5zM553.4 81.8l2.0-3.5l2.0 3.5zM566.8 96.4l2.0-3.5l2.0 3.5zM560.0 107.6l2.0-3.5l2.0 3.5zM586.0 90.8l2.0-3.5l2.0 3.5zM577.7 108.2l2.0-3.5l2.0 3.5zM550.6 83.7l2.0-3.5l2.0 3.5zM581.3 102.8l2.0-3.5l2.0 3.5zM566.4 81.9l2.0-3.5l2.0 3.5zM551.4 106.1l2.0-3.5l2.0 3.5zM555.1 87.0l2.0-3.5l2.0 3.5zM530.8 83.7l2.0-3.5l2.0 3.5zM581.5 113.4l2.0-3.5l2.0 3.5zM525.6 65.6l2.0-3.5l2.0 3.5zM605.9 149.8l2.0-3.5l2.0 3.5zM594.9 120.1l2.0-3.5l2.0 3.5zM549.5 89.0l2.0-3.5l2.0 3.5zM581.2 105.0l2.0-3.5l2.0 3.5zM539.9 96.3l2.0-3.5l2.0 3.5zM556.8 72.1l2.0-3.5l2.0 3.5zM581.4 82.4l2.0-3.5l2.0 3.5zM569.9 119.6l2.0-3.5l2.0 3.5zM598.9 135.9l2.0-3.5l2.0 3.5zM532.6 105.2l2.0-3.5l2.0 3.5zM580.0 107.1l2.0-3.5l2.0 3.5z" fill="#0073C2"/>
<path d="M541.5 71.6h2.8v2.8h-2.8zM575.4 73.2h2.8v2.8h-2.8zM528.8 81.2h2.8v2.8h-2.8zM549.6 99.9h2.8v2.8h-2.8zM556.7 115.1h2.8v2.8h-2.8zM584.2 91.9h2.8v2.8h-2.8zM578.3 120.1h2.8v2.8h-2.8zM574.4 97.0h2.8v2.8h-2.8zM553.4 83.8h2.8v2.8h-2.8zM579.3 79.9h2.8v2.8h-2.8zM591.7 113.3h2.8v2.8h-2.8zM591.7 132.3h2.8v2.8h-2.8zM553.8 89.8h2.8v2.8h-2.8zM579.6 92.6h2.8v2.8h-2.8zM572.4 71.0h2.8v2.8h-2.8zM578.8 113.0h2.8v2.8h-2.8zM583.1 81.4h2.8v2.8h-2.8z" fill="#0073C2"/>
<path d="M568.0 97.9h0M574.0 75.8h0M563.4 118.0h0M568.5 107.0h0M598.0 89.4h0" stroke="#EFC000" stroke-width="3.0" stroke-linecap="round" fill="none"/>
<path d="M607.9 117.6l2.0-3.5l2.0 3.5zM590.7 138.7l2.0-3.5l2.0 3.5zM584.7 105.3l2.0-3.5l2.0 3.5zM584.7 107.2l2.0-3.5l2.0 3.5zM600.0 91.1l2.0-3.5l2.0 3.5zM613.1 128.6l2.0-3.5l2.0 3.5zM593.2 105.4l2.0-3.5l2.0 3.5zM562.4 78.1l2.0-3.5l2.0 3.5zM612.8 110.8l2.0-3.5l2.0 3.5zM559.2 149.4l2.0-3.5l2.0 3.5zM556.2 98.3l2.0-3.5l2.0 3.5zM600.4 129.4l2.0-3.5l2.0 3.5zM612.6 109.3l2.0-3.5l2.0 3.5zM584.5 92.5l2.0-3.5l2.0 3.5zM576.1 86.4l2.0-3.5l2.0 3.5zM582.6 101.2l2.0-3.5l2.0 3.5zM566.6 97.1l2.0-3.5l2.0 3.5zM579.5 113.0l2.0-3.5l2.0 3.5zM561.9 75.8l2.0-3.5l2.0 3.5zM593.1 122.2l2.0-3.5l2.0 3.5zM551.8 120.0l2.0-3.5l2.0 3.5zM542.9 73.1l2.0-3.5l2.0 3.5zM579.5 96.7l2.0-3.5l2.0 3.5zM596.6 90.5l2.0-3.5l2.0 3.5zM531.4 75.0l2.0-3.5l2.0 3.5zM580.6 94.8l2.0-3.5l2.0 3.5zM586.1 82.6l2.0-3.5l2.0 3.5zM557.0 66.6l2.0-3.5l2.0 3.5zM613.2 110.1l2.0-3.5l2.0 3.5zM592.7 93.4l2.0-3.5l2.0 3.5zM630.7 131.5l2.0-3.5l2.0 3.5zM585.7 93.4l2.0-3.5l2.0 3.5zM597.1 111.9l2.0-3.5l2.0 3.5zM557.8 85.3l2.0-3.5l2.0 3.5zM559.3 90.5l2.0-3.5l2.0 3.5zM544.4 67.0l2.0-3.5l2.0 3.5zM594.9 113.9l2.0-3.5l2.0 3.5zM589.4 135.0l2.0-3.5l2.0 3.5zM580.8 98.3l2.0-3.5l2.0 3.5zM588.7 101.2l2.0-3.5l2.0 3.5zM544.4 58.2l2.0-3.5l2.0 3.5zM596.9 121.1l2.0-3.5l2.0 3.5zM574.0 82.6l2.0-3.5l2.0 3.5zM593.7 122.0l2.0-3.5l2.0 3.5zM564.2 82.1l2.0-3.5l2.0 3.5zM579.2 93.6l2.0-3.5l2.0 3.5zM581.9 78.7l2.0-3.5l2.0 3.5zM594.3 121.4l2.0-3.5l2.0 3.5zM618.7 143.4l2.0-3.5l2.0 3.5zM581.4 91.2l2.0-3.5l2.0 3.5zM540.6 67.2l2.0-3.5l2.0 3.5z" fill="#EFC000"/>
<path d="M597.0 91.6h2.8v2.8h-2.8zM545.5 70.3h2.8v2.8h-2.8zM546.9 68.4h2.8v2.8h-2.8zM548.0 99.2h2.8v2.8h-2.8zM585.3 100.3h2.8v2.8h-2.8zM597.5 103.2h2.8v2.8h-2.8zM562.8 94.5h2.8v2.8h-2.8zM624.9 108.3h2.8v2.8h-2.8zM649.5 172.8h2.8v2.8h-2.8zM562.8 91.5h2.8v2.8h-2.8zM581.8 132.1h2.8v2.8h-2.8zM575.9 95.5h2.8v2.8h-2.8zM577.3 101.4h2.8v2.8h-2.8zM523.4 47.1h2.8v2.8h-2.8zM575.5 71.5h2.8v2.8h-2.8zM583.8 85.4h2.8v2.8h-2.8zM544.1 98.9h2.8v2.8h-2.8zM548.8 102.7h2.8v2.8h-2.8zM612.7 117.9h2.8v2.8h-2.8zM555.9 78.6h2.8v2.8h-2.8zM615.5 116.2h2.8v2.8h-2.8zM582.6 87.1h2.8v2.8h-2.8zM558.9 90.4h2.8v2.8h-2.8zM600.8 93.4h2.8v2.8h-2.8zM553.8 74.8h2.8v2.8h-2.8zM576.7 76.5h2.8v2.8h-2.8zM606.0 102.4h2.8v2.8h-2.8zM597.4 112.0h2.8v2.8h-2.8zM596.9 113.4h2.8v2.8h-2.8zM614.9 139.5h2.8v2.8h-2.8zM568.1 100.6h2.8v2.8h-2.8zM570.2 72.9h2.8v2.8h-2.8zM576.7 96.0h2.8v2.8h-2.8z" fill="#EFC000"/>
</g>
<polygon points="493.0,42.1 497.6,45.3 502.2,48.4 506.7,51.6 511.3,54.7 515.9,57.9 520.5,61.1 525.0,64.2 529.6,67.3 534.2,70.5 538.8,73.6 543.3,76.8 547.9,79.9 552.5,83.0 557.1,86.1 561.7,89.2 566.2,92.2 570.8,95.3 575.4,98.3 580.0,101.3 584.5,104.2 589.1,107.2 593.7,110.1 598.3,112.9 602.8,115.7 607.4,118.6 612.0,121.3 616.6,124.1 621.2,126.9 625.7,129.6 630.3,132.4 634.9,135.1 639.5,137.9 644.0,140.6 648.6,143.4 653.2,146.1 657.8,148.8 662.3,151.5 666.9,154.3 671.5,157.0 671.5,166.5 666.9,163.3 662.3,160.2 657.8,157.0 653.2,153.9 648.6,150.7 644.0,147.6 639.5,144.4 634.9,141.3 630.3,138.1 625.7,135.0 621.2,131.9 616.6,128.8 612.0,125.7 607.4,122.6 602.8,119.5 598.3,116.4 593.7,113.4 589.1,110.4 584.5,107.4 580.0,104.5 575.4,101.6 570.8,98.7 566.2,95.9 561.7,93.1 557.1,90.3 552.5,87.5 547.9,84.7 543.3,82.0 538.8,79.2 534.2,76.5 529.6,73.7 525.0,71.0 520.5,68.3 515.9,65.5 511.3,62.8 506.7,60.1 502.2,57.3 497.6,54.6 493.0,51.9" fill="#EFC000" fill-opacity="0.4" clip-path="url(#c3)"/>
<line x1="493.0" y1="47.0" x2="671.5" y2="161.8" stroke="#EFC000" stroke-width="1.35" clip-path="url(#c3)"/>
<polygon points="522.2,55.5 524.9,57.7 527.5,59.9 530.2,62.1 532.8,64.3 535.5,66.5 538.2,68.7 540.8,70.9 543.5,73.1 546.2,75.3 548.8,77.5 551.5,79.6 554.1,81.8 556.8,83.9 559.5,86.0 562.1,88.1 564.8,90.2 567.4,92.3 570.1,94.3 572.8,96.3 575.4,98.3 578.1,100.3 580.8,102.3 583.4,104.3 586.1,106.2 588.7,108.1 591.4,110.0 594.1,111.9 596.7,113.8 599.4,115.7 602.0,117.5 604.7,119.4 607.4,121.2 610.0,123.1 612.7,124.9 615.4,126.8 618.0,128.6 620.7,130.4 623.3,132.3 626.0,134.1 626.0,144.7 623.3,142.5 620.7,140.3 618.0,138.1 615.4,135.8 612.7,133.6 610.0,131.4 607.4,129.2 604.7,127.0 602.0,124.9 599.4,122.7 596.7,120.5 594.1,118.3 591.4,116.2 588.7,114.0 586.1,111.9 583.4,109.8 580.8,107.7 578.1,105.6 575.4,103.6 572.8,101.5 570.1,99.5 567.4,97.5 564.8,95.5 562.1,93.6 559.5,91.6 556.8,89.7 554.1,87.8 551.5,85.9 548.8,84.0 546.2,82.1 543.5,80.3 540.8,78.4 538.2,76.5 535.5,74.7 532.8,72.8 530.2,71.0 527.5,69.2 524.9,67.3 522.2,65.5" fill="#0073C2" fill-opacity="0.4" clip-path="url(#c3)"/>
<line x1="522.2" y1="60.5" x2="626.0" y2="139.4" stroke="#0073C2" stroke-width="1.35" clip-path="url(#c3)"/>
<line x1="36.50" y1="20.00" x2="36.50" y2="188.15" stroke="#000" stroke-width="0.75" />
<line x1="36.15" y1="188.00" x2="234.00" y2="188.00" stroke="#000" stroke-width="0.9" />
<line x1="34.50" y1="166.60" x2="36.50" y2="166.60" stroke="#000" stroke-width="0.75" />
<text transform="translate(33.5,169.3) scale(1,1.1)" font-size="7.0" text-anchor="end" fill="#000" color="#000" >−2</text>
<line x1="34.50" y1="135.60" x2="36.50" y2="135.60" stroke="#000" stroke-width="0.75" />
<text transform="translate(33.5,138.3) scale(1,1.1)" font-size="7.0" text-anchor="end" fill="#000" color="#000" >−1</text>
<line x1="34.50" y1="104.60" x2="36.50" y2="104.60" stroke="#000" stroke-width="0.75" />
<text transform="translate(33.5,107.3) scale(1,1.1)" font-size="7.0" text-anchor="end" fill="#000" color="#000" >0</text>
<line x1="34.50" y1="73.60" x2="36.50" y2="73.60" stroke="#000" stroke-width="0.75" />
<text transform="translate(33.5,76.3) scale(1,1.1)" font-size="7.0" text-anchor="end" fill="#000" color="#000" >1</text>
<line x1="34.50" y1="42.60" x2="36.50" y2="42.60" stroke="#000" stroke-width="0.75" />
<text transform="translate(33.5,45.3) scale(1,1.1)" font-size="7.0" text-anchor="end" fill="#000" color="#000" >2</text>
<line x1="58.00" y1="187.80" x2="58.00" y2="189.80" stroke="#000" stroke-width="0.75" />
<text transform="translate(58.0,196.3) scale(1,1.1)" font-size="6.9" text-anchor="middle" fill="#000" color="#000" >−1.0</text>
<line x1="95.35" y1="187.80" x2="95.35" y2="189.80" stroke="#000" stroke-width="0.75" />
<text transform="translate(95.3,196.3) scale(1,1.1)" font-size="6.9" text-anchor="middle" fill="#000" color="#000" >−0.5</text>
<line x1="132.70" y1="187.80" x2="132.70" y2="189.80" stroke="#000" stroke-width="0.75" />
<text transform="translate(132.7,196.3) scale(1,1.1)" font-size="6.9" text-anchor="middle" fill="#000" color="#000" >0.0</text>
<line x1="170.05" y1="187.80" x2="170.05" y2="189.80" stroke="#000" stroke-width="0.75" />
<text transform="translate(170.0,196.3) scale(1,1.1)" font-size="6.9" text-anchor="middle" fill="#000" color="#000" >0.5</text>
<line x1="207.40" y1="187.80" x2="207.40" y2="189.80" stroke="#000" stroke-width="0.75" />
<text transform="translate(207.4,196.3) scale(1,1.1)" font-size="6.9" text-anchor="middle" fill="#000" color="#000" >1.0</text>
<line x1="260.60" y1="20.00" x2="260.60" y2="188.15" stroke="#000" stroke-width="0.75" />
<line x1="260.25" y1="188.00" x2="457.60" y2="188.00" stroke="#000" stroke-width="0.9" />
<line x1="258.60" y1="166.60" x2="260.60" y2="166.60" stroke="#000" stroke-width="0.75" />
<text transform="translate(257.6,169.3) scale(1,1.1)" font-size="7.0" text-anchor="end" fill="#000" color="#000" >−2</text>
<line x1="258.60" y1="135.60" x2="260.60" y2="135.60" stroke="#000" stroke-width="0.75" />
<text transform="translate(257.6,138.3) scale(1,1.1)" font-size="7.0" text-anchor="end" fill="#000" color="#000" >−1</text>
<line x1="258.60" y1="104.60" x2="260.60" y2="104.60" stroke="#000" stroke-width="0.75" />
<text transform="translate(257.6,107.3) scale(1,1.1)" font-size="7.0" text-anchor="end" fill="#000" color="#000" >0</text>
<line x1="258.60" y1="73.60" x2="260.60" y2="73.60" stroke="#000" stroke-width="0.75" />
<text transform="translate(257.6,76.3) scale(1,1.1)" font-size="7.0" text-anchor="end" fill="#000" color="#000" >1</text>
<line x1="258.60" y1="42.60" x2="260.60" y2="42.60" stroke="#000" stroke-width="0.75" />
<text transform="translate(257.6,45.3) scale(1,1.1)" font-size="7.0" text-anchor="end" fill="#000" color="#000" >2</text>
<line x1="301.00" y1="187.80" x2="301.00" y2="189.80" stroke="#000" stroke-width="0.75" />
<text transform="translate(301.0,196.3) scale(1,1.1)" font-size="6.9" text-anchor="middle" fill="#000" color="#000" >−2.5</text>
<line x1="342.80" y1="187.80" x2="342.80" y2="189.80" stroke="#000" stroke-width="0.75" />
<text transform="translate(342.8,196.3) scale(1,1.1)" font-size="6.9" text-anchor="middle" fill="#000" color="#000" >0.0</text>
<line x1="384.60" y1="187.80" x2="384.60" y2="189.80" stroke="#000" stroke-width="0.75" />
<text transform="translate(384.6,196.3) scale(1,1.1)" font-size="6.9" text-anchor="middle" fill="#000" color="#000" >2.5</text>
<line x1="426.40" y1="187.80" x2="426.40" y2="189.80" stroke="#000" stroke-width="0.75" />
<text transform="translate(426.4,196.3) scale(1,1.1)" font-size="6.9" text-anchor="middle" fill="#000" color="#000" >5.0</text>
<line x1="484.00" y1="20.00" x2="484.00" y2="188.15" stroke="#000" stroke-width="0.75" />
<line x1="483.65" y1="188.00" x2="681.00" y2="188.00" stroke="#000" stroke-width="0.9" />
<line x1="482.00" y1="166.60" x2="484.00" y2="166.60" stroke="#000" stroke-width="0.75" />
<text transform="translate(481.0,169.3) scale(1,1.1)" font-size="7.0" text-anchor="end" fill="#000" color="#000" >−2</text>
<line x1="482.00" y1="135.60" x2="484.00" y2="135.60" stroke="#000" stroke-width="0.75" />
<text transform="translate(481.0,138.3) scale(1,1.1)" font-size="7.0" text-anchor="end" fill="#000" color="#000" >−1</text>
<line x1="482.00" y1="104.60" x2="484.00" y2="104.60" stroke="#000" stroke-width="0.75" />
<text transform="translate(481.0,107.3) scale(1,1.1)" font-size="7.0" text-anchor="end" fill="#000" color="#000" >0</text>
<line x1="482.00" y1="73.60" x2="484.00" y2="73.60" stroke="#000" stroke-width="0.75" />
<text transform="translate(481.0,76.3) scale(1,1.1)" font-size="7.0" text-anchor="end" fill="#000" color="#000" >1</text>
<line x1="482.00" y1="42.60" x2="484.00" y2="42.60" stroke="#000" stroke-width="0.75" />
<text transform="translate(481.0,45.3) scale(1,1.1)" font-size="7.0" text-anchor="end" fill="#000" color="#000" >2</text>
<line x1="497.60" y1="187.80" x2="497.60" y2="189.80" stroke="#000" stroke-width="0.75" />
<text transform="translate(497.6,196.3) scale(1,1.1)" font-size="6.9" text-anchor="middle" fill="#000" color="#000" >−1.0</text>
<line x1="538.60" y1="187.80" x2="538.60" y2="189.80" stroke="#000" stroke-width="0.75" />
<text transform="translate(538.6,196.3) scale(1,1.1)" font-size="6.9" text-anchor="middle" fill="#000" color="#000" >−0.5</text>
<line x1="579.60" y1="187.80" x2="579.60" y2="189.80" stroke="#000" stroke-width="0.75" />
<text transform="translate(579.6,196.3) scale(1,1.1)" font-size="6.9" text-anchor="middle" fill="#000" color="#000" >0.0</text>
<line x1="620.60" y1="187.80" x2="620.60" y2="189.80" stroke="#000" stroke-width="0.75" />
<text transform="translate(620.6,196.3) scale(1,1.1)" font-size="6.9" text-anchor="middle" fill="#000" color="#000" >0.5</text>
<line x1="661.60" y1="187.80" x2="661.60" y2="189.80" stroke="#000" stroke-width="0.75" />
<text transform="translate(661.6,196.3) scale(1,1.1)" font-size="6.9" text-anchor="middle" fill="#000" color="#000" >1.0</text>
<text transform="translate(135.0,205.0) scale(1,1.1)" font-size="7" text-anchor="middle" fill="#000" color="#000" >ZFX</text>
<text transform="translate(358.4,205.0) scale(1,1.1)" font-size="7" text-anchor="middle" fill="#000" color="#000" >ZFY</text>
<text transform="translate(582.5,205.0) scale(1,1.1)" font-size="7" text-anchor="middle" fill="#000" color="#000" >ZFX+ZFY</text>
<text x="0" y="0" font-size="7" text-anchor="middle" transform="translate(22.2,104.2) rotate(-90)">SVOP</text>
<text x="0" y="0" font-size="7" text-anchor="middle" transform="translate(246.3,104.2) rotate(-90)">SVOP</text>
<text x="0" y="0" font-size="7" text-anchor="middle" transform="translate(469.8,104.2) rotate(-90)">SVOP</text>
<text transform="translate(147.8,35) scale(1,1.1)" font-size="6.3" fill="#0073C2" color="#0073C2" stroke-width="0.06"><tspan font-style="italic">R</tspan> = −0.58, <tspan font-style="italic">p</tspan> &lt; 2.2e−16</text>
<text transform="translate(147.8,43.3) scale(1,1.1)" font-size="6.3" fill="#EFC000" color="#EFC000" stroke-width="0.06"><tspan font-style="italic">R</tspan> = −0.64, <tspan font-style="italic">p</tspan> &lt; 2.2e−16</text>
<text transform="translate(326,35) scale(1,1.1)" font-size="6.3" fill="#0073C2" color="#0073C2" stroke-width="0.06"><tspan font-style="italic">R</tspan> = −0.051, <tspan font-style="italic">p</tspan> = 0.33</text>
<text transform="translate(326,43.3) scale(1,1.1)" font-size="6.3" fill="#EFC000" color="#EFC000" stroke-width="0.06"><tspan font-style="italic">R</tspan> = −0.082, <tspan font-style="italic">p</tspan> = 0.027</text>
<text transform="translate(596.2,35) scale(1,1.1)" font-size="6.3" fill="#0073C2" color="#0073C2" stroke-width="0.06"><tspan font-style="italic">R</tspan> = −0.61, <tspan font-style="italic">p</tspan> &lt; 2.2e−16</text>
<text transform="translate(596.2,43.3) scale(1,1.1)" font-size="6.3" fill="#EFC000" color="#EFC000" stroke-width="0.06"><tspan font-style="italic">R</tspan> = −0.64, <tspan font-style="italic">p</tspan> &lt; 2.2e−16</text>
<text x="230.6" y="11.4" font-size="7" text-anchor="start" fill="#000" color="#000" >Sex</text>
<rect x="246" y="3.1" width="10" height="9.8" fill="#0073C2" fill-opacity="0.4"/>
<line x1="246.60" y1="8.30" x2="255.40" y2="8.30" stroke="#0073C2" stroke-width="1.2" />
<circle cx="251" cy="8.3" r="1.7" fill="#0073C2"/>
<text transform="translate(259.4,10.6) scale(1,1.18)" font-size="5.8" text-anchor="start" fill="#000" color="#000" >MALE</text>
<rect x="278.8" y="3.1" width="10" height="9.8" fill="#EFC000" fill-opacity="0.4"/>
<line x1="279.40" y1="8.30" x2="288.20" y2="8.30" stroke="#EFC000" stroke-width="1.2" />
<circle cx="283.8" cy="8.3" r="1.7" fill="#EFC000"/>
<text transform="translate(292.4,10.6) scale(1,1.18)" font-size="5.8" text-anchor="start" fill="#000" color="#000" >FEMALE</text>
<text x="330.0" y="11.4" font-size="7" text-anchor="start" fill="#000" color="#000" >Diagnosis</text>
<circle cx="368.6" cy="8.2" r="1.45" fill="#000"/>
<text transform="translate(377.4,10.6) scale(1,1.18)" font-size="5.8" text-anchor="start" fill="#000" color="#000" >CONTROL</text>
<path d="M412.1 9.5l1.9-3.3l1.9 3.3z" fill="#000"/>
<text transform="translate(423.0,10.6) scale(1,1.18)" font-size="5.8" text-anchor="start" fill="#000" color="#000" >OTHER</text>
<rect x="450" y="6.8" width="2.8" height="2.8" fill="#000"/>
<text transform="translate(460.0,10.6) scale(1,1.18)" font-size="5.8" text-anchor="start" fill="#000" color="#000" >AD</text>
<text transform="translate(-1.0,20.8) scale(1,0.98)" font-size="24.5" text-anchor="start" fill="#000" color="#000" font-weight="bold">A</text>
<text transform="translate(0.6,239.7) scale(1,1.045)" font-size="22.0" text-anchor="start" fill="#000" color="#000" font-weight="bold">B</text>
<g stroke="#0073C2" stroke-width="0.8" fill="none"><line x1="57.77254545454545" y1="312.4" x2="57.77254545454545" y2="323.3"/><line x1="57.77254545454545" y1="331.9" x2="57.77254545454545" y2="344.0"/><rect x="50.0" y="323.3" width="15.596181818181815" height="8.6" fill="#fff"/><line x1="50.0" y1="326.9" x2="65.6" y2="326.9" stroke-width="0.9"/></g>
<path d="M56.9 312.4h0M60.1 344.0h0M59.4 324.1h0M56.2 322.1h0M59.1 325.2h0M59.4 326.9h0M60.0 320.9h0M56.6 323.9h0M57.6 326.5h0M57.7 326.7h0M57.4 339.9h0M57.2 328.5h0M56.0 327.5h0M57.7 333.1h0M58.0 326.3h0M56.7 330.3h0M56.8 323.1h0M56.7 330.2h0M56.6 331.7h0M58.8 334.2h0M58.3 339.6h0M56.1 334.6h0M57.8 325.7h0M57.9 328.1h0M57.3 333.7h0M56.7 332.9h0M58.9 328.1h0M55.2 324.9h0M57.9 330.6h0M57.7 342.6h0M57.6 332.6h0M57.5 331.6h0M55.7 325.0h0M60.4 323.5h0M58.6 322.5h0M59.7 326.7h0M59.3 328.2h0M58.7 332.8h0M56.0 330.4h0M58.5 322.8h0M58.4 325.2h0M57.2 323.0h0M56.8 336.2h0M58.7 326.2h0M55.3 331.5h0M55.6 326.4h0M55.8 332.7h0M59.1 327.6h0M56.9 325.5h0M58.8 330.3h0M55.4 329.7h0M58.1 330.3h0M56.4 326.7h0M56.1 326.2h0M57.2 326.6h0M55.9 323.7h0M55.9 323.2h0M57.3 332.7h0M55.9 328.8h0M56.9 328.2h0M59.5 303.6h0" stroke="#0073C2" stroke-width="2.5" stroke-linecap="round" fill="none"/>
<g stroke="#EFC000" stroke-width="0.8" fill="none"><line x1="74.9090909090909" y1="302.3" x2="74.9090909090909" y2="320.9"/><line x1="74.9090909090909" y1="333.3" x2="74.9090909090909" y2="351.9"/><rect x="67.1" y="320.9" width="15.596181818181815" height="12.4" fill="#fff"/><line x1="67.1" y1="326.5" x2="82.7" y2="326.5" stroke-width="0.9"/></g>
<path d="M77.3 302.0h0M74.9 353.0h0M76.7 324.9h0M73.4 330.7h0M72.4 321.0h0M76.8 320.5h0M76.3 311.3h0M75.7 319.0h0M73.2 348.7h0M74.2 338.3h0M75.0 333.4h0M75.5 307.8h0M73.8 314.4h0M76.1 326.5h0M74.7 310.9h0M76.4 308.0h0M77.5 316.9h0M74.6 334.4h0M75.6 335.6h0M74.7 333.0h0M76.0 330.9h0M72.6 339.4h0M75.5 331.4h0M74.7 328.6h0M75.4 342.5h0M72.8 340.5h0M74.0 321.5h0M72.9 314.7h0M76.9 322.5h0M74.8 330.1h0M74.4 322.8h0M76.5 327.3h0M76.9 312.1h0M73.6 320.8h0M75.8 321.8h0M72.5 335.5h0M75.4 322.3h0M73.8 330.1h0M73.8 337.8h0M74.5 322.9h0M75.5 332.2h0M73.6 341.4h0M73.8 317.5h0M77.4 335.3h0M76.6 330.5h0M72.7 316.2h0M73.6 321.1h0M75.1 315.0h0M73.3 342.4h0M76.5 337.3h0M73.1 320.6h0M73.2 334.2h0M76.0 325.8h0M73.5 319.3h0M76.2 322.5h0M73.2 329.6h0M72.8 333.3h0M76.9 333.5h0M76.7 338.6h0M74.0 321.2h0M75.5 344.2h0M77.2 342.0h0M76.8 330.0h0M76.0 330.4h0M76.7 324.9h0M72.3 311.4h0M75.2 333.3h0M73.8 334.3h0M75.0 314.6h0M74.9 332.6h0M77.4 322.0h0M76.0 310.4h0M75.9 329.8h0M75.2 310.7h0M73.0 315.0h0M75.7 332.9h0M72.8 313.9h0M77.4 328.7h0M72.4 324.4h0M75.6 323.2h0M76.1 333.2h0M73.1 323.2h0M77.2 318.6h0M75.6 325.2h0M75.0 340.2h0M76.7 346.1h0M74.7 327.3h0M76.3 327.5h0M72.5 306.1h0M76.3 344.2h0M72.8 335.8h0M77.2 331.5h0M72.9 314.4h0M76.1 331.0h0M75.5 338.8h0M73.4 304.3h0M77.1 323.5h0M73.2 327.1h0M74.1 331.8h0M76.5 329.6h0M73.4 322.2h0M73.8 325.6h0M72.9 312.1h0M73.4 322.4h0M74.4 310.6h0M74.3 324.1h0M73.8 327.1h0M74.9 331.0h0M74.5 320.6h0M74.4 327.9h0M74.6 322.5h0M76.5 340.8h0M74.1 352.7h0M75.2 323.6h0M72.9 326.6h0M74.5 310.3h0M77.4 309.3h0M76.5 350.4h0M77.0 329.8h0M76.4 324.3h0M75.6 322.5h0M75.4 328.1h0M75.8 323.3h0M76.4 322.8h0M72.6 320.9h0M76.5 326.0h0M76.9 340.0h0M74.9 330.7h0M75.7 332.0h0M76.9 312.7h0M76.8 339.3h0M74.1 315.3h0M76.5 324.1h0M77.0 339.3h0M75.4 324.2h0M74.0 314.6h0M75.8 321.2h0M77.2 329.7h0M76.8 335.4h0M74.9 317.4h0M76.2 326.1h0M74.7 326.6h0M76.5 321.4h0M74.1 333.5h0M73.0 310.4h0M72.3 331.1h0M74.2 342.2h0M75.7 335.0h0M73.2 342.5h0M76.4 306.7h0M74.5 334.5h0M73.9 324.0h0M74.7 322.5h0M76.6 324.0h0M76.3 327.3h0M76.6 324.4h0M73.4 306.1h0M73.2 327.8h0M74.3 323.8h0M73.1 333.3h0M75.5 329.4h0M75.5 318.7h0M76.8 321.2h0M77.0 318.5h0M75.4 320.2h0M73.0 323.3h0M75.6 322.8h0M74.1 307.7h0M76.1 322.4h0M73.5 319.0h0M76.3 324.8h0M76.0 324.7h0M72.5 324.1h0M75.1 314.5h0M76.9 315.2h0M74.3 330.0h0M74.9 320.9h0M76.5 325.6h0M76.0 322.6h0M76.6 324.0h0M77.4 327.0h0M73.9 344.6h0M76.5 317.9h0M75.8 336.1h0M74.8 332.4h0M73.7 321.9h0M72.7 317.9h0M74.6 313.2h0M72.8 335.3h0M73.7 324.8h0M75.5 325.0h0M74.2 328.1h0M76.0 331.2h0M73.1 323.7h0M73.8 309.3h0M75.2 333.0h0M73.7 333.5h0M76.3 314.8h0M76.8 324.5h0M76.4 332.9h0M73.8 321.2h0M74.4 328.0h0M75.7 323.3h0M77.4 330.4h0M75.0 322.5h0M75.7 328.4h0M72.7 315.9h0M75.7 331.3h0M75.5 338.4h0M75.7 345.4h0M74.1 335.8h0M73.5 342.8h0M76.5 324.1h0M75.9 320.3h0M73.2 343.5h0M73.3 330.7h0M75.9 332.7h0M74.0 319.0h0M72.4 334.1h0M77.4 339.8h0M75.7 319.7h0M73.5 315.8h0M75.9 330.9h0M72.7 331.9h0M75.0 326.3h0M76.1 329.5h0M73.7 321.7h0M77.1 333.7h0M75.0 337.2h0M73.9 307.2h0M74.1 322.0h0M75.3 325.5h0M74.9 320.8h0M75.9 324.5h0M76.7 331.0h0M77.4 335.0h0M76.2 323.2h0M75.1 342.0h0M74.7 344.8h0M74.6 321.2h0M74.0 305.1h0M76.4 342.4h0M72.8 331.2h0M73.7 331.4h0M76.5 326.1h0M73.3 327.5h0M74.7 330.4h0M74.4 324.4h0M72.5 327.4h0M73.5 322.1h0M75.7 334.9h0M76.3 331.3h0M74.5 332.0h0M74.8 339.3h0M75.5 350.2h0M73.0 323.0h0M75.8 326.9h0M76.5 330.9h0M76.5 324.1h0M74.1 314.4h0M74.1 328.0h0M75.0 329.2h0M74.2 318.1h0M75.0 322.4h0M77.1 322.6h0M74.8 308.7h0M72.3 328.6h0M74.1 322.5h0M72.8 330.3h0M73.8 329.8h0M75.3 336.2h0M72.8 330.5h0M77.0 339.6h0M72.9 342.8h0M74.2 323.2h0M76.8 337.9h0M75.5 315.5h0M76.6 318.1h0M75.2 325.6h0M76.2 336.3h0M77.4 320.0h0M77.4 321.6h0M73.5 321.8h0M74.9 335.5h0M74.3 310.3h0M76.5 316.4h0M77.5 328.4h0M72.9 324.8h0M75.9 322.0h0M75.5 321.0h0M77.1 329.7h0M74.4 327.0h0M74.9 335.6h0M76.1 324.2h0M72.4 326.0h0M76.5 328.7h0M73.0 323.4h0M74.3 340.0h0M75.0 333.6h0M75.6 317.7h0M74.4 325.4h0M73.2 339.3h0M72.5 317.6h0M75.2 320.4h0M74.8 331.0h0M72.3 324.2h0M74.0 339.7h0M74.3 335.3h0M75.8 336.3h0M74.4 330.6h0M76.6 328.8h0M73.3 322.3h0M76.7 333.4h0M72.4 329.4h0M77.1 324.1h0M75.3 318.9h0M75.0 318.2h0M75.4 326.9h0M76.4 338.6h0M75.3 327.0h0M73.3 328.6h0M73.4 349.0h0M75.0 358.0h0" stroke="#EFC000" stroke-width="2.5" stroke-linecap="round" fill="none"/>
<g stroke="#868686" stroke-width="0.8" fill="none"><line x1="92.04563636363636" y1="299.6" x2="92.04563636363636" y2="317.4"/><line x1="92.04563636363636" y1="331.9" x2="92.04563636363636" y2="350.0"/><rect x="84.2" y="317.4" width="15.596181818181815" height="14.5" fill="#fff"/><line x1="84.2" y1="324.3" x2="99.8" y2="324.3" stroke-width="0.9"/></g>
<path d="M89.6 299.6h0M92.4 350.0h0M92.6 315.6h0M92.2 323.4h0M89.8 343.2h0M91.2 332.9h0M91.3 321.7h0M89.7 327.9h0M90.4 312.1h0M90.2 306.8h0M94.4 315.1h0M90.6 322.0h0M93.4 334.4h0M89.6 335.2h0M89.6 317.4h0M92.3 324.8h0M90.0 340.3h0M91.5 320.0h0M92.7 325.6h0M89.9 313.5h0M93.9 324.3h0M90.1 313.2h0M94.4 347.5h0M89.9 328.0h0M90.3 326.6h0M93.5 331.0h0M90.0 332.9h0M93.8 304.4h0M91.1 308.9h0M91.5 313.4h0M91.3 324.0h0M92.8 316.9h0M93.6 321.1h0M94.0 310.3h0M89.8 321.4h0M92.4 323.5h0M92.5 340.2h0M90.2 314.8h0M92.2 339.9h0M93.4 322.3h0M92.4 307.7h0M89.9 317.2h0M92.4 301.7h0M91.3 336.8h0M89.7 327.0h0M94.4 325.3h0M94.3 302.9h0M89.5 316.3h0M92.0 320.0h0M91.4 342.5h0M89.6 336.7h0M91.9 319.1h0M89.7 321.0h0M93.1 324.0h0M90.0 323.3h0M92.3 312.7h0M92.2 327.3h0M93.0 322.4h0M91.0 318.7h0M91.3 319.3h0M93.4 333.6h0M93.6 324.3h0M92.9 327.5h0M91.8 319.9h0M93.7 309.6h0M94.1 331.7h0M93.3 335.4h0M94.4 310.0h0M91.3 335.8h0M93.0 338.7h0M90.5 311.9h0M92.8 323.2h0M94.1 313.1h0M93.1 322.9h0M90.2 326.1h0M91.0 319.1h0M90.8 319.2h0M92.0 335.9h0M91.3 324.3h0M93.0 318.9h0M92.3 331.1h0M92.1 309.5h0M91.4 323.8h0M94.0 322.9h0M93.7 321.2h0M94.2 325.6h0M93.5 322.5h0M93.6 329.4h0M91.0 333.5h0M91.7 329.0h0M91.9 335.2h0M89.7 325.9h0M93.1 320.3h0M92.9 310.8h0M91.2 310.9h0M89.5 331.9h0M93.0 327.7h0M93.9 337.0h0M94.0 334.6h0M94.6 320.5h0M93.3 301.6h0M92.5 321.6h0M91.5 327.7h0M90.8 323.8h0M94.1 328.1h0M92.8 321.8h0M94.0 304.5h0M93.4 318.3h0M89.5 312.7h0M93.4 321.5h0M90.8 338.7h0M89.9 324.0h0M93.2 329.2h0M93.6 321.8h0M91.3 323.5h0M90.2 333.8h0M89.5 320.5h0M92.3 324.1h0M90.6 308.8h0M92.3 313.2h0M90.2 341.9h0M93.4 313.2h0M91.5 347.3h0M89.6 336.4h0M90.5 321.6h0M91.8 313.7h0M89.9 324.7h0M92.3 310.6h0M92.6 321.9h0M89.5 330.2h0M90.8 316.1h0M90.1 322.7h0M90.9 327.1h0M94.6 342.2h0M90.4 323.1h0M93.8 306.6h0M93.5 326.3h0M92.2 312.8h0M94.2 323.5h0M93.4 321.6h0M94.4 335.3h0M90.6 328.2h0M91.6 301.5h0M91.0 339.3h0M92.0 329.7h0M92.8 320.4h0M92.1 333.4h0M94.3 333.1h0M93.0 303.9h0M91.8 334.0h0M89.5 344.5h0M94.6 344.7h0M94.6 323.2h0M90.6 337.4h0M91.2 323.6h0M92.9 332.4h0M93.1 317.6h0M92.8 300.0h0M94.2 337.2h0M89.6 329.7h0M89.7 320.6h0M89.7 323.6h0M90.5 341.4h0M90.2 329.3h0M91.1 312.6h0M90.2 346.4h0M92.4 324.9h0M90.9 325.1h0M89.5 316.3h0M93.3 320.4h0M92.8 328.5h0M90.8 333.1h0" stroke="#868686" stroke-width="2.5" stroke-linecap="round" fill="none"/>
<g stroke="#0073C2" stroke-width="0.8" fill="none"><line x1="121.95436363636364" y1="286.5" x2="121.95436363636364" y2="299.4"/><line x1="121.95436363636364" y1="308.0" x2="121.95436363636364" y2="320.9"/><rect x="114.2" y="299.4" width="15.596181818181815" height="8.6" fill="#fff"/><line x1="114.2" y1="303.6" x2="129.8" y2="303.6" stroke-width="0.9"/></g>
<path d="M120.5 281.6h0M122.1 321.0h0M121.1 302.2h0M119.8 313.6h0M122.4 304.8h0M120.9 301.7h0M124.2 309.1h0M121.7 302.2h0M122.2 301.3h0M120.7 311.8h0M121.9 296.4h0M120.7 291.8h0M120.1 296.6h0M119.8 318.5h0M123.4 302.8h0M121.2 295.1h0M121.9 295.3h0M123.7 318.2h0M119.4 290.6h0M122.8 298.7h0M119.9 302.8h0M120.0 310.5h0M120.5 288.3h0M122.5 303.5h0M122.9 310.0h0M123.4 302.8h0M122.9 305.2h0M120.3 305.1h0M124.5 305.1h0M119.5 303.0h0M120.1 288.3h0M124.0 292.3h0M121.0 297.5h0M121.9 300.1h0M124.0 297.9h0M123.5 308.4h0M121.6 304.6h0M119.7 289.3h0M119.8 312.6h0M122.9 303.3h0M123.7 304.9h0M123.8 306.6h0M124.4 306.0h0M120.6 309.1h0M120.2 297.1h0M123.6 303.9h0M124.3 302.5h0M123.4 300.7h0M123.2 302.5h0M123.7 294.5h0M123.6 298.1h0M120.6 293.4h0M119.6 306.7h0M122.4 301.1h0M122.8 311.1h0M123.5 306.7h0M120.2 304.0h0M120.9 297.2h0M119.8 306.6h0M120.0 298.0h0M120.2 254.4h0" stroke="#0073C2" stroke-width="2.5" stroke-linecap="round" fill="none"/>
<g stroke="#EFC000" stroke-width="0.8" fill="none"><line x1="139.0909090909091" y1="277.9" x2="139.0909090909091" y2="295.0"/><line x1="139.0909090909091" y1="306.4" x2="139.0909090909091" y2="323.5"/><rect x="131.3" y="295.0" width="15.596181818181815" height="11.4" fill="#fff"/><line x1="131.3" y1="300.4" x2="146.9" y2="300.4" stroke-width="0.9"/></g>
<path d="M137.8 268.6h0M141.1 330.0h0M138.3 290.4h0M137.9 311.5h0M139.8 293.9h0M139.7 307.5h0M139.3 296.8h0M141.0 307.5h0M141.6 296.4h0M138.0 308.2h0M141.1 283.0h0M141.5 292.2h0M141.3 303.2h0M139.6 323.0h0M138.0 295.6h0M138.7 299.9h0M139.4 290.5h0M137.8 298.9h0M138.0 295.3h0M140.1 298.9h0M140.0 299.5h0M137.9 294.1h0M137.3 308.3h0M138.0 299.2h0M141.5 288.0h0M140.5 305.7h0M141.4 295.9h0M139.3 285.9h0M138.4 305.6h0M140.4 311.2h0M140.0 301.8h0M138.4 299.6h0M138.6 307.5h0M137.1 304.7h0M141.3 295.9h0M138.8 298.0h0M138.7 296.9h0M139.2 296.0h0M140.7 314.9h0M138.7 288.7h0M140.9 301.0h0M140.2 315.1h0M139.0 303.6h0M140.6 298.9h0M140.0 305.8h0M136.8 294.3h0M138.2 308.8h0M139.8 301.1h0M139.3 297.0h0M140.5 301.6h0M138.6 296.4h0M138.1 303.7h0M140.8 304.7h0M136.9 296.1h0M138.9 314.2h0M141.3 299.7h0M141.4 297.8h0M140.0 292.8h0M141.5 296.7h0M138.8 317.2h0M141.4 304.1h0M140.4 306.9h0M141.3 297.2h0M137.5 300.9h0M140.8 287.7h0M138.9 307.4h0M140.5 294.5h0M139.9 316.9h0M137.6 292.7h0M140.5 301.8h0M137.8 328.8h0M139.8 296.6h0M140.6 299.3h0M137.0 289.8h0M141.2 297.4h0M140.9 321.1h0M139.5 317.6h0M138.1 308.0h0M139.6 297.7h0M137.5 307.9h0M139.5 281.5h0M140.5 293.7h0M137.9 295.7h0M139.2 284.8h0M139.4 297.0h0M137.2 288.3h0M137.5 306.2h0M139.9 271.0h0M138.1 289.4h0M138.3 299.0h0M139.3 305.8h0M140.3 308.1h0M138.4 305.1h0M136.9 293.8h0M136.8 305.3h0M138.1 321.0h0M137.7 300.4h0M137.0 302.5h0M137.0 301.9h0M138.1 306.5h0M140.1 297.3h0M141.3 279.0h0M137.3 301.0h0M141.4 298.6h0M140.1 310.1h0M138.3 298.6h0M139.5 292.9h0M139.6 300.6h0M139.7 296.1h0M140.7 304.4h0M139.8 291.5h0M139.6 303.5h0M141.2 310.7h0M138.6 293.4h0M137.3 303.2h0M137.1 288.4h0M139.9 297.1h0M139.1 298.2h0M138.5 298.8h0M138.8 298.5h0M139.6 305.6h0M138.8 299.4h0M137.0 299.5h0M140.0 325.4h0M138.2 294.1h0M138.5 301.8h0M141.5 274.9h0M138.1 309.4h0M140.9 282.5h0M139.6 290.7h0M137.0 302.8h0M138.5 299.1h0M139.4 284.4h0M137.1 288.5h0M137.4 300.6h0M137.5 303.2h0M138.3 282.7h0M141.5 302.7h0M136.6 294.9h0M137.6 298.2h0M137.0 287.4h0M137.2 298.2h0M137.1 302.2h0M138.9 302.9h0M138.5 317.4h0M139.8 291.6h0M137.4 297.0h0M136.8 296.7h0M139.5 301.8h0M139.5 308.0h0M138.5 307.1h0M139.1 304.6h0M139.0 304.8h0M140.0 299.2h0M136.5 284.0h0M139.9 297.0h0M139.6 303.2h0M138.7 303.9h0M138.3 301.4h0M138.8 311.2h0M137.7 306.1h0M140.9 296.3h0M138.8 324.1h0M140.0 305.6h0M139.5 305.8h0M141.4 299.5h0M137.3 320.1h0M138.0 302.4h0M137.2 294.0h0M140.3 314.1h0M139.5 292.9h0M141.2 301.7h0M138.0 311.8h0M137.5 320.1h0M140.3 295.9h0M139.7 287.6h0M140.3 302.0h0M138.6 300.6h0M139.0 290.0h0M137.7 301.9h0M138.1 300.8h0M137.6 293.2h0M139.7 310.8h0M141.6 306.9h0M136.5 300.5h0M140.1 309.6h0M141.2 309.1h0M141.3 310.2h0M140.9 299.8h0M138.3 288.5h0M141.4 294.7h0M140.2 294.0h0M139.9 296.8h0M140.6 302.3h0M136.7 290.3h0M139.3 310.6h0M140.7 317.1h0M139.4 305.8h0M137.6 303.4h0M138.9 306.7h0M138.4 296.7h0M138.5 313.0h0M137.6 293.6h0M138.0 306.1h0M140.8 296.7h0M139.9 308.3h0M140.7 291.5h0M141.2 310.7h0M140.4 293.8h0M141.2 310.8h0M140.3 313.6h0M137.8 306.7h0M138.1 304.6h0M141.4 286.8h0M138.7 293.4h0M140.0 295.1h0M139.8 286.0h0M140.7 305.4h0M137.4 308.5h0M139.6 310.5h0M138.5 321.2h0M139.3 307.3h0M137.8 299.2h0M139.3 297.0h0M140.7 309.2h0M141.6 315.3h0M137.7 302.5h0M136.7 305.4h0M137.7 294.1h0M139.0 304.4h0M138.7 304.7h0M138.7 305.3h0M137.1 310.9h0M138.0 298.6h0M141.4 300.5h0M140.1 311.9h0M139.8 308.0h0M138.8 296.3h0M140.2 279.4h0M139.2 295.8h0M138.7 305.9h0M139.8 295.8h0M141.6 302.6h0M139.1 318.2h0M139.3 298.2h0M137.8 309.8h0M137.9 287.4h0M138.9 306.7h0M140.7 303.4h0M137.8 314.9h0M141.1 310.1h0M141.1 296.1h0M139.2 297.0h0M138.4 289.3h0M136.7 295.7h0M136.8 299.6h0M138.4 307.4h0M137.6 306.5h0M141.7 300.5h0M137.1 284.5h0M140.9 293.1h0M137.4 305.9h0M139.2 298.5h0M140.9 310.7h0M140.9 311.8h0M138.8 291.2h0M138.3 312.0h0M140.6 297.0h0M137.3 282.4h0M138.2 308.1h0M136.9 305.0h0M138.9 302.5h0M138.7 302.6h0M138.2 300.6h0M138.5 286.2h0M141.3 313.7h0M137.3 306.9h0M139.9 295.8h0M139.6 313.0h0M140.8 304.5h0M137.7 303.9h0M137.6 284.4h0M139.3 302.5h0M138.0 295.2h0M141.6 284.0h0M140.1 302.0h0M137.7 302.9h0M137.5 302.7h0M136.6 305.8h0M139.0 314.1h0M138.6 317.7h0M137.9 300.0h0M138.8 293.0h0M137.2 295.7h0M139.6 295.4h0M137.2 307.4h0M139.6 277.5h0M140.7 301.3h0M140.6 292.6h0M137.4 299.6h0M141.1 295.5h0M140.9 288.9h0M140.2 303.2h0M139.1 294.8h0M139.0 282.3h0M138.9 302.8h0M139.8 306.4h0M138.8 294.8h0M137.3 294.3h0M138.2 298.8h0M137.5 295.7h0M139.0 299.1h0M140.9 294.4h0M137.7 315.2h0M141.5 309.8h0M137.9 313.3h0M136.5 300.2h0M139.3 306.3h0M137.0 293.0h0M136.5 310.0h0M137.4 310.2h0M136.8 316.7h0M137.4 314.7h0M137.7 306.4h0M140.7 301.4h0M139.9 299.8h0M140.3 297.6h0M140.4 299.0h0M138.4 292.3h0M138.9 305.5h0M139.3 301.0h0M140.8 294.4h0M139.5 302.4h0M139.0 295.3h0M138.7 300.4h0M140.0 292.9h0M140.7 315.2h0M141.5 307.4h0M141.7 301.5h0M139.1 272.7h0M137.9 295.6h0M137.5 298.8h0M137.5 297.8h0M138.2 305.1h0M140.1 301.2h0M139.4 311.4h0M136.5 312.5h0M140.4 312.8h0M136.7 296.3h0M139.7 317.2h0M141.3 300.3h0M137.3 303.3h0M139.2 301.2h0M141.0 281.4h0M140.5 308.3h0M137.9 302.7h0M137.5 312.5h0M141.5 301.3h0M139.1 300.6h0M139.4 299.5h0M136.6 298.1h0M136.5 303.7h0M140.7 295.7h0M139.6 290.4h0M140.6 299.8h0M137.5 292.7h0M139.2 297.2h0M140.0 310.3h0M139.4 296.8h0M139.0 302.1h0M138.1 311.4h0M138.9 286.6h0M138.0 300.6h0M140.1 310.7h0M138.6 304.7h0M139.4 314.4h0M137.5 313.6h0M137.9 312.0h0M137.5 282.5h0M139.0 312.8h0M139.2 274.7h0M139.2 302.7h0M139.4 298.7h0M138.0 302.2h0M138.7 302.2h0M139.1 303.7h0M139.4 280.8h0M138.7 300.4h0M137.0 295.9h0M137.1 304.8h0M141.5 302.1h0M138.9 302.1h0M140.7 299.0h0M137.6 301.9h0M140.5 300.6h0M139.3 280.9h0M137.4 282.1h0M137.3 295.6h0M139.9 305.0h0M139.0 293.9h0M141.3 301.2h0M139.5 305.0h0M140.7 314.4h0M136.7 305.4h0M139.8 296.4h0M141.5 299.4h0M138.4 314.5h0M139.3 303.1h0M141.7 291.5h0M138.9 297.1h0M136.7 297.9h0M138.0 301.9h0M140.9 305.3h0M139.3 305.4h0M139.6 301.5h0M137.0 307.6h0M139.8 285.9h0M139.2 276.1h0M141.4 295.2h0M140.2 289.3h0M141.3 314.2h0M136.7 307.5h0M140.7 288.9h0M136.9 309.2h0M137.8 299.8h0M139.4 306.2h0M136.8 299.3h0M137.4 290.9h0M141.2 278.2h0M137.7 306.5h0M139.5 301.2h0M140.7 296.9h0M139.7 300.5h0M136.6 293.8h0M141.2 300.2h0M137.8 302.1h0M140.8 302.7h0M136.8 271.6h0M139.9 285.5h0M136.6 319.1h0M139.7 298.5h0M140.4 275.3h0M136.9 297.4h0M138.8 297.9h0M137.5 283.2h0M139.0 310.4h0M139.5 314.8h0M140.7 288.7h0M139.4 310.4h0M136.7 301.6h0M139.1 296.0h0M136.8 290.2h0M139.8 304.5h0M140.7 307.5h0M138.0 300.1h0M139.2 279.5h0M137.9 297.4h0M138.5 297.5h0M140.2 303.3h0M138.5 299.4h0M139.3 295.4h0M139.0 307.9h0M140.0 300.0h0M139.2 303.8h0M141.3 288.8h0M139.8 318.9h0M140.8 307.0h0M138.7 305.8h0M139.3 303.4h0M141.0 295.7h0M141.1 300.4h0M139.7 307.6h0M141.4 294.8h0M140.1 301.1h0M138.8 307.7h0M141.6 299.9h0M138.7 297.4h0M139.3 311.1h0M139.8 310.2h0M138.2 304.9h0M140.2 297.9h0M138.3 300.6h0M141.7 334.0h0M141.2 345.4h0" stroke="#EFC000" stroke-width="2.5" stroke-linecap="round" fill="none"/>
<g stroke="#868686" stroke-width="0.8" fill="none"><line x1="156.22745454545455" y1="266.6" x2="156.22745454545455" y2="290.0"/><line x1="156.22745454545455" y1="305.6" x2="156.22745454545455" y2="326.0"/><rect x="148.4" y="290.0" width="15.596181818181815" height="15.6" fill="#fff"/><line x1="148.4" y1="298.0" x2="164.0" y2="298.0" stroke-width="0.9"/></g>
<path d="M155.2 255.0h0M157.2 326.0h0M153.7 293.3h0M155.2 303.0h0M155.0 281.8h0M158.0 290.3h0M156.5 267.0h0M158.5 298.0h0M156.6 284.9h0M154.0 293.4h0M154.8 289.1h0M157.8 301.2h0M155.4 322.0h0M155.8 268.0h0M158.0 306.4h0M154.4 304.0h0M157.0 289.4h0M156.0 302.3h0M156.8 305.0h0M157.9 297.3h0M157.9 301.4h0M154.8 277.8h0M153.7 301.1h0M158.3 281.0h0M154.8 294.7h0M156.3 309.1h0M158.7 311.1h0M154.6 307.5h0M154.2 298.9h0M157.6 302.8h0M158.4 314.3h0M156.6 280.1h0M153.7 302.0h0M158.2 304.3h0M157.7 300.0h0M157.5 310.4h0M155.6 272.7h0M156.4 280.9h0M156.9 291.4h0M153.8 291.7h0M158.2 288.6h0M158.5 286.1h0M153.7 300.7h0M156.7 283.6h0M154.9 295.4h0M156.2 293.4h0M157.0 306.6h0M158.1 294.4h0M157.5 307.6h0M153.9 308.7h0M154.0 311.2h0M155.1 316.9h0M153.7 294.2h0M153.9 281.4h0M158.8 297.1h0M153.9 291.4h0M158.0 287.0h0M154.2 288.4h0M156.0 274.2h0M154.0 288.8h0M153.7 281.0h0M155.5 302.0h0M156.9 289.0h0M156.7 299.1h0M154.5 279.8h0M155.9 297.4h0M158.3 298.1h0M157.1 276.5h0M156.7 317.4h0M154.9 298.9h0M156.6 307.8h0M157.6 299.4h0M156.1 263.6h0M156.4 299.9h0M155.5 314.0h0M156.6 298.4h0M154.0 309.0h0M157.0 282.1h0M157.9 292.0h0M155.5 296.4h0M155.9 296.0h0M155.0 275.2h0M154.3 295.6h0M153.8 300.3h0M154.0 298.7h0M158.1 286.7h0M157.4 300.1h0M158.0 290.5h0M154.2 310.0h0M157.9 306.0h0M158.3 313.7h0M157.6 298.3h0M154.3 297.6h0M157.6 303.1h0M154.3 290.1h0M158.0 304.9h0M154.1 297.4h0M154.3 293.8h0M158.2 306.4h0M154.3 315.5h0M154.4 310.2h0M158.3 285.4h0M157.3 292.8h0M156.6 309.8h0M156.3 313.4h0M156.5 303.2h0M156.7 292.0h0M158.6 309.8h0M155.6 289.7h0M153.7 285.4h0M153.7 287.6h0M158.2 284.2h0M154.8 307.8h0M156.7 303.3h0M155.5 300.9h0M158.2 287.2h0M158.8 299.6h0M153.7 293.8h0M158.4 304.8h0M155.1 283.5h0M156.5 307.8h0M156.0 301.5h0M154.1 276.6h0M154.0 314.3h0M156.1 282.9h0M157.0 296.5h0M158.1 303.6h0M155.6 296.0h0M153.7 290.1h0M156.5 315.1h0M156.9 294.0h0M154.6 289.4h0M154.6 298.7h0M155.0 299.9h0M158.5 312.0h0M158.3 287.8h0M156.6 264.0h0M156.1 307.7h0M153.9 269.0h0M157.3 294.6h0M157.3 304.4h0M156.6 292.0h0M157.7 301.8h0M155.9 298.5h0M154.5 299.7h0M153.6 303.5h0M154.7 297.2h0M157.3 304.0h0M156.1 288.1h0M153.8 283.5h0M158.3 294.4h0M155.1 305.1h0M157.7 272.9h0M156.9 275.2h0M153.7 295.9h0M157.4 289.3h0M155.7 303.9h0M154.4 304.7h0M153.7 299.6h0M156.0 284.5h0M158.7 285.2h0M155.7 299.2h0M158.2 279.8h0M157.3 298.1h0M157.7 303.0h0M155.6 287.0h0M154.0 312.5h0M158.3 293.4h0M158.5 296.4h0M153.6 315.3h0M158.7 282.5h0M157.5 296.5h0M154.2 294.2h0M156.0 306.6h0M157.9 283.1h0M155.1 297.4h0M153.7 285.0h0M156.6 301.6h0M154.3 294.4h0M154.0 299.3h0M156.2 294.9h0M154.5 303.6h0M154.5 288.0h0M155.2 284.4h0M156.4 287.1h0M157.6 313.0h0M155.7 323.8h0M157.4 281.3h0M153.7 295.1h0M156.0 287.3h0M155.0 291.6h0M157.8 318.7h0M156.6 316.0h0M156.1 318.4h0M158.7 325.3h0M155.4 296.0h0M157.3 286.7h0M155.3 304.8h0M157.4 314.1h0M155.5 301.3h0M155.4 308.4h0M154.7 305.8h0M155.8 275.1h0M155.1 285.5h0M156.8 290.3h0M156.0 298.6h0M157.1 290.3h0M155.1 293.0h0M157.1 295.2h0M157.3 296.3h0M158.6 301.9h0M158.6 293.7h0M157.8 315.5h0M155.3 293.6h0M157.8 292.8h0M156.4 308.0h0M154.1 298.3h0M154.0 299.4h0M157.5 299.2h0M154.4 290.1h0M154.1 289.3h0M156.3 310.0h0M157.2 295.9h0M155.3 293.4h0M154.5 281.4h0M155.4 299.7h0M154.7 285.6h0M154.6 301.6h0M156.7 301.1h0M157.6 282.1h0M158.3 315.1h0M158.8 296.2h0M153.9 305.7h0M156.7 294.9h0M158.3 287.1h0M155.1 295.8h0M156.6 299.7h0M155.1 299.3h0M155.1 303.9h0M154.1 311.2h0M158.4 301.6h0M157.3 319.6h0M156.8 310.2h0M158.0 299.3h0M154.8 303.5h0M158.2 311.0h0M154.6 295.3h0M155.6 297.0h0M154.8 289.7h0M153.6 303.9h0M155.6 292.4h0M155.0 311.9h0" stroke="#868686" stroke-width="2.5" stroke-linecap="round" fill="none"/>
<line x1="36.40" y1="237.60" x2="36.40" y2="363.75" stroke="#000" stroke-width="0.75" />
<line x1="36.05" y1="363.60" x2="177.60" y2="363.60" stroke="#000" stroke-width="0.9" />
<line x1="34.40" y1="350.60" x2="36.40" y2="350.60" stroke="#000" stroke-width="0.75" />
<text transform="translate(33.4,353.3) scale(1,1.1)" font-size="7.0" text-anchor="end" fill="#000" color="#000" >−1</text>
<line x1="34.40" y1="307.60" x2="36.40" y2="307.60" stroke="#000" stroke-width="0.75" />
<text transform="translate(33.4,310.3) scale(1,1.1)" font-size="7.0" text-anchor="end" fill="#000" color="#000" >0</text>
<line x1="34.40" y1="264.60" x2="36.40" y2="264.60" stroke="#000" stroke-width="0.75" />
<text transform="translate(33.4,267.3) scale(1,1.1)" font-size="7.0" text-anchor="end" fill="#000" color="#000" >1</text>
<line x1="74.91" y1="363.40" x2="74.91" y2="365.40" stroke="#000" stroke-width="0.75" />
<text transform="translate(74.9,371.9) scale(1,1.1)" font-size="6.9" text-anchor="middle" fill="#000" color="#000" >MALE</text>
<line x1="139.09" y1="363.40" x2="139.09" y2="365.40" stroke="#000" stroke-width="0.75" />
<text transform="translate(139.1,371.9) scale(1,1.1)" font-size="6.9" text-anchor="middle" fill="#000" color="#000" >FEMALE</text>
<text transform="translate(74.9,244.0) scale(1,1.1)" font-size="6.4" text-anchor="middle" fill="#000" color="#000" >p = 0.19</text>
<text transform="translate(139.1,244.0) scale(1,1.1)" font-size="6.4" text-anchor="middle" fill="#000" color="#000" >p = 4.5e−05</text>
<text x="107.0" y="380.0" font-size="7" text-anchor="middle" fill="#000" color="#000" >Sex</text>
<text x="0" y="0" font-size="7" text-anchor="middle" transform="translate(21.799999999999997,300.5) rotate(-90)">ZFX</text>
<g stroke="#0073C2" stroke-width="0.8" fill="none"><line x1="230.4340909090909" y1="256.4" x2="230.4340909090909" y2="268.0"/><line x1="230.4340909090909" y1="276.4" x2="230.4340909090909" y2="285.0"/><rect x="223.0" y="268.0" width="14.911363636363635" height="8.4" fill="#fff"/><line x1="223.0" y1="273.0" x2="237.9" y2="273.0" stroke-width="0.9"/></g>
<path d="M230.9 256.4h0M231.7 285.0h0M231.5 273.0h0M229.2 274.3h0M229.8 265.0h0M231.7 270.8h0M228.4 275.2h0M231.3 272.8h0M232.5 267.2h0M228.4 272.8h0M229.5 277.7h0M229.2 278.7h0M227.9 262.8h0M228.0 267.7h0M233.0 275.7h0M229.3 277.9h0M230.1 283.3h0M230.3 275.8h0M229.0 277.2h0M230.2 259.7h0M228.4 260.6h0M230.9 275.1h0M230.8 276.1h0M230.4 272.0h0M231.6 270.9h0M230.8 273.7h0M230.6 277.9h0M232.3 266.8h0M230.6 276.6h0M229.2 275.2h0M230.5 269.3h0M228.5 272.2h0M230.9 275.4h0M231.4 273.4h0M231.8 276.2h0M229.2 273.7h0M229.6 275.1h0M228.2 280.4h0M229.2 272.3h0M229.9 272.4h0M232.9 272.1h0M231.9 263.8h0M228.0 266.7h0M228.1 261.9h0M230.8 282.4h0M233.0 279.2h0M230.0 266.3h0M229.8 271.8h0M230.1 267.1h0M231.6 274.9h0M231.1 271.8h0M232.2 262.2h0M229.5 278.8h0M232.5 270.5h0M231.5 272.2h0M228.2 265.5h0M231.5 270.9h0M232.4 277.9h0M233.0 275.4h0M231.6 284.6h0M230.2 306.0h0" stroke="#0073C2" stroke-width="2.5" stroke-linecap="round" fill="none"/>
<g stroke="#EFC000" stroke-width="0.8" fill="none"><line x1="246.8181818181818" y1="251.0" x2="246.8181818181818" y2="268.4"/><line x1="246.8181818181818" y1="280.0" x2="246.8181818181818" y2="287.0"/><rect x="239.4" y="268.4" width="14.911363636363635" height="11.6" fill="#fff"/><line x1="239.4" y1="274.4" x2="254.3" y2="274.4" stroke-width="0.9"/></g>
<path d="M244.3 250.0h0M248.0 287.0h0M246.3 264.2h0M244.3 264.3h0M247.8 271.2h0M246.1 279.9h0M249.1 274.2h0M248.6 275.6h0M244.7 265.2h0M245.1 275.1h0M246.0 280.2h0M248.5 264.1h0M245.6 274.6h0M245.9 261.4h0M248.6 276.0h0M245.7 274.1h0M248.7 254.9h0M244.7 266.3h0M248.6 275.9h0M246.9 268.5h0M245.7 283.5h0M245.6 284.2h0M245.5 275.8h0M248.6 283.1h0M246.2 286.5h0M244.5 264.5h0M247.9 267.7h0M244.4 283.1h0M248.7 255.1h0M248.5 272.6h0M248.9 266.6h0M247.6 272.4h0M246.3 261.8h0M246.6 272.7h0M248.5 277.0h0M248.8 279.1h0M245.5 265.5h0M248.3 269.4h0M244.7 271.8h0M249.2 258.9h0M249.1 268.1h0M247.3 276.3h0M247.9 260.3h0M246.5 281.6h0M247.6 271.6h0M245.3 269.3h0M245.7 272.0h0M246.5 285.4h0M245.7 282.1h0M246.6 272.9h0M249.1 286.6h0M247.1 281.1h0M249.2 262.3h0M247.3 271.5h0M246.1 273.3h0M247.6 274.7h0M247.2 272.7h0M248.8 266.0h0M247.0 281.7h0M245.2 273.0h0M245.0 277.2h0M246.5 256.6h0M246.1 274.1h0M246.6 269.7h0M244.7 273.2h0M244.5 278.1h0M247.2 268.0h0M246.0 284.2h0M248.6 265.2h0M245.2 273.2h0M248.8 281.2h0M247.5 268.7h0M248.9 267.1h0M246.8 279.9h0M248.1 282.9h0M247.2 280.5h0M246.1 267.0h0M244.6 276.4h0M248.9 250.2h0M248.8 255.0h0M249.0 274.6h0M248.3 274.9h0M248.7 258.2h0M246.6 276.1h0M248.4 257.6h0M249.3 262.6h0M247.3 276.1h0M245.0 275.9h0M247.8 271.4h0M245.3 254.2h0M246.4 266.3h0M247.8 272.5h0M245.4 281.6h0M248.7 261.6h0M244.7 275.0h0M245.0 275.6h0M246.7 273.7h0M248.5 269.7h0M245.4 266.7h0M249.2 275.8h0M245.1 278.2h0M247.1 277.8h0M245.2 282.1h0M246.4 280.3h0M245.5 273.7h0M244.6 272.8h0M246.2 276.1h0M248.5 281.7h0M245.1 279.9h0M248.9 271.9h0M246.2 273.7h0M248.4 265.4h0M247.6 257.5h0M247.9 279.6h0M247.7 261.2h0M244.5 267.2h0M249.2 270.1h0M249.2 279.1h0M248.0 273.8h0M245.6 271.2h0M245.4 276.0h0M248.0 263.5h0M245.1 270.9h0M247.8 279.3h0M246.2 265.0h0M247.2 277.4h0M248.4 275.1h0M247.3 282.2h0M249.4 262.8h0M245.0 274.2h0M247.4 267.8h0M249.1 273.0h0M246.3 271.3h0M247.2 274.6h0M248.9 270.4h0M247.8 260.9h0M248.3 274.2h0M244.3 264.2h0M249.1 267.9h0M248.9 268.3h0M248.8 281.8h0M247.7 270.2h0M245.6 281.3h0M247.7 256.5h0M245.5 274.0h0M248.5 276.7h0M246.0 263.6h0M248.8 277.5h0M248.6 278.6h0M247.8 271.9h0M246.9 262.1h0M247.9 252.0h0M244.5 276.1h0M248.5 277.4h0M247.2 275.3h0M246.8 269.1h0M248.0 256.8h0M246.5 271.9h0M246.3 266.1h0M248.6 278.7h0M248.6 272.3h0M248.8 268.2h0M248.5 285.6h0M244.6 271.6h0M244.8 267.9h0M245.7 277.6h0M245.8 273.3h0M247.4 258.7h0M248.9 269.2h0M245.7 271.4h0M245.1 267.5h0M244.7 274.2h0M248.7 278.6h0M246.4 250.6h0M248.4 273.6h0M244.7 281.4h0M246.3 283.9h0M248.2 270.9h0M246.7 277.2h0M245.8 276.8h0M249.2 270.7h0M246.0 273.8h0M246.7 273.1h0M246.1 254.9h0M246.0 271.9h0M247.8 273.5h0M248.7 278.2h0M244.9 278.5h0M247.2 269.3h0M249.2 264.3h0M247.0 279.2h0M246.4 257.0h0M244.3 286.0h0M249.4 271.8h0M245.9 278.0h0M247.7 270.5h0M245.7 262.0h0M246.4 273.2h0M249.0 273.3h0M246.0 271.7h0M246.9 267.0h0M247.3 278.2h0M244.8 266.9h0M249.0 279.1h0M248.3 266.8h0M245.6 270.9h0M248.4 270.1h0M245.3 274.1h0M244.5 273.0h0M245.6 268.6h0M245.0 268.5h0M248.4 271.4h0M244.5 259.1h0M247.3 277.7h0M246.6 277.4h0M247.5 266.7h0M248.0 274.0h0M245.3 266.2h0M248.0 262.3h0M248.9 274.7h0M248.9 260.6h0M248.8 281.8h0M248.6 283.4h0M244.4 275.5h0M246.8 279.7h0M247.5 261.8h0M248.8 266.3h0M245.1 270.0h0M246.6 276.5h0M244.7 260.7h0M245.5 271.8h0M246.1 262.7h0M249.0 267.2h0M247.2 263.9h0M246.1 272.7h0M248.1 278.5h0M247.9 279.8h0M244.8 270.9h0M248.4 278.3h0M245.2 280.3h0M245.3 268.6h0M247.1 272.5h0M249.2 274.4h0M247.9 258.7h0M248.2 271.6h0M245.1 267.4h0M246.3 279.2h0M244.2 266.5h0M246.0 277.7h0M248.8 277.8h0M248.3 259.7h0M248.0 272.7h0M247.6 271.1h0M249.1 279.1h0M248.1 268.9h0M244.6 273.9h0M245.2 277.2h0M245.1 268.9h0M247.0 281.4h0M248.7 268.6h0M244.8 277.0h0M245.3 262.9h0M246.7 279.9h0M247.4 285.7h0M245.5 281.7h0M244.9 286.0h0M246.6 275.1h0M247.5 282.5h0M245.5 269.6h0M247.0 269.4h0M245.7 256.1h0M245.5 280.5h0M248.3 263.7h0M245.6 272.8h0M247.0 273.4h0M244.8 269.9h0M244.5 286.2h0M249.3 268.6h0M245.2 281.2h0M247.0 268.5h0M244.9 279.3h0M245.4 262.1h0M246.9 272.8h0M249.3 281.0h0M244.5 282.7h0M247.6 282.5h0M248.9 258.1h0M245.1 270.7h0M244.7 286.0h0M244.2 277.9h0M244.5 276.3h0M246.5 283.6h0M248.1 266.5h0M248.3 285.8h0M245.9 268.9h0M244.3 274.3h0M244.8 279.6h0M244.4 270.0h0M248.5 261.6h0M249.2 275.3h0M248.1 276.9h0M244.6 255.8h0M246.9 275.7h0M244.5 282.2h0M247.5 271.3h0M247.7 278.4h0M248.8 274.8h0M246.0 261.0h0M246.7 274.9h0M248.4 266.9h0M249.0 276.7h0M245.1 279.9h0M245.1 277.7h0M248.0 277.5h0M245.9 262.6h0M244.3 283.1h0M248.3 271.2h0M244.5 286.2h0M248.0 279.0h0M246.2 268.8h0M247.7 273.3h0M246.8 280.1h0" stroke="#EFC000" stroke-width="2.5" stroke-linecap="round" fill="none"/>
<g stroke="#868686" stroke-width="0.8" fill="none"><line x1="263.2022727272727" y1="253.6" x2="263.2022727272727" y2="265.6"/><line x1="263.2022727272727" y1="278.0" x2="263.2022727272727" y2="285.6"/><rect x="255.7" y="265.6" width="14.911363636363635" height="12.4" fill="#fff"/><line x1="255.7" y1="272.0" x2="270.7" y2="272.0" stroke-width="0.9"/></g>
<path d="M261.4 253.6h0M262.1 285.6h0M264.2 277.0h0M263.3 278.9h0M265.0 264.5h0M263.1 278.2h0M265.0 279.2h0M261.6 277.1h0M260.7 273.8h0M261.2 265.0h0M265.5 275.2h0M261.1 269.3h0M262.2 267.1h0M263.1 265.0h0M262.4 279.1h0M264.2 285.3h0M262.6 256.4h0M262.0 279.6h0M264.9 274.7h0M262.3 281.0h0M262.5 267.4h0M263.6 279.4h0M261.1 278.1h0M263.1 263.7h0M261.8 271.4h0M262.4 270.6h0M262.0 262.8h0M265.5 276.5h0M263.1 268.7h0M263.3 275.4h0M264.3 262.8h0M263.2 265.9h0M261.9 276.5h0M262.9 268.6h0M264.3 273.0h0M263.6 264.2h0M261.7 269.2h0M263.5 269.6h0M260.6 262.8h0M262.9 272.4h0M263.7 266.9h0M260.7 263.3h0M264.8 269.1h0M261.7 271.7h0M264.0 276.4h0M260.7 273.5h0M261.3 267.9h0M261.0 272.6h0M265.0 277.9h0M263.2 279.7h0M265.3 276.0h0M263.1 266.3h0M264.2 261.0h0M262.2 262.5h0M265.1 267.6h0M263.1 270.0h0M262.3 264.4h0M263.3 270.3h0M261.0 274.9h0M263.5 268.0h0M261.3 277.7h0M265.3 263.0h0M261.9 272.5h0M262.8 278.6h0M265.3 263.7h0M264.4 272.9h0M262.5 258.8h0M262.4 273.1h0M260.8 276.1h0M261.5 273.5h0M264.1 268.2h0M264.6 278.8h0M264.5 260.8h0M262.7 278.7h0M265.5 276.7h0M261.8 274.2h0M265.2 276.0h0M264.5 265.0h0M260.7 276.8h0M263.7 278.3h0M261.4 279.3h0M264.8 267.6h0M262.5 278.1h0M263.7 268.7h0M262.9 267.3h0M263.7 277.3h0M263.4 273.4h0M265.0 265.9h0M265.0 283.7h0M263.0 282.5h0M263.2 270.4h0M264.1 283.7h0M261.3 266.4h0M264.7 278.6h0M263.5 274.7h0M263.2 257.4h0M263.5 271.6h0M262.9 268.9h0M265.3 280.2h0M265.3 284.5h0M262.6 269.5h0M263.5 267.5h0M263.2 270.7h0M264.4 282.0h0M260.7 273.1h0M262.3 271.8h0M262.3 258.3h0M263.2 263.4h0M262.8 274.4h0M265.1 275.4h0M265.4 276.7h0M263.5 274.2h0M263.4 285.1h0M261.4 273.6h0M263.4 271.9h0M260.6 266.5h0M263.0 276.6h0M265.7 268.5h0M263.1 268.1h0M264.5 267.7h0M265.4 273.0h0M264.3 264.1h0M265.3 276.0h0M265.4 277.7h0M263.6 274.7h0M261.6 271.0h0M263.8 273.4h0M262.8 264.8h0M261.8 275.8h0M262.5 276.1h0M264.5 266.7h0M261.7 268.1h0M265.3 263.9h0M264.9 274.5h0M265.2 269.2h0M265.3 267.5h0M261.4 272.8h0M261.8 276.9h0M262.4 255.4h0M261.8 264.6h0M262.0 280.4h0M262.1 271.3h0M265.3 257.2h0M264.8 267.2h0M264.3 260.0h0M261.8 279.6h0M264.6 269.2h0M260.6 281.3h0M265.7 268.1h0M263.6 264.1h0M261.5 272.5h0M265.1 260.7h0M264.7 272.0h0M263.8 274.5h0M262.3 270.6h0M263.5 285.4h0M264.7 266.7h0M263.5 282.6h0M265.3 280.0h0M265.3 257.5h0M264.1 284.4h0M261.4 279.5h0M261.2 284.0h0M264.9 264.5h0M265.4 271.1h0M263.5 268.6h0M264.0 269.6h0M264.2 276.7h0M262.7 273.4h0M265.3 264.8h0M263.9 264.5h0M262.7 264.8h0M263.3 313.6h0" stroke="#868686" stroke-width="2.5" stroke-linecap="round" fill="none"/>
<g stroke="#0073C2" stroke-width="0.8" fill="none"><line x1="291.7977272727273" y1="317.6" x2="291.7977272727273" y2="332.0"/><line x1="291.7977272727273" y1="341.6" x2="291.7977272727273" y2="350.0"/><rect x="284.3" y="332.0" width="14.911363636363635" height="9.6" fill="#fff"/><line x1="284.3" y1="335.6" x2="299.3" y2="335.6" stroke-width="0.9"/></g>
<path d="M294.1 314.4h0M293.4 350.0h0M292.5 327.0h0M293.8 338.5h0M292.6 334.5h0M294.1 339.1h0M293.7 328.8h0M294.0 345.5h0M291.8 347.1h0M293.1 324.4h0M293.4 336.8h0M289.6 335.6h0M292.5 334.7h0M289.9 338.7h0M293.2 340.3h0M292.2 341.4h0M292.2 326.0h0M290.4 330.7h0M291.9 325.2h0M292.7 333.9h0M291.1 334.3h0M289.5 339.6h0M292.1 333.9h0M290.5 337.9h0M289.9 335.9h0M292.3 339.6h0M290.3 335.5h0M293.3 332.8h0M289.7 342.7h0M292.2 337.3h0M293.9 328.3h0M291.3 329.5h0M291.9 333.0h0M289.8 329.9h0M290.2 345.0h0M292.6 333.2h0M292.1 336.6h0M293.4 337.1h0M293.8 328.2h0M293.7 330.4h0M289.3 347.6h0M291.8 329.4h0M290.2 343.5h0M292.9 348.3h0M289.8 341.0h0M294.3 330.4h0M291.2 333.1h0M292.3 329.6h0M293.0 332.9h0M292.2 339.1h0M292.3 335.5h0M293.7 335.4h0M293.2 348.0h0M294.2 336.8h0M293.4 331.5h0M290.3 339.1h0M290.4 335.6h0M291.0 337.4h0M291.0 330.8h0M293.2 342.5h0" stroke="#0073C2" stroke-width="2.5" stroke-linecap="round" fill="none"/>
<g stroke="#EFC000" stroke-width="0.8" fill="none"><line x1="308.1818181818182" y1="318.0" x2="308.1818181818182" y2="330.6"/><line x1="308.1818181818182" y1="339.0" x2="308.1818181818182" y2="351.6"/><rect x="300.7" y="330.6" width="14.911363636363635" height="8.4" fill="#fff"/><line x1="300.7" y1="334.4" x2="315.6" y2="334.4" stroke-width="0.9"/></g>
<path d="M310.1 302.0h0M306.3 358.0h0M306.9 335.5h0M309.9 332.7h0M306.2 342.1h0M308.8 338.5h0M308.0 343.5h0M306.8 335.0h0M307.6 334.4h0M307.5 334.2h0M309.0 331.3h0M306.5 334.9h0M306.4 339.3h0M307.1 333.1h0M307.6 329.3h0M305.6 332.4h0M306.9 336.2h0M310.0 336.6h0M308.8 330.1h0M310.4 331.5h0M308.8 337.0h0M310.6 333.4h0M307.8 334.8h0M305.8 336.7h0M309.5 353.0h0M305.9 339.6h0M305.7 329.8h0M307.6 326.5h0M310.7 344.6h0M308.1 345.6h0M310.7 339.8h0M305.8 334.8h0M307.7 340.7h0M309.3 328.2h0M309.0 336.6h0M307.1 336.1h0M310.1 330.0h0M308.7 338.9h0M310.1 334.5h0M306.3 327.6h0M307.7 330.1h0M309.8 343.4h0M309.6 324.0h0M310.6 333.1h0M307.5 329.0h0M308.9 335.8h0M309.1 317.4h0M309.5 354.3h0M306.4 340.4h0M310.4 319.8h0M308.2 333.5h0M307.3 334.0h0M308.4 329.6h0M305.9 330.0h0M308.4 329.9h0M310.0 329.8h0M306.0 325.1h0M307.7 337.9h0M306.4 340.6h0M307.4 335.6h0M309.7 347.7h0M308.6 357.4h0M307.5 327.2h0M308.1 336.6h0M310.7 357.2h0M307.1 329.2h0M308.7 342.1h0M309.5 329.4h0M309.2 337.4h0M308.3 334.1h0M309.6 338.0h0M306.7 340.4h0M307.7 335.8h0M307.0 331.7h0M306.7 342.8h0M305.8 322.6h0M307.9 336.3h0M310.5 332.0h0M308.7 337.5h0M306.6 353.6h0M309.3 330.5h0M308.9 331.0h0M306.0 349.2h0M305.6 335.0h0M305.9 333.3h0M308.5 331.8h0M310.7 320.6h0M309.8 328.3h0M309.2 346.1h0M308.9 349.3h0M306.8 339.4h0M308.5 329.1h0M306.5 334.0h0M305.7 328.8h0M307.2 330.6h0M306.7 323.7h0M309.6 328.9h0M310.2 344.1h0M310.2 329.1h0M307.1 345.1h0M308.3 335.5h0M306.0 324.4h0M307.7 330.7h0M308.2 326.9h0M307.9 328.3h0M307.7 331.9h0M310.5 342.5h0M310.3 329.2h0M309.8 333.4h0M305.7 333.7h0M306.0 334.7h0M309.2 332.6h0M309.6 334.7h0M310.7 326.5h0M308.7 331.2h0M306.9 327.3h0M308.6 328.9h0M310.7 333.6h0M306.8 330.4h0M307.4 333.0h0M309.3 349.7h0M308.0 326.9h0M305.7 343.6h0M308.2 339.5h0M310.0 337.7h0M309.2 339.8h0M309.3 332.7h0M308.7 325.2h0M306.5 344.1h0M310.5 335.7h0M306.4 331.6h0M309.8 335.6h0M307.1 333.6h0M307.9 334.2h0M307.1 337.5h0M310.7 333.9h0M307.5 336.7h0M306.4 336.3h0M308.1 325.4h0M309.8 335.5h0M306.2 334.2h0M306.4 333.3h0M306.9 333.3h0M307.3 331.7h0M310.7 331.9h0M305.7 328.6h0M309.1 340.0h0M307.5 339.7h0M310.3 339.3h0M306.0 347.7h0M306.9 336.3h0M308.3 344.6h0M306.5 330.6h0M307.8 327.4h0M308.9 332.6h0M308.2 328.6h0M309.2 328.8h0M308.0 332.8h0M309.9 343.5h0M310.0 334.6h0M309.6 329.0h0M310.2 330.0h0M306.9 331.1h0M306.4 339.8h0M309.7 344.2h0M307.0 332.6h0M307.6 344.8h0M310.5 342.3h0M305.8 310.4h0M306.3 322.9h0M308.1 330.6h0M307.7 339.8h0M309.5 345.0h0M310.5 352.2h0M307.5 327.7h0M309.9 342.7h0M305.7 338.1h0M309.6 336.2h0M306.3 314.9h0M307.4 340.6h0M310.5 330.8h0M308.9 333.9h0M309.8 335.6h0M308.9 339.1h0M306.1 337.5h0M308.1 324.6h0M306.0 320.1h0M310.0 334.0h0M309.4 328.8h0M309.1 342.2h0M306.9 336.7h0M305.8 329.1h0M308.0 340.2h0M309.8 334.6h0M307.1 337.5h0M310.4 336.6h0M306.9 335.9h0M309.7 330.6h0M307.1 343.0h0M308.8 325.7h0M309.2 333.0h0M309.0 337.0h0M306.2 345.1h0M308.8 339.3h0M309.2 309.3h0M306.8 323.6h0M307.2 327.6h0M309.6 329.4h0M306.4 313.4h0M308.2 328.7h0M308.4 331.7h0M307.3 336.3h0M309.9 335.1h0M307.1 339.8h0M309.2 347.7h0M307.6 336.1h0M306.8 332.6h0M307.6 331.5h0M309.3 328.0h0M309.5 327.6h0M307.5 337.8h0M308.8 339.5h0M310.1 335.5h0M308.3 343.5h0M307.9 328.4h0M308.0 332.8h0M308.0 329.0h0M308.4 325.9h0M305.7 323.3h0M307.8 339.0h0M310.4 332.7h0M306.0 349.2h0M307.5 331.1h0M306.9 336.6h0M310.7 335.2h0M309.5 327.2h0M308.0 325.8h0M307.9 350.4h0M308.3 333.1h0M306.8 330.2h0M307.9 331.5h0M308.7 335.6h0M307.9 335.2h0M307.1 340.8h0M307.6 338.0h0M310.5 345.0h0M306.1 324.9h0M309.0 339.0h0M309.5 340.9h0M307.0 328.5h0M308.8 339.1h0M309.8 334.0h0M305.8 328.5h0M308.7 327.8h0M305.9 337.3h0M310.1 331.1h0M306.8 336.4h0M309.3 340.2h0M309.1 342.9h0M306.4 322.9h0M305.6 344.5h0M310.7 321.0h0M310.7 356.6h0M309.1 342.4h0M310.0 333.2h0M306.3 338.0h0M307.0 334.8h0M306.1 331.4h0M307.0 338.5h0M308.1 332.6h0M306.1 326.7h0M310.7 336.3h0M307.2 334.2h0M307.5 322.2h0M308.0 339.1h0M308.3 334.8h0M309.3 354.2h0M310.6 337.2h0M307.3 335.9h0M309.3 333.1h0M307.0 336.5h0M310.5 334.5h0M310.1 329.2h0M306.3 327.7h0M308.8 340.7h0M308.0 352.2h0M305.7 344.2h0M308.6 338.9h0M308.2 336.3h0M309.0 340.2h0M306.2 326.4h0M305.6 343.9h0M308.1 356.7h0M305.9 341.2h0M307.6 335.4h0M307.7 330.5h0M307.1 330.2h0M307.8 343.2h0M307.5 345.2h0M308.7 349.3h0M308.3 341.1h0M306.0 333.3h0M307.4 331.1h0M307.2 326.9h0M309.3 329.2h0M307.0 337.2h0M310.5 338.3h0M309.8 333.7h0M308.2 315.0h0M305.6 333.5h0M307.3 328.0h0M306.3 342.9h0M305.8 338.7h0M307.5 330.1h0M306.9 338.7h0M306.9 342.9h0M308.9 336.8h0M310.6 339.6h0M309.6 339.0h0M305.7 327.6h0M307.3 327.3h0M308.6 332.9h0M307.7 344.0h0M309.6 326.9h0M307.8 332.7h0M307.0 331.2h0M306.0 335.4h0M305.9 331.1h0M309.8 339.3h0M307.9 339.1h0M310.0 346.2h0M307.9 335.7h0M310.1 329.9h0M309.4 332.6h0M309.6 339.1h0M305.9 341.4h0M307.7 336.1h0M307.6 331.3h0M306.3 346.1h0M308.1 326.8h0M308.7 339.8h0M310.3 345.0h0M309.9 331.8h0M310.2 345.7h0M307.4 333.8h0M306.5 330.1h0M307.1 335.1h0M309.9 330.3h0M310.6 332.2h0M310.3 333.6h0M306.6 328.2h0M309.7 344.3h0M305.8 332.8h0M306.7 339.4h0M306.2 332.8h0M306.9 329.6h0M306.5 335.8h0M305.7 333.9h0M306.0 329.8h0M310.3 335.4h0M307.0 330.8h0M306.3 356.6h0M309.2 332.5h0M310.2 334.7h0M306.6 343.4h0M306.9 343.8h0M307.9 335.3h0M308.3 340.2h0M308.8 340.3h0M307.5 332.5h0M309.9 331.4h0M308.5 339.5h0M309.2 341.9h0M308.9 330.7h0M309.3 333.8h0M308.7 339.3h0M308.5 341.5h0M309.2 329.8h0M308.2 335.8h0M307.9 341.2h0M307.4 340.7h0M308.0 338.7h0M306.6 352.3h0M307.6 342.8h0M307.9 341.0h0M308.2 336.0h0M309.6 328.5h0M306.4 331.5h0M308.3 330.5h0M310.2 338.7h0M310.1 347.7h0M310.8 328.0h0M310.5 336.3h0M306.7 342.7h0M310.1 332.5h0M309.1 340.2h0M309.6 341.3h0M309.8 345.8h0M306.0 333.5h0M308.1 332.9h0M306.8 314.3h0M307.3 332.9h0M306.9 337.6h0M308.2 340.6h0M310.2 336.5h0M308.8 342.5h0M310.6 321.8h0M310.0 333.1h0M310.3 326.5h0M308.9 333.5h0M305.6 331.7h0M310.1 324.7h0M309.7 331.9h0M308.8 351.7h0M310.5 329.9h0M308.4 338.9h0M305.9 333.1h0M309.7 328.1h0M308.8 333.4h0M307.6 339.7h0M310.5 346.2h0M307.4 336.3h0M305.9 330.8h0M305.9 342.6h0M308.4 330.6h0M310.6 345.2h0M309.8 339.6h0M308.4 334.1h0M309.0 332.0h0M306.8 341.7h0M310.7 325.8h0M309.1 337.6h0M308.7 338.4h0M309.7 333.7h0M306.0 331.9h0M307.9 332.8h0M308.2 318.4h0M308.5 321.2h0M307.0 334.2h0M310.7 323.8h0M308.5 330.5h0M306.4 338.8h0M309.0 323.6h0M308.5 340.2h0M306.1 338.8h0M305.8 339.5h0M306.9 331.6h0M305.9 330.0h0M309.5 331.1h0M306.1 333.1h0M306.7 325.9h0M307.4 332.9h0M310.3 337.8h0M306.1 340.2h0M306.8 342.4h0M309.3 323.7h0M308.3 332.7h0M308.3 326.9h0M310.5 350.1h0M309.8 330.0h0M305.9 337.2h0M307.6 336.8h0M305.7 335.6h0M306.4 330.4h0M309.3 331.7h0M308.0 346.0h0M307.4 340.0h0M307.6 332.6h0M305.6 333.7h0M309.8 333.4h0M307.5 332.7h0M308.5 342.5h0M310.0 334.2h0M308.3 325.8h0M309.0 320.7h0M307.8 330.9h0M310.2 329.5h0M308.7 332.6h0M307.5 323.8h0M310.3 328.1h0M306.6 318.1h0M309.1 320.8h0" stroke="#EFC000" stroke-width="2.5" stroke-linecap="round" fill="none"/>
<g stroke="#868686" stroke-width="0.8" fill="none"><line x1="324.5659090909091" y1="319.0" x2="324.5659090909091" y2="331.0"/><line x1="324.5659090909091" y1="339.0" x2="324.5659090909091" y2="349.0"/><rect x="317.1" y="331.0" width="14.911363636363635" height="8.0" fill="#fff"/><line x1="317.1" y1="335.0" x2="332.0" y2="335.0" stroke-width="0.9"/></g>
<path d="M326.2 316.0h0M323.3 349.0h0M326.3 329.4h0M323.8 337.2h0M322.1 340.0h0M323.6 322.4h0M323.0 337.4h0M324.6 348.4h0M322.0 336.5h0M324.7 333.3h0M325.2 333.6h0M325.7 335.4h0M322.4 341.1h0M323.0 334.4h0M323.2 338.9h0M326.5 334.5h0M324.4 335.3h0M322.5 340.5h0M326.8 335.9h0M322.8 331.5h0M324.5 337.3h0M324.2 335.1h0M325.1 344.9h0M324.3 328.8h0M324.8 336.9h0M325.2 333.0h0M322.9 328.8h0M326.4 330.2h0M326.8 331.1h0M322.6 344.6h0M327.1 332.2h0M325.3 337.0h0M327.0 336.4h0M326.2 328.5h0M326.2 320.4h0M323.1 336.4h0M325.9 327.3h0M322.1 335.2h0M322.8 345.4h0M324.0 334.5h0M323.0 319.4h0M322.1 339.2h0M322.5 333.4h0M325.4 330.3h0M326.4 338.2h0M326.7 330.1h0M324.2 336.6h0M322.1 331.4h0M326.2 346.9h0M326.9 329.9h0M323.0 330.6h0M324.4 334.8h0M325.3 331.9h0M326.2 338.0h0M324.6 333.6h0M326.3 335.9h0M324.3 327.4h0M324.3 340.7h0M323.9 322.5h0M326.4 332.3h0M325.2 339.5h0M323.4 327.7h0M325.1 339.0h0M324.3 337.8h0M323.0 339.0h0M324.4 329.4h0M323.7 334.5h0M322.9 342.5h0M324.6 333.0h0M326.3 326.9h0M324.6 333.9h0M326.5 334.9h0M326.9 334.2h0M323.3 322.5h0M322.2 338.3h0M325.2 334.7h0M322.4 331.5h0M325.2 338.0h0M325.2 333.8h0M322.9 336.4h0M326.8 339.5h0M325.7 324.5h0M325.0 339.5h0M323.6 339.6h0M322.8 338.2h0M327.0 335.6h0M326.4 339.5h0M327.0 345.5h0M326.3 336.8h0M322.8 338.5h0M325.0 337.5h0M323.7 327.3h0M325.0 346.8h0M324.4 330.9h0M323.9 333.3h0M324.1 339.0h0M326.7 334.3h0M324.5 338.9h0M323.4 332.6h0M324.8 347.8h0M323.9 328.2h0M322.1 331.8h0M323.0 348.5h0M325.4 335.7h0M323.1 331.2h0M323.2 342.4h0M323.7 332.5h0M325.9 344.2h0M326.0 329.9h0M326.3 328.7h0M325.2 335.6h0M326.7 336.4h0M323.8 334.4h0M327.1 337.6h0M326.6 327.8h0M324.0 334.9h0M325.8 335.9h0M322.7 344.3h0M323.3 337.2h0M322.9 335.6h0M325.9 335.2h0M322.7 332.9h0M325.0 322.6h0M322.2 337.0h0M323.6 334.0h0M325.0 330.9h0M323.1 327.7h0M326.5 331.4h0M325.4 333.5h0M323.8 345.0h0M327.0 338.5h0M324.8 345.6h0M326.2 333.9h0M325.6 338.8h0M322.0 330.5h0M323.9 337.9h0M325.8 320.1h0M325.1 324.6h0M322.6 332.9h0M323.0 333.1h0M323.4 337.1h0M323.8 337.6h0M326.7 337.1h0M325.5 338.7h0M323.9 322.7h0M324.9 328.2h0M323.1 340.7h0M324.7 325.6h0M324.7 330.3h0M323.6 340.6h0M326.0 326.3h0M323.7 337.6h0M324.0 327.9h0M323.0 326.4h0M326.7 342.7h0M323.3 338.7h0M325.3 340.1h0M327.0 335.0h0M322.0 326.7h0M325.6 328.0h0M324.5 337.4h0M324.2 318.2h0M326.3 333.7h0M324.2 334.6h0M323.5 325.3h0M326.3 329.3h0M326.0 333.8h0M326.7 324.1h0M325.3 333.3h0M323.6 329.5h0M325.5 334.0h0M325.1 325.4h0M322.5 343.6h0M322.5 331.1h0M326.8 326.3h0M323.5 335.1h0M326.2 329.0h0M327.0 339.9h0M326.8 337.0h0M324.3 325.9h0M323.7 334.2h0M323.8 339.0h0M326.9 344.1h0M324.5 329.4h0M322.2 328.3h0M323.1 332.4h0M322.5 344.2h0M324.5 316.9h0M324.4 338.0h0M324.2 345.7h0M324.8 345.2h0M323.4 337.2h0M322.6 334.7h0M325.8 329.0h0M322.3 338.0h0M322.9 336.5h0M325.7 337.8h0M323.5 334.4h0M327.0 330.0h0M322.1 338.9h0M325.1 329.4h0M323.6 331.1h0M324.4 344.5h0M326.7 328.1h0M325.3 331.8h0M325.3 318.1h0M324.6 343.5h0M325.2 329.8h0M322.6 330.6h0M325.9 345.1h0M324.9 338.1h0M327.0 333.5h0M323.9 338.1h0M323.4 345.7h0M323.6 344.4h0M323.0 341.6h0M324.7 340.1h0M322.1 336.6h0M325.2 336.2h0M324.9 344.3h0M323.4 346.9h0M326.8 329.0h0M324.2 334.6h0M325.4 343.3h0M326.8 335.3h0M325.8 333.5h0M324.3 335.5h0M324.7 335.4h0M324.5 334.0h0M323.9 333.8h0M327.2 330.0h0M324.0 341.1h0M327.1 326.3h0M327.0 335.0h0M324.0 332.5h0M322.3 331.7h0M326.4 329.6h0M324.5 340.3h0M323.4 327.2h0M325.3 327.8h0M324.6 333.0h0M326.9 323.5h0M325.6 336.7h0M325.5 340.7h0M322.3 334.9h0M326.1 331.8h0M322.6 337.8h0M323.2 343.2h0M325.4 331.9h0M323.0 338.6h0M325.9 336.6h0M324.2 318.6h0" stroke="#868686" stroke-width="2.5" stroke-linecap="round" fill="none"/>
<line x1="210.00" y1="237.60" x2="210.00" y2="363.75" stroke="#000" stroke-width="0.75" />
<line x1="209.65" y1="363.60" x2="345.00" y2="363.60" stroke="#000" stroke-width="0.9" />
<line x1="208.00" y1="338.60" x2="210.00" y2="338.60" stroke="#000" stroke-width="0.75" />
<text transform="translate(207.0,341.3) scale(1,1.1)" font-size="7.0" text-anchor="end" fill="#000" color="#000" >−2.5</text>
<line x1="208.00" y1="313.60" x2="210.00" y2="313.60" stroke="#000" stroke-width="0.75" />
<text transform="translate(207.0,316.3) scale(1,1.1)" font-size="7.0" text-anchor="end" fill="#000" color="#000" >0.0</text>
<line x1="208.00" y1="288.60" x2="210.00" y2="288.60" stroke="#000" stroke-width="0.75" />
<text transform="translate(207.0,291.3) scale(1,1.1)" font-size="7.0" text-anchor="end" fill="#000" color="#000" >2.5</text>
<line x1="208.00" y1="263.60" x2="210.00" y2="263.60" stroke="#000" stroke-width="0.75" />
<text transform="translate(207.0,266.3) scale(1,1.1)" font-size="7.0" text-anchor="end" fill="#000" color="#000" >5.0</text>
<line x1="208.00" y1="238.60" x2="210.00" y2="238.60" stroke="#000" stroke-width="0.75" />
<text transform="translate(207.0,241.3) scale(1,1.1)" font-size="7.0" text-anchor="end" fill="#000" color="#000" >7.5</text>
<line x1="246.82" y1="363.40" x2="246.82" y2="365.40" stroke="#000" stroke-width="0.75" />
<text transform="translate(246.8,371.9) scale(1,1.1)" font-size="6.9" text-anchor="middle" fill="#000" color="#000" >MALE</text>
<line x1="308.18" y1="363.40" x2="308.18" y2="365.40" stroke="#000" stroke-width="0.75" />
<text transform="translate(308.2,371.9) scale(1,1.1)" font-size="6.9" text-anchor="middle" fill="#000" color="#000" >FEMALE</text>
<text transform="translate(246.8,244.0) scale(1,1.1)" font-size="6.4" text-anchor="middle" fill="#000" color="#000" >p = 0.31</text>
<text transform="translate(308.2,244.0) scale(1,1.1)" font-size="6.4" text-anchor="middle" fill="#000" color="#000" >p = 0.33</text>
<text x="277.5" y="380.0" font-size="7" text-anchor="middle" fill="#000" color="#000" >Sex</text>
<text x="0" y="0" font-size="7" text-anchor="middle" transform="translate(189,300.5) rotate(-90)">ZFY</text>
<g stroke="#0073C2" stroke-width="0.8" fill="none"><line x1="398.5249090909091" y1="301.0" x2="398.5249090909091" y2="312.0"/><line x1="398.5249090909091" y1="323.0" x2="398.5249090909091" y2="334.4"/><rect x="391.0" y="312.0" width="14.977636363636364" height="11.0" fill="#fff"/><line x1="391.0" y1="318.0" x2="406.0" y2="318.0" stroke-width="0.9"/></g>
<path d="M397.3 301.0h0M396.9 334.4h0M396.6 322.6h0M399.4 311.1h0M400.0 333.3h0M396.9 330.1h0M398.1 303.0h0M396.6 316.7h0M400.8 318.3h0M400.5 330.5h0M398.6 312.1h0M398.1 318.4h0M395.9 320.6h0M400.8 315.5h0M397.9 310.2h0M399.0 310.0h0M400.6 313.4h0M396.7 316.7h0M398.4 312.3h0M396.2 318.0h0M398.7 326.2h0M397.1 313.3h0M396.4 303.9h0M397.0 314.6h0M397.3 316.1h0M398.9 316.6h0M399.7 315.3h0M400.9 315.2h0M400.1 307.3h0M397.5 325.2h0M397.6 321.4h0M399.8 310.7h0M398.7 304.9h0M399.8 312.8h0M399.7 316.3h0M399.3 305.0h0M399.9 304.8h0M396.3 319.5h0M399.1 303.3h0M398.5 314.5h0M399.1 309.3h0M399.9 306.7h0M400.4 317.7h0M397.8 317.0h0M397.1 313.4h0M401.0 318.1h0M398.8 303.3h0M398.7 316.0h0M396.3 321.4h0M397.3 314.0h0M397.1 315.7h0M398.7 317.6h0M398.9 324.8h0M398.0 318.2h0M399.0 316.2h0M400.0 315.5h0M398.3 324.5h0M396.5 325.7h0M399.3 310.7h0M397.3 313.8h0M400.4 293.6h0" stroke="#0073C2" stroke-width="2.5" stroke-linecap="round" fill="none"/>
<g stroke="#EFC000" stroke-width="0.8" fill="none"><line x1="414.9818181818182" y1="296.0" x2="414.9818181818182" y2="311.0"/><line x1="414.9818181818182" y1="323.6" x2="414.9818181818182" y2="342.0"/><rect x="407.5" y="311.0" width="14.977636363636364" height="12.6" fill="#fff"/><line x1="407.5" y1="317.0" x2="422.5" y2="317.0" stroke-width="0.9"/></g>
<path d="M413.3 296.0h0M414.8 342.0h0M412.4 309.1h0M416.7 310.2h0M414.4 320.1h0M413.7 318.5h0M415.1 310.3h0M413.2 323.6h0M413.0 324.1h0M417.3 322.6h0M414.2 321.4h0M415.3 309.8h0M416.9 316.1h0M413.2 322.0h0M413.0 321.3h0M414.4 331.2h0M416.3 305.4h0M415.2 322.7h0M414.4 312.8h0M413.7 317.0h0M415.8 323.8h0M413.9 320.5h0M417.4 321.7h0M415.6 313.6h0M416.5 330.3h0M416.4 323.6h0M417.3 300.0h0M412.9 326.4h0M414.5 316.4h0M414.2 313.3h0M416.6 319.6h0M417.3 316.2h0M416.4 322.3h0M415.5 314.8h0M416.4 327.0h0M413.4 312.2h0M414.0 309.5h0M412.8 308.8h0M417.2 300.4h0M412.4 320.6h0M412.6 302.0h0M417.1 315.2h0M414.6 315.6h0M416.7 315.4h0M417.5 304.4h0M415.3 332.1h0M413.8 305.5h0M412.5 314.1h0M414.2 314.0h0M415.9 326.4h0M415.5 310.6h0M413.2 310.5h0M416.5 338.8h0M417.1 319.8h0M412.6 315.6h0M416.6 301.3h0M416.3 314.7h0M417.5 302.5h0M417.0 301.4h0M416.7 322.1h0M417.2 319.3h0M416.7 310.3h0M414.0 334.3h0M415.5 322.7h0M414.9 335.9h0M412.5 320.0h0M416.4 326.6h0M414.5 316.6h0M414.3 314.0h0M416.2 317.5h0M415.2 325.4h0M413.9 320.3h0M415.5 329.1h0M414.0 316.6h0M417.2 314.9h0M417.6 303.9h0M414.9 312.6h0M415.7 314.5h0M414.4 321.1h0M413.1 326.5h0M415.9 309.1h0M417.4 318.5h0M413.9 308.3h0M414.3 326.9h0M415.6 316.5h0M416.2 324.3h0M413.0 315.0h0M416.7 321.5h0M415.5 325.4h0M417.5 317.8h0M414.7 308.5h0M417.5 300.5h0M413.6 313.5h0M414.8 307.3h0M415.9 311.0h0M413.7 304.7h0M417.0 322.1h0M416.0 312.0h0M412.5 304.0h0M414.8 323.8h0M415.8 317.1h0M414.9 332.2h0M414.7 322.6h0M415.6 301.1h0M414.2 314.7h0M416.6 315.7h0M415.2 320.3h0M412.9 314.8h0M414.3 328.6h0M413.1 299.1h0M415.1 316.9h0M413.9 310.5h0M414.4 309.3h0M413.2 327.2h0M415.7 323.4h0M414.9 306.3h0M413.6 320.0h0M416.9 312.8h0M413.0 313.7h0M414.1 317.1h0M417.5 317.3h0M416.5 312.6h0M415.9 307.6h0M412.8 322.5h0M417.4 310.7h0M412.4 334.0h0M413.9 315.6h0M413.0 310.0h0M416.8 298.3h0M412.7 327.9h0M415.6 318.7h0M417.2 310.7h0M415.6 320.9h0M415.7 310.1h0M413.8 315.0h0M416.2 316.4h0M415.6 320.3h0M416.5 319.0h0M412.7 314.5h0M413.9 331.7h0M417.4 311.1h0M416.1 331.6h0M413.2 319.4h0M414.0 316.4h0M417.3 321.5h0M417.5 337.5h0M413.7 306.9h0M412.9 312.0h0M416.0 336.9h0M414.6 324.9h0M412.7 328.3h0M414.5 321.4h0M414.9 310.2h0M414.9 322.1h0M415.3 312.8h0M415.1 320.3h0M414.5 315.7h0M414.0 315.5h0M414.0 309.8h0M415.7 317.6h0M412.9 314.0h0M414.2 318.7h0M412.7 312.6h0M415.8 318.5h0M415.1 330.3h0M417.4 318.8h0M414.6 303.8h0M416.0 325.6h0M415.5 328.9h0M415.8 323.6h0M412.5 314.8h0M414.6 317.2h0M416.0 330.7h0M417.3 296.3h0M416.1 328.3h0M414.4 315.5h0M413.6 339.8h0M415.9 322.5h0M416.2 325.5h0M412.8 321.1h0M413.4 314.0h0M416.9 314.8h0M416.8 324.2h0M413.3 305.3h0M417.4 305.9h0M414.7 303.4h0M415.8 311.8h0M413.3 309.9h0M413.9 338.3h0M413.0 308.2h0M412.5 306.7h0M415.5 325.5h0M414.8 311.2h0M413.9 314.7h0M414.0 310.4h0M416.5 318.5h0M414.4 315.6h0M415.5 320.1h0M416.7 328.9h0M413.7 320.9h0M417.1 320.2h0M417.5 309.2h0M415.5 319.5h0M417.1 316.9h0M413.8 314.3h0M414.6 315.3h0M413.3 341.4h0M413.3 321.8h0M417.4 322.9h0M416.3 321.8h0M413.2 336.1h0M415.1 320.5h0M415.1 316.0h0M417.3 319.0h0M413.5 315.6h0M415.3 311.1h0M412.7 305.2h0M416.8 312.6h0M413.5 313.1h0M416.7 316.3h0M412.7 308.4h0M416.7 320.5h0M413.0 336.1h0M416.8 312.8h0M416.8 323.7h0M416.4 311.9h0M414.6 313.9h0M416.0 320.1h0M415.7 315.6h0M417.3 311.1h0M415.7 320.8h0M416.7 324.4h0M415.3 319.9h0M415.4 309.6h0M412.6 321.4h0M412.7 324.6h0M416.2 299.3h0M413.9 314.0h0M414.9 311.5h0M414.2 320.5h0M415.4 310.0h0M413.3 302.9h0M414.1 310.9h0M416.4 322.8h0M416.3 321.9h0M412.8 313.2h0M413.2 307.6h0M417.6 309.8h0M414.4 303.3h0M417.4 297.4h0M412.6 299.8h0M413.3 315.2h0M415.8 325.4h0M416.1 308.5h0M413.2 306.9h0M416.3 305.9h0M414.1 329.6h0M412.4 316.1h0M415.3 305.2h0M412.5 322.0h0M412.8 326.0h0M416.6 299.9h0M417.2 319.8h0M414.3 321.9h0M416.9 303.3h0M413.0 317.9h0M412.9 310.4h0M414.5 311.2h0M412.8 315.4h0M412.8 319.9h0M415.1 308.4h0M414.3 318.5h0M415.5 298.2h0M416.4 316.7h0M414.8 318.7h0M413.7 329.4h0M416.1 327.8h0M415.9 323.6h0M414.8 317.5h0M415.5 310.0h0M413.6 318.2h0M415.1 328.8h0M415.5 303.7h0M414.3 326.0h0M414.5 300.8h0M412.5 308.8h0M413.7 312.8h0M415.8 326.3h0M413.8 325.0h0M414.4 315.3h0M413.7 302.3h0M413.8 315.9h0M412.6 314.1h0M415.1 318.4h0M413.6 319.2h0M417.5 314.1h0M413.3 308.1h0M417.0 323.9h0M413.0 325.4h0M414.2 313.4h0M412.4 318.9h0M413.5 322.2h0M415.5 304.9h0M417.4 300.7h0M415.4 326.9h0M416.9 325.6h0M415.1 319.5h0M417.1 332.3h0M413.9 320.0h0M414.3 314.5h0M417.3 307.4h0M413.9 321.3h0M412.6 314.6h0M413.0 318.4h0M414.1 318.3h0M415.6 325.0h0M416.8 299.9h0M415.3 319.3h0M413.1 307.4h0M412.5 334.9h0M417.6 312.5h0M415.2 325.8h0M415.5 284.6h0" stroke="#EFC000" stroke-width="2.5" stroke-linecap="round" fill="none"/>
<g stroke="#868686" stroke-width="0.8" fill="none"><line x1="431.4387272727273" y1="293.0" x2="431.4387272727273" y2="308.4"/><line x1="431.4387272727273" y1="321.0" x2="431.4387272727273" y2="337.6"/><rect x="423.9" y="308.4" width="14.977636363636364" height="12.6" fill="#fff"/><line x1="423.9" y1="314.4" x2="438.9" y2="314.4" stroke-width="0.9"/></g>
<path d="M433.1 293.0h0M429.9 337.6h0M431.4 313.9h0M433.9 320.6h0M431.0 302.7h0M432.6 316.6h0M432.9 315.0h0M431.1 323.6h0M430.4 298.7h0M429.0 320.3h0M433.7 297.3h0M430.9 315.3h0M432.7 312.6h0M431.0 301.1h0M431.0 294.7h0M429.1 302.7h0M430.6 324.3h0M429.9 320.2h0M432.2 307.0h0M433.9 299.7h0M432.1 311.7h0M429.1 331.0h0M430.9 306.0h0M429.2 326.8h0M433.7 314.2h0M431.6 311.6h0M432.3 311.4h0M431.8 310.9h0M432.9 319.5h0M431.7 337.0h0M429.1 315.8h0M433.8 314.1h0M431.5 307.5h0M429.7 335.9h0M431.6 318.1h0M429.7 316.5h0M431.1 311.2h0M432.5 299.8h0M429.8 305.4h0M431.4 308.4h0M433.7 313.5h0M431.8 298.6h0M430.9 306.3h0M431.8 314.0h0M433.6 324.2h0M431.3 328.5h0M430.4 305.6h0M430.4 322.3h0M433.0 312.9h0M431.7 313.0h0M431.5 305.6h0M429.3 326.6h0M429.7 307.0h0M430.5 306.2h0M428.9 305.4h0M433.0 322.5h0M430.4 314.3h0M430.0 312.6h0M429.4 307.6h0M433.7 319.7h0M432.0 314.4h0M430.6 302.5h0M430.5 298.3h0M430.1 303.2h0M431.2 317.0h0M430.5 321.3h0M433.0 322.1h0M432.6 314.7h0M431.8 321.6h0M432.5 319.4h0M429.7 324.1h0M429.2 311.5h0M429.7 323.6h0M429.3 294.7h0M429.6 312.9h0M431.5 319.9h0M431.8 299.8h0M433.2 330.9h0M432.1 304.4h0M432.2 317.3h0M432.0 313.9h0M430.6 318.5h0M430.5 311.0h0M429.4 324.4h0M430.4 313.8h0M430.3 314.8h0M430.4 321.4h0M433.3 314.1h0M429.8 326.5h0M430.7 304.2h0M432.7 306.4h0M433.7 313.6h0M429.6 330.1h0M429.4 312.9h0M431.5 315.7h0M431.8 313.1h0M432.3 311.2h0M429.7 334.0h0M429.9 313.1h0M432.8 311.4h0M432.3 323.3h0M433.3 319.6h0M430.7 309.4h0M432.0 309.0h0M434.0 313.3h0M433.8 312.2h0M431.7 324.6h0M430.3 310.2h0M430.1 321.9h0M431.1 294.2h0M432.5 311.3h0M434.0 305.1h0M430.9 311.9h0M432.4 328.5h0M429.3 307.8h0M431.6 321.9h0M431.2 326.5h0M432.8 303.1h0M432.1 321.8h0M431.3 295.2h0M432.3 304.7h0M430.0 308.1h0M429.7 309.4h0M429.4 317.1h0M431.4 325.4h0M431.1 317.3h0M431.2 309.3h0M432.8 331.2h0M431.0 312.9h0M430.8 302.0h0M429.9 316.7h0M431.6 311.0h0M430.1 315.9h0M432.0 315.1h0M433.3 298.3h0M433.5 323.3h0M431.7 306.6h0M430.3 300.6h0M433.1 293.7h0M433.0 318.6h0M433.9 317.2h0M430.2 298.8h0M429.2 317.5h0M430.0 309.2h0M430.8 321.0h0M431.8 320.4h0M431.0 316.7h0M430.3 327.4h0M432.4 321.6h0M429.5 309.1h0M433.2 322.6h0M430.1 325.9h0M433.8 324.0h0M431.3 322.9h0M429.0 319.5h0M432.2 311.3h0M429.7 322.2h0M430.2 309.1h0M431.5 318.1h0M432.0 307.3h0M430.6 322.5h0M432.8 311.4h0M431.0 315.9h0M433.4 293.2h0M433.9 303.0h0M433.6 298.0h0M434.0 313.3h0M432.8 308.8h0M428.9 324.6h0M432.7 310.2h0M433.3 332.1h0M432.6 311.1h0" stroke="#868686" stroke-width="2.5" stroke-linecap="round" fill="none"/>
<g stroke="#0073C2" stroke-width="0.8" fill="none"><line x1="460.1612727272727" y1="294.0" x2="460.1612727272727" y2="309.0"/><line x1="460.1612727272727" y1="319.0" x2="460.1612727272727" y2="331.0"/><rect x="452.7" y="309.0" width="14.977636363636364" height="10.0" fill="#fff"/><line x1="452.7" y1="314.0" x2="467.7" y2="314.0" stroke-width="0.9"/></g>
<path d="M458.5 291.0h0M457.8 331.0h0M461.3 316.5h0M462.0 315.0h0M461.5 315.9h0M461.9 306.6h0M461.6 317.4h0M461.6 318.5h0M458.7 305.1h0M459.3 321.6h0M458.4 313.4h0M458.2 312.8h0M459.6 313.2h0M462.5 317.2h0M460.7 295.3h0M459.9 307.6h0M460.8 305.1h0M462.5 310.1h0M461.8 325.1h0M460.8 308.8h0M459.0 309.3h0M457.7 301.7h0M459.1 309.1h0M459.2 305.1h0M459.4 316.0h0M461.3 311.8h0M460.9 308.8h0M462.6 312.4h0M462.6 306.1h0M459.9 320.5h0M460.5 307.7h0M459.6 312.3h0M459.6 312.1h0M460.4 308.4h0M459.1 310.6h0M460.1 314.4h0M461.4 295.7h0M459.7 306.9h0M459.9 312.4h0M460.1 318.4h0M459.0 316.4h0M458.3 319.5h0M460.1 318.2h0M461.6 310.0h0M461.0 307.8h0M462.3 319.1h0M461.1 310.5h0M462.7 328.2h0M457.9 314.8h0M460.3 311.3h0M460.5 314.6h0M462.7 317.5h0M459.1 316.4h0M458.8 296.0h0M462.8 305.0h0M461.1 315.0h0M462.2 309.1h0M457.6 316.7h0M461.4 320.3h0M461.9 321.5h0M458.1 259.4h0" stroke="#0073C2" stroke-width="2.5" stroke-linecap="round" fill="none"/>
<g stroke="#EFC000" stroke-width="0.8" fill="none"><line x1="476.6181818181818" y1="283.6" x2="476.6181818181818" y2="304.0"/><line x1="476.6181818181818" y1="317.6" x2="476.6181818181818" y2="338.0"/><rect x="469.1" y="304.0" width="14.977636363636364" height="13.6" fill="#fff"/><line x1="469.1" y1="310.4" x2="484.1" y2="310.4" stroke-width="0.9"/></g>
<path d="M476.6 277.0h0M474.0 339.0h0M476.7 303.0h0M475.9 296.6h0M474.8 311.4h0M478.9 302.1h0M477.8 314.5h0M479.1 307.4h0M477.3 309.1h0M474.0 319.8h0M476.7 316.5h0M478.2 301.0h0M478.9 328.0h0M477.0 306.2h0M476.9 305.7h0M476.6 309.6h0M475.4 320.5h0M475.5 309.9h0M476.0 317.8h0M477.9 315.9h0M475.5 310.7h0M475.1 314.2h0M474.3 328.1h0M474.1 308.9h0M475.6 310.7h0M475.6 296.5h0M477.1 305.3h0M475.5 308.3h0M479.1 301.2h0M478.9 306.0h0M476.8 318.7h0M478.0 297.8h0M478.2 314.0h0M476.6 304.8h0M478.5 296.7h0M477.8 318.2h0M478.8 300.9h0M474.6 303.4h0M476.3 322.0h0M478.8 305.9h0M476.0 301.6h0M474.3 307.8h0M479.2 306.7h0M475.4 313.0h0M477.4 304.9h0M475.2 308.6h0M475.4 321.5h0M477.7 323.6h0M478.7 313.0h0M474.5 310.7h0M475.1 301.2h0M476.8 317.8h0M477.3 307.6h0M478.5 307.6h0M474.5 316.1h0M476.5 300.8h0M475.8 317.8h0M479.1 303.1h0M476.5 310.4h0M476.5 330.3h0M477.4 310.1h0M474.1 293.9h0M474.8 295.0h0M477.7 303.2h0M477.0 321.1h0M475.3 308.9h0M477.9 306.3h0M477.3 322.5h0M477.9 318.4h0M475.9 322.0h0M478.7 302.3h0M476.3 299.4h0M476.9 325.6h0M474.5 330.4h0M479.0 299.3h0M474.5 307.1h0M477.8 329.6h0M475.3 316.3h0M479.2 329.0h0M475.1 307.8h0M474.6 309.3h0M477.6 309.8h0M475.7 306.8h0M476.0 329.1h0M475.7 306.3h0M475.8 313.4h0M474.5 298.5h0M476.8 308.0h0M478.9 296.5h0M474.9 303.3h0M475.2 328.8h0M476.3 299.6h0M476.5 319.9h0M478.3 310.2h0M475.2 319.5h0M477.1 288.2h0M478.8 304.1h0M475.9 329.0h0M474.7 306.9h0M476.7 294.4h0M476.9 300.5h0M475.6 319.7h0M474.5 326.9h0M474.3 316.1h0M476.2 307.7h0M479.1 320.2h0M474.6 306.0h0M476.6 333.1h0M479.1 278.4h0M476.5 313.2h0M476.7 295.0h0M477.7 329.5h0M477.7 311.1h0M475.3 314.1h0M478.9 304.1h0M478.6 298.5h0M476.8 319.7h0M477.1 311.4h0M475.6 307.0h0M476.2 307.8h0M478.3 307.8h0M476.0 308.3h0M474.7 313.8h0M478.4 290.8h0M478.5 301.5h0M476.2 317.3h0M475.3 310.3h0M479.0 310.0h0M475.5 309.6h0M477.6 309.3h0M478.7 284.8h0M474.1 307.3h0M475.8 310.5h0M475.5 316.6h0M475.2 328.8h0M476.7 322.6h0M478.7 320.4h0M478.2 310.2h0M475.3 299.7h0M475.6 291.0h0M475.2 299.4h0M476.1 330.1h0M478.2 309.9h0M477.3 320.9h0M475.9 298.6h0M478.2 320.6h0M475.8 303.3h0M478.0 304.4h0M476.0 295.8h0M478.0 306.8h0M478.0 305.8h0M479.0 302.7h0M478.8 321.7h0M474.1 302.0h0M478.6 307.6h0M475.2 306.6h0M474.5 300.8h0M475.3 313.4h0M474.6 306.2h0M474.5 319.4h0M474.3 313.9h0M477.2 305.2h0M477.4 310.6h0M475.1 323.0h0M476.7 297.0h0M476.9 293.1h0M477.4 311.8h0M475.3 306.6h0M476.6 327.5h0M479.0 314.2h0M477.6 303.8h0M474.1 308.7h0M474.4 327.6h0M474.9 322.9h0M474.4 318.7h0M474.9 290.3h0M474.2 302.6h0M476.9 308.4h0M478.9 323.9h0M477.2 300.0h0M474.5 292.2h0M474.2 321.8h0M475.6 313.5h0M479.1 326.0h0M476.0 305.0h0M477.6 302.7h0M475.5 315.1h0M475.6 313.5h0M477.5 321.5h0M475.6 305.1h0M475.2 319.6h0M477.1 316.2h0M478.0 303.5h0M479.2 306.9h0M474.7 312.0h0M474.1 311.0h0M476.5 301.9h0M478.8 322.4h0M477.1 280.1h0M479.1 315.2h0M474.2 299.3h0M478.4 306.8h0M475.0 330.2h0M474.4 315.6h0M477.1 309.5h0M478.7 293.2h0M477.5 314.4h0M478.2 335.7h0M478.4 278.0h0M475.7 306.1h0M478.9 308.9h0M477.4 315.5h0M477.1 329.9h0M475.4 304.5h0M477.4 300.6h0M477.6 303.8h0M475.4 310.1h0M477.8 291.2h0M476.6 303.7h0M475.1 309.6h0M478.5 307.3h0M478.4 306.8h0M478.1 293.6h0M477.4 284.3h0M475.9 305.2h0M479.1 303.6h0M476.3 300.7h0M476.0 299.7h0M478.9 292.4h0M479.1 318.2h0M474.5 326.6h0M475.0 323.9h0M474.5 318.8h0M477.3 315.5h0M477.4 331.1h0M474.2 317.6h0M474.5 315.7h0M475.6 291.4h0M475.6 310.1h0M476.8 307.6h0M478.5 307.8h0M475.2 301.2h0M477.3 318.3h0M477.0 296.7h0M475.5 285.4h0M475.5 320.6h0M474.5 322.1h0M474.6 313.7h0M477.1 315.7h0M478.7 296.7h0M478.9 329.5h0M477.6 306.9h0M474.6 310.9h0M475.8 300.0h0M478.8 312.2h0M478.8 305.2h0M477.6 316.3h0M475.9 329.0h0M478.4 323.4h0M478.6 305.8h0M474.6 304.8h0M477.7 308.7h0M474.6 325.1h0M474.6 313.2h0M476.2 290.0h0M474.9 315.8h0M476.5 287.5h0M477.1 316.7h0M478.0 315.7h0M478.4 311.9h0M478.6 301.2h0M478.6 315.8h0M477.2 321.6h0M476.5 303.5h0M478.2 319.7h0M477.3 310.7h0M476.9 310.4h0M474.3 303.7h0M474.4 318.0h0M478.8 307.7h0M476.3 319.9h0M478.7 303.1h0M477.9 301.5h0M477.7 317.3h0M476.0 304.0h0M476.1 312.1h0M478.0 309.7h0M476.4 326.7h0M475.9 318.7h0M479.0 329.1h0M476.5 311.0h0M477.0 289.5h0M478.2 296.3h0M475.3 299.6h0M479.0 306.9h0M474.2 326.3h0M478.0 305.4h0M474.4 324.2h0M475.8 307.2h0M479.0 308.4h0M477.5 295.6h0M478.2 295.7h0M477.2 313.6h0M476.7 308.5h0M477.6 312.2h0M475.4 326.1h0M476.2 297.3h0M478.0 307.1h0M478.0 310.3h0M478.7 323.3h0M477.7 307.1h0M475.3 319.1h0M477.4 297.8h0M474.6 306.4h0M476.1 303.8h0M476.8 324.7h0M478.6 307.2h0M474.2 307.2h0M477.0 323.2h0M476.3 309.4h0M478.3 298.2h0M476.7 312.5h0M474.8 315.6h0M478.3 317.3h0M478.4 305.8h0M478.8 314.5h0M474.4 289.1h0M474.7 319.6h0M478.0 325.9h0M477.6 320.8h0M476.4 290.4h0M474.9 318.1h0M477.0 300.9h0M475.2 293.2h0M478.9 312.3h0M477.1 304.1h0M475.0 322.5h0M478.0 308.4h0M477.9 308.8h0M475.9 323.2h0M478.5 322.8h0M475.6 325.3h0M476.3 316.1h0M477.7 299.1h0M477.3 315.6h0M477.3 314.9h0M474.3 307.7h0M475.7 309.1h0M477.0 320.1h0M477.9 317.0h0M476.3 303.5h0M474.9 322.9h0M478.0 327.6h0M477.7 302.0h0M479.1 326.4h0M474.4 307.1h0M475.0 306.5h0M476.1 301.1h0M475.8 315.2h0M474.8 308.1h0M476.8 302.1h0M478.2 281.1h0M478.5 296.9h0M474.8 280.1h0M475.1 301.7h0M477.1 321.8h0M477.7 320.1h0M478.6 314.0h0M475.6 322.3h0M478.1 303.0h0M478.0 320.7h0M478.9 313.9h0M475.1 316.1h0M478.7 298.8h0M476.4 314.2h0M478.0 325.1h0M475.3 325.2h0M477.2 307.6h0M478.1 310.4h0M474.5 299.1h0M474.2 317.4h0M475.4 304.9h0M476.2 310.3h0M477.9 323.7h0M476.9 294.8h0M475.5 297.1h0M478.9 298.1h0M477.8 319.7h0M478.7 301.8h0M476.5 304.2h0M476.4 303.0h0M477.6 302.8h0M474.3 302.6h0M478.9 321.8h0M474.1 318.5h0M477.5 311.8h0M478.1 322.4h0M475.8 303.5h0M476.8 322.2h0M476.4 318.4h0M474.6 311.3h0M474.4 311.5h0M477.7 306.9h0M476.5 313.9h0M475.4 282.4h0M478.4 316.1h0M478.8 296.9h0M477.0 312.7h0M475.9 318.5h0M474.1 297.8h0M478.3 295.8h0M477.7 308.4h0M477.0 301.7h0M474.1 315.4h0M477.1 291.1h0M478.9 319.0h0M478.4 301.8h0M476.1 330.4h0M477.9 324.6h0M474.6 323.3h0M475.9 312.6h0M478.4 316.9h0M475.2 313.6h0M475.3 316.1h0M474.2 279.2h0M478.4 321.8h0M474.1 291.8h0M475.7 308.0h0M474.2 331.6h0M475.3 318.0h0M478.0 300.6h0M477.4 312.6h0M474.5 331.9h0M478.6 338.0h0M475.9 319.0h0M477.6 294.5h0M477.6 311.9h0M477.3 295.8h0M475.2 306.8h0M477.1 324.3h0M476.1 319.2h0M475.8 327.6h0M474.6 304.3h0M477.5 303.2h0M475.7 325.4h0M475.9 328.9h0M475.2 320.3h0M479.1 288.0h0M478.3 305.5h0M477.4 315.6h0M474.3 330.2h0M477.4 306.5h0M474.4 302.9h0M477.3 306.4h0M476.6 308.1h0M478.4 299.7h0M477.1 329.1h0M477.7 308.0h0M477.6 301.2h0M478.1 320.2h0M474.9 321.5h0M476.7 289.8h0M478.4 286.5h0M477.8 315.2h0M474.7 306.4h0M478.3 317.8h0M477.1 315.0h0M477.4 302.4h0M477.9 312.7h0M478.9 293.7h0M475.1 307.5h0M477.1 319.7h0M475.0 314.4h0M476.4 328.1h0M477.5 315.2h0M475.4 306.3h0M475.3 308.2h0M475.6 291.1h0M477.1 322.0h0M474.6 315.1h0M478.2 316.6h0M477.2 303.6h0M476.7 345.0h0M474.2 358.0h0" stroke="#EFC000" stroke-width="2.5" stroke-linecap="round" fill="none"/>
<g stroke="#868686" stroke-width="0.8" fill="none"><line x1="493.07509090909093" y1="279.6" x2="493.07509090909093" y2="299.0"/><line x1="493.07509090909093" y1="314.4" x2="493.07509090909093" y2="337.5"/><rect x="485.6" y="299.0" width="14.977636363636364" height="15.4" fill="#fff"/><line x1="485.6" y1="307.0" x2="500.6" y2="307.0" stroke-width="0.9"/></g>
<path d="M493.6 279.6h0M493.0 341.0h0M495.3 328.5h0M491.7 303.3h0M495.6 314.4h0M491.7 320.3h0M490.7 290.1h0M491.6 314.1h0M494.9 303.1h0M492.4 280.5h0M494.2 306.6h0M491.1 297.4h0M493.0 317.4h0M492.3 305.0h0M494.9 304.4h0M495.0 326.1h0M495.4 301.0h0M492.1 297.5h0M494.2 293.2h0M491.4 308.9h0M495.4 305.9h0M490.8 296.6h0M494.3 300.2h0M493.9 307.7h0M492.0 283.5h0M493.8 303.7h0M493.5 290.0h0M492.0 293.1h0M490.7 314.8h0M493.8 291.4h0M495.5 288.9h0M494.9 280.8h0M494.9 324.8h0M492.0 307.5h0M493.9 294.9h0M495.1 313.2h0M495.0 316.0h0M493.7 325.4h0M493.0 311.7h0M491.5 319.3h0M492.4 304.3h0M495.0 319.9h0M495.1 296.8h0M494.9 300.8h0M495.4 326.4h0M492.7 325.0h0M495.1 305.2h0M493.9 328.2h0M494.9 307.4h0M490.6 285.4h0M490.5 304.2h0M494.2 287.2h0M494.8 315.3h0M494.4 298.8h0M494.8 318.9h0M493.8 302.0h0M494.0 307.7h0M493.6 296.6h0M490.9 338.8h0M493.2 307.0h0M493.8 296.5h0M495.2 299.6h0M492.4 299.2h0M491.6 314.1h0M494.4 298.8h0M490.7 303.4h0M490.9 294.4h0M493.5 326.9h0M491.2 312.0h0M495.3 296.1h0M491.9 318.5h0M490.6 298.6h0M495.7 311.3h0M494.7 315.5h0M493.0 318.0h0M491.5 313.7h0M490.5 306.9h0M492.7 318.5h0M495.3 301.7h0M492.9 300.8h0M494.1 302.7h0M494.7 310.0h0M495.0 301.3h0M493.9 300.4h0M490.6 315.7h0M492.1 295.2h0M490.8 290.8h0M491.2 306.6h0M494.0 317.4h0M494.9 307.2h0M492.1 320.4h0M492.7 306.5h0M491.8 297.9h0M491.1 317.2h0M490.6 307.5h0M492.6 307.2h0M491.5 336.9h0M492.5 312.0h0M492.7 310.1h0M492.4 306.4h0M491.2 302.4h0M494.7 280.1h0M492.2 317.6h0M493.1 287.1h0M494.1 307.3h0M492.7 313.3h0M491.6 310.8h0M495.1 320.7h0M491.8 305.3h0M490.7 292.4h0M495.6 315.6h0M490.7 294.3h0M492.9 307.0h0M492.9 305.9h0M490.5 319.5h0M495.6 302.5h0M493.9 312.3h0M495.0 315.4h0M494.0 319.1h0M491.0 301.7h0M493.3 300.7h0M495.4 303.2h0M490.8 307.5h0M491.4 320.1h0M490.7 328.1h0M490.6 301.0h0M493.5 305.0h0M493.2 296.1h0M492.4 295.5h0M495.0 289.2h0M494.5 305.5h0M492.5 297.5h0M492.7 305.0h0M491.8 304.2h0M494.4 312.1h0M491.4 305.2h0M493.6 297.1h0M495.5 309.5h0M491.8 303.4h0M491.9 325.5h0M494.1 307.0h0M493.3 314.7h0M492.7 335.3h0M491.1 305.9h0M492.0 312.2h0M494.0 312.3h0M495.0 307.6h0M492.4 308.0h0M495.0 319.8h0M495.5 306.8h0M492.2 315.9h0M491.1 298.0h0M494.4 303.4h0M491.9 320.5h0M493.7 293.1h0M492.4 319.9h0M491.1 309.9h0M492.5 312.8h0M493.1 293.6h0M493.0 308.4h0M491.7 302.9h0M492.9 297.9h0M493.8 289.3h0M495.4 320.0h0M490.6 312.1h0M492.0 281.5h0M490.7 314.1h0M494.5 319.9h0M494.5 308.5h0M492.3 325.2h0M490.8 315.2h0M494.2 317.2h0M495.5 286.7h0M492.4 314.8h0M491.4 316.1h0M492.0 308.6h0M495.5 312.3h0M492.8 305.5h0M490.9 316.7h0M493.8 306.7h0M491.7 303.2h0M494.4 291.1h0M495.2 309.2h0M490.7 294.1h0M494.7 288.4h0M494.8 303.8h0M492.5 322.8h0M492.8 299.3h0M493.6 303.2h0M492.6 293.3h0M492.8 316.0h0M495.5 300.5h0M494.3 295.4h0M491.5 316.6h0M494.2 306.1h0M491.6 289.8h0M491.0 302.6h0M495.0 318.5h0M491.2 312.2h0M492.6 309.3h0M495.3 295.4h0M493.7 314.8h0M491.1 304.8h0M492.7 305.6h0M490.7 325.7h0M495.0 303.3h0M494.9 321.0h0M491.4 314.6h0M495.6 323.7h0M495.5 290.9h0M494.3 316.6h0M493.1 287.1h0M492.0 297.5h0M494.6 337.7h0M493.3 308.3h0M494.8 298.8h0M494.7 310.7h0M492.7 301.5h0M492.4 305.5h0M492.7 323.5h0M491.5 303.2h0M492.9 309.7h0M493.6 316.8h0M494.2 297.5h0M490.6 302.6h0M491.5 301.3h0M490.5 297.3h0M491.7 282.9h0M492.9 336.7h0M495.4 290.8h0M492.0 302.4h0M492.9 282.5h0M495.1 285.6h0M492.1 300.7h0M495.6 295.2h0M494.3 305.9h0M494.4 311.7h0M494.8 318.9h0M494.1 313.7h0M493.1 312.4h0M493.5 307.6h0M494.0 305.6h0M492.3 314.1h0M493.5 285.2h0M492.2 294.9h0M491.0 301.2h0M493.0 308.3h0M494.2 296.1h0M494.5 300.3h0M492.7 308.5h0M493.8 302.3h0M492.8 307.8h0M491.8 262.0h0M495.7 270.0h0M490.5 273.0h0" stroke="#868686" stroke-width="2.5" stroke-linecap="round" fill="none"/>
<line x1="378.00" y1="237.60" x2="378.00" y2="363.75" stroke="#000" stroke-width="0.75" />
<line x1="377.65" y1="363.60" x2="513.60" y2="363.60" stroke="#000" stroke-width="0.9" />
<line x1="376.00" y1="355.50" x2="378.00" y2="355.50" stroke="#000" stroke-width="0.75" />
<text transform="translate(375.0,358.2) scale(1,1.1)" font-size="7.0" text-anchor="end" fill="#000" color="#000" >−1.0</text>
<line x1="376.00" y1="333.00" x2="378.00" y2="333.00" stroke="#000" stroke-width="0.75" />
<text transform="translate(375.0,335.7) scale(1,1.1)" font-size="7.0" text-anchor="end" fill="#000" color="#000" >−0.5</text>
<line x1="376.00" y1="310.50" x2="378.00" y2="310.50" stroke="#000" stroke-width="0.75" />
<text transform="translate(375.0,313.2) scale(1,1.1)" font-size="7.0" text-anchor="end" fill="#000" color="#000" >0.0</text>
<line x1="376.00" y1="288.00" x2="378.00" y2="288.00" stroke="#000" stroke-width="0.75" />
<text transform="translate(375.0,290.7) scale(1,1.1)" font-size="7.0" text-anchor="end" fill="#000" color="#000" >0.5</text>
<line x1="376.00" y1="265.50" x2="378.00" y2="265.50" stroke="#000" stroke-width="0.75" />
<text transform="translate(375.0,268.2) scale(1,1.1)" font-size="7.0" text-anchor="end" fill="#000" color="#000" >1.0</text>
<line x1="376.00" y1="243.00" x2="378.00" y2="243.00" stroke="#000" stroke-width="0.75" />
<text transform="translate(375.0,245.7) scale(1,1.1)" font-size="7.0" text-anchor="end" fill="#000" color="#000" >1.5</text>
<line x1="414.98" y1="363.40" x2="414.98" y2="365.40" stroke="#000" stroke-width="0.75" />
<text transform="translate(415.0,371.9) scale(1,1.1)" font-size="6.9" text-anchor="middle" fill="#000" color="#000" >MALE</text>
<line x1="476.62" y1="363.40" x2="476.62" y2="365.40" stroke="#000" stroke-width="0.75" />
<text transform="translate(476.6,371.9) scale(1,1.1)" font-size="6.9" text-anchor="middle" fill="#000" color="#000" >FEMALE</text>
<text transform="translate(415.0,244.0) scale(1,1.1)" font-size="6.4" text-anchor="middle" fill="#000" color="#000" >p = 0.074</text>
<text transform="translate(476.6,244.0) scale(1,1.1)" font-size="6.4" text-anchor="middle" fill="#000" color="#000" >p = 1.6e−06</text>
<text x="445.8" y="380.0" font-size="7" text-anchor="middle" fill="#000" color="#000" >Sex</text>
<text x="0" y="0" font-size="7" text-anchor="middle" transform="translate(357,300.5) rotate(-90)">ZFX+ZFY</text>
<g stroke="#0073C2" stroke-width="0.8" fill="none"><line x1="561.3422727272728" y1="275.0" x2="561.3422727272728" y2="292.0"/><line x1="561.3422727272728" y1="308.0" x2="561.3422727272728" y2="323.0"/><rect x="553.6" y="292.0" width="15.574090909090906" height="16.0" fill="#fff"/><line x1="553.6" y1="297.6" x2="569.1" y2="297.6" stroke-width="0.9"/></g>
<path d="M562.3 275.0h0M559.5 323.0h0M559.2 305.3h0M563.5 295.8h0M560.1 314.3h0M563.1 291.1h0M561.8 297.4h0M562.7 288.2h0M563.4 284.0h0M562.6 312.3h0M562.8 296.5h0M559.1 302.4h0M560.3 307.1h0M562.7 323.0h0M561.4 304.1h0M561.5 307.7h0M563.0 286.3h0M559.5 282.2h0M561.5 292.1h0M558.9 295.0h0M560.8 305.4h0M561.4 287.1h0M563.7 305.5h0M563.8 287.3h0M558.7 296.9h0M559.4 294.7h0M562.6 306.6h0M563.4 292.3h0M562.9 298.4h0M558.8 294.0h0M561.7 314.3h0M563.8 290.4h0M561.6 302.1h0M563.0 288.3h0M561.4 297.0h0M560.9 293.0h0M560.3 318.9h0M562.7 319.5h0M560.9 289.5h0M559.9 300.9h0M561.8 301.8h0M560.8 303.8h0M559.2 308.9h0M562.8 296.3h0M559.4 309.5h0M559.5 289.4h0M561.1 288.5h0M558.8 301.3h0M558.9 281.0h0M559.3 298.0h0M562.9 276.4h0M561.6 298.4h0M561.4 303.3h0M563.7 292.7h0M560.2 313.7h0M561.5 289.1h0M559.2 303.6h0M559.1 307.8h0M558.8 296.7h0M559.4 311.3h0M562.1 259.0h0M563.1 264.0h0M558.8 331.6h0M562.4 339.6h0" stroke="#0073C2" stroke-width="2.5" stroke-linecap="round" fill="none"/>
<g stroke="#EFC000" stroke-width="0.8" fill="none"><line x1="578.4545454545455" y1="267.1" x2="578.4545454545455" y2="292.0"/><line x1="578.4545454545455" y1="308.6" x2="578.4545454545455" y2="333.5"/><rect x="570.7" y="292.0" width="15.574090909090906" height="16.6" fill="#fff"/><line x1="570.7" y1="300.6" x2="586.2" y2="300.6" stroke-width="0.9"/></g>
<path d="M578.8 265.0h0M578.0 337.0h0M579.2 277.0h0M580.1 312.7h0M580.5 304.6h0M576.8 309.3h0M577.1 303.5h0M578.8 293.9h0M579.5 309.9h0M580.2 308.5h0M576.8 282.4h0M579.1 310.6h0M580.1 323.2h0M577.6 308.9h0M577.5 287.3h0M578.8 276.6h0M580.7 282.8h0M576.4 311.3h0M579.1 293.9h0M576.4 301.1h0M577.5 287.9h0M580.2 314.5h0M577.2 267.5h0M576.1 310.8h0M578.2 287.0h0M579.8 294.2h0M577.5 318.0h0M576.8 292.3h0M580.2 293.1h0M579.6 277.6h0M576.4 313.3h0M580.8 303.8h0M576.6 277.5h0M578.1 294.8h0M577.2 300.4h0M578.1 318.6h0M577.7 309.4h0M580.8 303.0h0M576.7 273.1h0M579.7 291.8h0M580.2 293.1h0M579.9 298.0h0M577.4 295.0h0M579.7 300.5h0M579.9 294.8h0M577.1 312.4h0M578.2 292.3h0M579.0 298.1h0M580.7 284.5h0M579.4 287.0h0M577.7 314.8h0M579.6 315.2h0M576.6 289.9h0M579.7 300.3h0M577.2 300.2h0M579.8 303.1h0M580.6 302.9h0M579.5 287.5h0M578.2 297.7h0M578.6 291.2h0M580.3 308.9h0M579.2 299.3h0M579.1 282.7h0M580.7 304.9h0M577.8 287.8h0M577.1 304.2h0M576.9 334.1h0M580.2 302.1h0M577.7 312.0h0M576.0 305.3h0M580.8 303.7h0M580.8 312.8h0M576.3 327.1h0M580.6 293.3h0M578.2 291.3h0M576.8 289.2h0M580.5 325.5h0M580.3 286.1h0M580.8 288.9h0M576.0 325.1h0M576.4 314.1h0M576.1 283.5h0M580.3 321.5h0M579.0 307.2h0M578.4 309.1h0M577.1 303.2h0M579.9 282.8h0M579.2 303.2h0M578.5 286.7h0M577.3 300.8h0M576.6 302.7h0M578.2 282.9h0M579.6 290.6h0M577.8 286.0h0M577.7 289.6h0M576.8 311.3h0M579.5 306.8h0M576.4 292.3h0M580.3 305.1h0M579.8 314.1h0M578.2 289.5h0M580.3 300.6h0M578.5 290.4h0M578.9 326.8h0M578.7 309.6h0M580.6 303.1h0M577.4 291.6h0M577.2 269.0h0M579.4 285.0h0M576.2 292.9h0M578.2 281.3h0M579.8 281.5h0M575.9 300.7h0M579.7 299.4h0M579.4 298.9h0M580.1 299.5h0M579.2 281.7h0M576.9 319.6h0M579.8 309.4h0M580.6 300.6h0M577.3 295.6h0M578.2 299.2h0M578.3 318.7h0M577.4 294.1h0M576.4 302.0h0M577.1 313.5h0M580.2 302.7h0M578.3 306.6h0M577.3 303.6h0M578.6 295.7h0M580.4 307.4h0M579.8 303.5h0M577.8 307.5h0M576.7 299.4h0M580.6 283.2h0M576.8 303.1h0M579.8 283.1h0M576.8 296.4h0M579.1 299.1h0M576.3 326.6h0M578.5 301.0h0M577.8 297.3h0M580.3 293.1h0M580.6 305.3h0M580.1 313.9h0M579.6 296.7h0M578.9 303.3h0M577.6 277.7h0M581.0 292.6h0M576.4 287.4h0M579.2 290.5h0M580.9 283.9h0M580.9 325.4h0M576.7 287.0h0M580.1 295.3h0M580.4 303.8h0M579.7 311.5h0M578.3 293.5h0M579.3 324.6h0M579.2 294.6h0M580.1 297.0h0M576.8 284.0h0M580.4 294.0h0M578.3 296.8h0M578.3 307.2h0M577.0 311.1h0M576.5 312.3h0M580.3 319.8h0M579.9 284.6h0M577.4 274.2h0M580.9 314.0h0M579.9 295.4h0M578.0 297.0h0M580.5 296.7h0M580.6 280.6h0M580.1 306.5h0M580.5 291.2h0M576.1 287.7h0M579.7 304.2h0M579.3 312.9h0M579.0 293.8h0M579.5 280.1h0M578.2 310.8h0M580.2 305.0h0M577.8 302.4h0M577.7 298.9h0M576.6 303.9h0M580.4 316.4h0M577.6 289.6h0M580.8 321.0h0M579.6 310.3h0M580.8 276.0h0M580.8 287.8h0M579.2 288.7h0M580.5 296.3h0M580.5 301.7h0M578.7 289.7h0M578.4 303.5h0M580.0 304.2h0M577.5 279.4h0M579.1 303.0h0M579.3 296.5h0M578.4 327.3h0M577.8 280.4h0M580.4 300.7h0M579.6 313.7h0M577.5 318.3h0M578.9 299.2h0M578.7 315.3h0M576.3 296.6h0M580.4 311.1h0M580.4 296.0h0M577.9 310.0h0M577.5 315.6h0M581.0 311.2h0M580.7 306.2h0M578.2 307.3h0M576.0 282.3h0M579.2 312.7h0M575.9 285.7h0M576.5 271.1h0M576.5 299.0h0M578.8 275.4h0M576.0 294.1h0M580.8 296.6h0M577.7 296.4h0M580.6 320.3h0M578.8 307.0h0M580.8 296.9h0M578.2 325.7h0M578.7 290.7h0M576.8 320.5h0M577.5 307.9h0M580.2 305.1h0M580.7 319.7h0M579.8 289.8h0M578.3 302.0h0M579.6 298.3h0M578.8 291.6h0M580.7 301.1h0M580.1 295.3h0M580.4 307.3h0M578.9 285.3h0M579.5 301.4h0M577.2 279.3h0M578.2 313.8h0M576.9 273.2h0M576.2 290.2h0M579.2 292.6h0M579.6 278.8h0M579.9 312.3h0M579.1 312.8h0M578.9 300.6h0M577.8 291.9h0M576.9 314.8h0M578.5 270.6h0M580.5 286.0h0M578.2 301.7h0M580.8 286.5h0M576.2 293.2h0M579.6 294.9h0M580.0 302.4h0M578.1 281.3h0M580.7 289.6h0M579.6 332.2h0M576.3 300.6h0M580.5 297.6h0M576.2 318.8h0M580.6 297.2h0M578.6 277.2h0M580.1 270.4h0M578.6 302.2h0M580.8 304.7h0M577.5 276.9h0M579.2 304.7h0M579.6 295.2h0M577.3 295.0h0M579.4 265.8h0M579.7 268.4h0M576.0 307.4h0M578.2 311.1h0M579.0 271.7h0M578.7 316.5h0M579.3 301.9h0M580.0 292.5h0M576.4 309.3h0M577.5 271.3h0M577.6 267.4h0M580.5 309.9h0M580.5 313.1h0M580.6 271.5h0M580.6 294.0h0M579.3 312.0h0M579.1 299.7h0M577.6 314.5h0M576.0 298.6h0M578.0 336.6h0M578.3 307.2h0M575.9 302.2h0M576.1 288.0h0M575.9 281.7h0M580.1 302.6h0M578.1 296.8h0M578.5 296.4h0M577.4 287.4h0M576.6 292.7h0M580.7 304.9h0M578.3 278.8h0M578.6 312.1h0M580.3 296.7h0M577.2 308.7h0M576.4 291.6h0M580.0 296.3h0M579.5 297.8h0M577.0 308.7h0M576.4 307.0h0M580.4 301.2h0M577.3 281.6h0M579.2 283.9h0M578.0 318.7h0M581.0 315.2h0M579.7 289.5h0M578.3 255.0h0M580.5 348.4h0" stroke="#EFC000" stroke-width="2.5" stroke-linecap="round" fill="none"/>
<g stroke="#868686" stroke-width="0.8" fill="none"><line x1="595.5668181818182" y1="282.0" x2="595.5668181818182" y2="296.0"/><line x1="595.5668181818182" y1="314.6" x2="595.5668181818182" y2="338.0"/><rect x="587.8" y="296.0" width="15.574090909090906" height="18.6" fill="#fff"/><line x1="587.8" y1="304.0" x2="603.4" y2="304.0" stroke-width="0.9"/></g>
<path d="M596.7 282.0h0M597.8 338.0h0M597.1 318.4h0M597.0 292.3h0M593.2 313.0h0M594.6 333.3h0M594.2 314.3h0M595.6 311.0h0M595.5 304.3h0M593.1 306.0h0M595.3 322.5h0M596.7 285.4h0M594.8 323.5h0M597.9 316.6h0M597.5 310.7h0M597.2 300.8h0M595.1 326.8h0M597.7 298.3h0M593.2 310.4h0M593.4 294.9h0M598.0 284.9h0M597.6 291.0h0M595.5 298.4h0M596.1 301.4h0M593.0 332.3h0M594.9 293.2h0M595.9 310.6h0M595.5 317.2h0M595.2 301.2h0M596.2 304.1h0M594.4 318.5h0M595.2 302.9h0M593.5 305.6h0M597.2 316.6h0M593.5 317.2h0M596.5 333.5h0M597.9 285.1h0M594.8 313.4h0M594.0 306.4h0M597.0 301.9h0M596.2 314.7h0M595.1 294.5h0M595.5 321.2h0M595.0 292.6h0M597.7 324.5h0M597.9 337.0h0M597.7 303.6h0M595.5 295.0h0M596.1 318.8h0M593.6 307.3h0M594.6 290.9h0M593.3 302.4h0M593.3 320.1h0M594.3 296.4h0M594.0 286.3h0M596.0 283.7h0M597.2 299.6h0M596.3 311.0h0M595.6 306.7h0M595.0 318.2h0M593.5 304.0h0M593.2 298.4h0M593.6 335.7h0M595.4 286.5h0M597.3 296.1h0M594.5 315.2h0M594.4 331.9h0M595.8 301.9h0M595.1 314.7h0M594.2 307.3h0M595.8 318.0h0M595.8 295.3h0M597.3 297.6h0M594.7 304.7h0M598.1 309.7h0M593.9 286.8h0M597.8 315.5h0M594.7 317.2h0M597.6 292.9h0M594.8 299.6h0M597.8 316.4h0M593.1 299.5h0M597.2 301.4h0M595.7 304.8h0M595.4 319.4h0M597.4 286.3h0M597.8 300.6h0M595.3 301.2h0M593.8 303.6h0M597.1 303.3h0M595.5 310.5h0M596.6 324.2h0M596.0 301.9h0M597.4 308.4h0M597.8 316.0h0M596.5 316.5h0M596.2 312.5h0M596.4 304.4h0M596.7 305.3h0M595.2 305.5h0M597.4 338.0h0M593.3 301.2h0M597.3 299.7h0M594.2 329.4h0M593.8 336.3h0M593.8 319.9h0M593.0 303.1h0M594.0 306.4h0M593.9 309.9h0M593.6 288.8h0M597.9 299.7h0M594.3 303.4h0M597.9 295.6h0M593.9 312.5h0M594.8 292.5h0M595.1 306.1h0M594.6 318.3h0M597.7 317.1h0M593.0 294.3h0M597.7 285.6h0M594.2 309.5h0M597.3 284.9h0M595.1 292.3h0M597.4 316.8h0M594.4 290.0h0M593.7 302.9h0M594.8 298.0h0M593.6 299.3h0M596.3 308.7h0M595.7 302.1h0M594.7 303.3h0M593.8 320.3h0M596.5 308.4h0M594.5 285.7h0M596.2 289.2h0M594.1 282.2h0M596.3 320.6h0M595.9 313.6h0M593.8 308.0h0M596.3 302.7h0M593.1 321.5h0M594.6 296.0h0M597.7 289.0h0M595.7 314.5h0M597.4 294.8h0M595.8 303.8h0M597.7 308.6h0M598.1 328.4h0M597.3 307.5h0M593.2 301.8h0M593.6 313.0h0M597.5 284.3h0M597.5 311.2h0M594.8 313.0h0M595.8 302.3h0M597.4 296.6h0M597.0 296.8h0M594.4 312.2h0M597.5 301.3h0M595.5 297.1h0M595.3 312.9h0M597.7 310.9h0M593.9 317.7h0M593.0 285.8h0M593.6 304.2h0M596.9 310.4h0M594.2 285.3h0M596.9 328.3h0M593.8 297.9h0M597.4 295.0h0M595.7 306.0h0M593.8 304.0h0M598.0 270.0h0M596.5 349.6h0" stroke="#868686" stroke-width="2.5" stroke-linecap="round" fill="none"/>
<g stroke="#0073C2" stroke-width="0.8" fill="none"><line x1="625.4331818181818" y1="276.0" x2="625.4331818181818" y2="293.6"/><line x1="625.4331818181818" y1="308.0" x2="625.4331818181818" y2="322.0"/><rect x="617.6" y="293.6" width="15.574090909090906" height="14.4" fill="#fff"/><line x1="617.6" y1="301.4" x2="633.2" y2="301.4" stroke-width="0.9"/></g>
<path d="M623.5 276.0h0M627.8 322.0h0M626.6 304.8h0M623.5 290.4h0M625.6 308.6h0M627.3 300.2h0M626.2 308.5h0M622.9 286.3h0M625.4 308.5h0M624.8 297.7h0M624.3 288.8h0M626.6 313.3h0M623.4 288.6h0M623.2 315.1h0M623.1 287.8h0M625.7 307.6h0M624.1 283.4h0M626.5 289.1h0M627.3 304.5h0M625.7 309.4h0M626.9 308.8h0M624.2 289.4h0M625.7 297.9h0M627.8 294.7h0M627.6 284.8h0M625.4 308.3h0M623.0 297.5h0M627.6 300.2h0M624.0 305.3h0M626.1 301.5h0M626.0 301.8h0M624.0 292.9h0M623.6 311.5h0M623.4 298.8h0M626.6 301.0h0M625.6 287.5h0M624.8 289.5h0M625.2 299.8h0M625.6 300.1h0M625.2 310.4h0M626.6 288.2h0M627.6 307.4h0M624.9 308.6h0M625.9 311.6h0M627.9 300.9h0M624.9 292.0h0M625.7 298.3h0M626.5 304.3h0M624.0 311.7h0M627.3 290.2h0M623.4 302.4h0M624.2 295.8h0M623.7 301.9h0M626.4 299.2h0M627.1 290.0h0M623.4 307.8h0M623.6 283.8h0M623.6 304.3h0M623.5 319.6h0M627.4 307.6h0M624.6 329.0h0M625.0 335.0h0M625.5 341.0h0" stroke="#0073C2" stroke-width="2.5" stroke-linecap="round" fill="none"/>
<g stroke="#EFC000" stroke-width="0.8" fill="none"><line x1="642.5454545454545" y1="270.9" x2="642.5454545454545" y2="296.4"/><line x1="642.5454545454545" y1="313.4" x2="642.5454545454545" y2="338.9"/><rect x="634.8" y="296.4" width="15.574090909090906" height="17.0" fill="#fff"/><line x1="634.8" y1="304.0" x2="650.3" y2="304.0" stroke-width="0.9"/></g>
<path d="M640.0 265.4h0M644.8 348.0h0M641.5 290.0h0M642.9 285.8h0M641.2 266.9h0M641.9 286.1h0M642.1 316.4h0M643.3 306.4h0M641.0 318.4h0M643.4 338.3h0M640.3 292.2h0M643.2 308.9h0M642.1 302.2h0M643.3 297.6h0M640.3 312.9h0M641.1 295.9h0M640.3 305.6h0M644.6 303.9h0M643.3 284.8h0M644.5 333.7h0M643.8 315.2h0M643.6 304.6h0M642.8 310.0h0M644.4 307.0h0M645.0 313.0h0M641.0 333.2h0M640.9 321.9h0M641.6 304.4h0M640.1 295.1h0M643.2 313.8h0M642.3 310.5h0M642.3 294.6h0M641.9 293.5h0M641.6 319.3h0M641.8 299.5h0M642.0 312.7h0M644.7 293.0h0M643.6 305.4h0M643.6 290.4h0M643.0 286.5h0M643.7 271.6h0M643.4 278.5h0M642.3 291.2h0M642.3 299.8h0M642.9 315.8h0M643.0 310.1h0M643.9 309.9h0M644.7 277.6h0M643.4 303.6h0M640.0 295.2h0M643.7 310.9h0M644.5 328.9h0M642.1 294.7h0M641.8 298.4h0M644.3 312.5h0M643.1 319.1h0M642.8 283.4h0M643.6 304.8h0M643.9 284.7h0M643.7 295.1h0M641.8 302.0h0M641.5 303.0h0M640.5 312.1h0M642.3 296.6h0M642.2 293.9h0M644.8 307.3h0M642.1 311.5h0M643.5 306.4h0M641.3 302.4h0M644.3 293.2h0M643.3 314.2h0M642.6 310.5h0M641.4 302.1h0M644.6 303.2h0M642.0 301.0h0M644.3 303.3h0M641.0 296.5h0M640.3 301.2h0M642.0 302.0h0M641.1 285.7h0M641.1 306.5h0M640.2 290.2h0M644.9 276.5h0M643.8 326.7h0M644.9 298.1h0M640.3 332.4h0M642.7 318.8h0M640.5 313.7h0M640.1 294.2h0M644.2 284.8h0M641.2 273.7h0M644.6 290.3h0M641.0 303.3h0M640.3 316.7h0M640.2 299.0h0M642.7 294.9h0M645.0 336.7h0M642.1 321.5h0M640.3 302.3h0M641.7 318.6h0M640.3 314.6h0M643.1 276.9h0M643.3 299.6h0M642.6 315.9h0M643.0 288.3h0M643.3 305.5h0M642.6 308.7h0M643.3 300.0h0M645.1 312.3h0M641.1 303.6h0M640.9 297.9h0M641.3 285.4h0M641.3 303.0h0M642.4 325.9h0M645.1 307.5h0M640.5 295.2h0M641.8 298.6h0M642.7 273.8h0M640.7 290.0h0M644.4 291.9h0M643.5 322.1h0M642.9 285.9h0M644.7 324.8h0M641.7 311.1h0M644.1 287.5h0M640.7 285.9h0M642.0 271.0h0M642.2 328.7h0M642.9 288.8h0M643.3 309.2h0M644.0 280.9h0M641.8 310.3h0M641.6 301.5h0M641.6 291.7h0M642.1 329.8h0M641.1 296.5h0M644.1 309.8h0M641.8 310.3h0M644.6 309.2h0M642.8 267.8h0M640.0 297.5h0M640.6 307.2h0M641.8 307.4h0M641.9 302.6h0M643.0 328.8h0M644.9 329.4h0M644.7 305.2h0M643.7 290.3h0M640.6 309.3h0M642.6 310.6h0M643.0 316.3h0M642.3 319.1h0M644.6 342.2h0M643.8 284.7h0M643.9 309.7h0M640.0 293.4h0M643.5 314.9h0M641.9 298.3h0M644.2 305.8h0M644.8 308.4h0M643.4 317.0h0M642.1 319.9h0M644.6 289.8h0M641.9 339.3h0M641.6 289.1h0M641.8 295.5h0M642.1 316.2h0M644.1 311.0h0M643.5 324.8h0M643.5 298.2h0M642.4 308.1h0M644.5 301.9h0M640.6 303.6h0M643.7 305.8h0M643.8 316.3h0M642.5 301.0h0M644.1 331.2h0M641.8 290.5h0M641.1 304.4h0M642.2 298.5h0M644.0 318.3h0M643.2 307.2h0M640.6 303.6h0M642.1 324.4h0M642.3 305.6h0M642.9 318.1h0M640.4 328.8h0M641.2 298.6h0M640.9 293.5h0M644.2 298.7h0M642.9 315.1h0M644.7 317.8h0M640.0 308.6h0M641.2 288.9h0M640.5 293.6h0M640.4 297.0h0M644.0 299.6h0M644.6 289.1h0M645.1 305.9h0M644.7 320.3h0M641.1 325.2h0M645.1 337.4h0M643.1 292.3h0M644.2 312.8h0M640.8 297.7h0M642.6 275.9h0M643.4 288.1h0M642.6 309.4h0M642.6 302.5h0M642.8 317.3h0M642.7 327.7h0M644.8 331.7h0M640.8 301.9h0M642.9 309.7h0M640.8 302.1h0M644.5 294.3h0M640.3 313.1h0M642.3 311.8h0M642.3 296.0h0M643.2 300.5h0M642.0 301.4h0M644.2 303.1h0M643.3 300.9h0M644.2 311.3h0M643.4 326.4h0M643.9 298.5h0M640.1 309.4h0M641.9 332.8h0M644.6 301.8h0M643.7 312.2h0M640.9 299.8h0M642.5 281.4h0M643.2 294.7h0M643.3 317.8h0M641.5 300.3h0M641.6 309.2h0M641.5 306.8h0M643.4 309.5h0M642.5 300.8h0M640.5 309.1h0M642.5 328.8h0M641.5 317.6h0M640.1 294.1h0M640.9 286.5h0M644.0 319.3h0M640.9 296.6h0M641.5 315.7h0M644.9 299.8h0M644.5 319.6h0M641.8 302.5h0M640.0 294.3h0M642.4 287.4h0M643.1 298.1h0M644.2 312.7h0M645.1 274.0h0M645.0 316.9h0M643.3 281.5h0M644.8 306.1h0M643.0 304.9h0M641.1 295.8h0M640.1 328.2h0M642.4 318.9h0M643.5 306.8h0M645.1 306.3h0M643.8 315.4h0M643.9 301.2h0M641.1 299.6h0M645.1 296.0h0M640.8 335.2h0M643.8 321.6h0M643.9 302.2h0M642.4 304.1h0M642.9 280.5h0M641.5 307.3h0M644.0 323.3h0M641.6 321.3h0M645.0 304.1h0M642.0 311.5h0M641.7 300.5h0M644.2 310.2h0M643.0 319.7h0M644.6 310.0h0M644.0 338.0h0M640.1 302.2h0M643.4 305.6h0M644.6 344.8h0M641.8 340.9h0M641.3 305.0h0M642.1 296.3h0M640.2 322.2h0M642.4 293.8h0M643.3 287.0h0M642.5 290.3h0M642.3 318.6h0M641.1 306.2h0M642.7 298.7h0M640.5 290.6h0M643.7 304.0h0M642.6 292.6h0M640.6 308.5h0M644.3 308.2h0M642.8 287.2h0M642.6 301.2h0M643.2 308.4h0M642.7 321.0h0M641.4 291.1h0M642.2 338.0h0M640.3 313.9h0M642.0 294.9h0M640.7 303.8h0M641.6 316.4h0M640.3 309.2h0M644.7 314.4h0M644.8 285.9h0M640.0 285.8h0M641.2 287.3h0M640.5 314.4h0M640.4 303.7h0M644.5 297.8h0M640.8 303.5h0M641.3 308.0h0M645.0 298.7h0M641.2 301.2h0M641.6 298.1h0M643.4 335.8h0M641.2 301.3h0M644.3 322.0h0M641.4 294.7h0M644.4 292.5h0M643.8 290.4h0M641.9 300.1h0M640.7 333.3h0M641.4 289.3h0M641.0 321.6h0M641.4 286.2h0M642.1 287.2h0M641.2 316.2h0M641.6 304.6h0M645.1 306.2h0M643.8 307.5h0M640.0 304.1h0M640.9 281.3h0M640.2 307.6h0M643.2 297.6h0M644.8 320.3h0M644.9 298.9h0M640.2 319.1h0M641.2 307.1h0M641.0 286.4h0M643.2 337.1h0M643.9 317.0h0M640.6 270.5h0M643.3 271.0h0M641.4 290.5h0M643.5 329.6h0M642.9 305.0h0M644.9 315.8h0M643.7 315.4h0M642.7 304.9h0M644.6 313.4h0M642.3 318.5h0M642.0 318.5h0M643.9 312.6h0M643.5 320.3h0M642.0 340.4h0M644.6 308.2h0M644.8 324.9h0M643.8 298.1h0M640.9 318.7h0M640.9 296.5h0M643.7 302.8h0M645.0 315.3h0M645.1 312.9h0M643.7 307.4h0M642.4 302.2h0M642.1 316.4h0M641.7 304.0h0M643.8 301.5h0M642.3 300.1h0M644.9 293.1h0M642.0 307.9h0M644.5 296.5h0M642.6 339.2h0M640.5 300.8h0M644.0 304.9h0M641.7 302.6h0M642.5 299.2h0M640.2 340.0h0M643.7 308.9h0M641.3 311.3h0M643.7 294.2h0M644.8 316.4h0M641.8 281.5h0M645.1 303.0h0M640.4 299.8h0M642.1 302.8h0M643.5 310.4h0M641.9 301.2h0M641.1 299.6h0M640.1 312.6h0M640.4 301.2h0M640.6 305.4h0M642.4 304.5h0M640.4 295.2h0M645.1 301.3h0M643.3 304.8h0M643.3 274.6h0M642.2 269.2h0M644.2 292.1h0M641.2 298.4h0M643.8 299.5h0M641.7 324.3h0M641.2 293.6h0M640.8 287.4h0M644.0 317.4h0M642.4 330.5h0M642.8 319.0h0M644.5 276.6h0M641.0 300.6h0M640.4 316.0h0M643.3 296.2h0M640.1 338.1h0M644.8 302.6h0M644.4 316.1h0M643.2 304.4h0M642.0 296.6h0M641.1 309.7h0M644.3 302.9h0M640.1 312.1h0M644.1 329.4h0M640.3 298.8h0M641.1 297.4h0M641.2 326.6h0M645.1 307.1h0M640.5 272.4h0M640.5 311.7h0M643.6 295.8h0M643.2 317.3h0M640.8 290.0h0M643.7 316.4h0M640.0 312.8h0M640.3 309.1h0M643.7 296.9h0M641.4 332.8h0M645.0 331.5h0M642.4 300.8h0M640.1 320.3h0M641.4 311.4h0M642.7 289.5h0M644.7 272.9h0M643.9 300.6h0M642.0 295.7h0M640.9 310.3h0M645.0 314.3h0M643.7 297.0h0M645.0 314.9h0M640.5 286.9h0M644.3 286.1h0M640.4 281.0h0M644.6 284.4h0M642.2 307.4h0M643.3 298.3h0M640.3 316.2h0M643.0 320.2h0M643.1 319.1h0M641.1 303.0h0M642.8 285.2h0M645.1 280.8h0M644.6 317.8h0M644.9 300.0h0M643.2 300.5h0M643.0 289.4h0M640.3 298.6h0M644.0 296.8h0M640.2 327.2h0M642.5 291.0h0M641.9 298.9h0M643.8 304.1h0M643.6 308.1h0M642.9 310.4h0M644.0 334.4h0M640.9 329.3h0" stroke="#EFC000" stroke-width="2.5" stroke-linecap="round" fill="none"/>
<g stroke="#868686" stroke-width="0.8" fill="none"><line x1="659.6577272727272" y1="274.0" x2="659.6577272727272" y2="299.4"/><line x1="659.6577272727272" y1="317.0" x2="659.6577272727272" y2="343.0"/><rect x="651.9" y="299.4" width="15.574090909090906" height="17.6" fill="#fff"/><line x1="651.9" y1="308.0" x2="667.4" y2="308.0" stroke-width="0.9"/></g>
<path d="M662.1 274.0h0M662.2 343.0h0M659.3 286.8h0M657.1 305.2h0M661.8 310.4h0M657.5 294.1h0M661.1 320.5h0M661.1 313.2h0M659.4 310.5h0M659.3 315.0h0M659.7 297.8h0M658.8 329.7h0M659.4 314.9h0M658.7 305.9h0M657.2 316.2h0M660.7 284.5h0M660.2 299.5h0M659.8 299.0h0M661.6 320.0h0M658.1 315.5h0M659.6 303.0h0M660.0 293.5h0M657.9 314.5h0M660.9 316.3h0M657.6 335.3h0M660.5 306.2h0M659.3 333.2h0M661.2 309.1h0M660.2 341.8h0M659.3 321.6h0M657.2 295.2h0M659.0 331.3h0M658.9 302.0h0M660.4 301.4h0M658.9 312.8h0M659.2 306.6h0M658.2 303.5h0M661.3 301.3h0M658.6 301.0h0M660.7 322.5h0M660.1 311.5h0M659.6 303.6h0M659.1 298.7h0M657.1 295.3h0M658.5 283.5h0M659.5 312.8h0M661.8 320.1h0M657.1 313.1h0M661.3 299.9h0M658.4 317.4h0M660.7 300.4h0M657.7 305.3h0M660.4 303.7h0M660.3 315.0h0M662.0 330.7h0M660.2 280.9h0M662.0 280.3h0M657.2 319.0h0M657.9 307.3h0M659.3 321.1h0M659.4 309.9h0M661.2 310.4h0M659.5 307.5h0M659.9 296.0h0M657.6 307.3h0M659.3 302.3h0M660.4 312.8h0M657.6 303.0h0M661.3 275.4h0M661.8 311.4h0M657.9 284.3h0M661.4 302.3h0M660.2 303.3h0M661.6 304.6h0M661.9 288.7h0M662.1 325.6h0M661.2 300.9h0M659.5 320.0h0M659.3 338.4h0M661.5 296.6h0M662.1 332.2h0M661.5 299.9h0M657.2 339.7h0M661.3 306.4h0M661.8 326.3h0M659.0 311.2h0M661.3 318.1h0M660.2 325.4h0M657.5 285.2h0M658.9 301.7h0M659.1 332.1h0M657.9 315.8h0M658.3 306.8h0M660.6 317.7h0M657.8 303.8h0M658.0 311.8h0M658.7 298.6h0M661.0 320.5h0M659.2 288.8h0M660.6 323.6h0M661.7 297.1h0M657.9 287.3h0M659.6 322.0h0M661.1 284.3h0M659.5 298.2h0M661.3 309.3h0M659.5 301.7h0M660.8 291.7h0M657.3 330.7h0M662.0 304.9h0M658.3 311.1h0M659.5 306.0h0M661.2 299.3h0M660.2 302.6h0M658.2 335.2h0M659.1 312.6h0M659.9 306.3h0M661.2 319.0h0M657.3 321.1h0M659.4 327.8h0M660.0 293.1h0M661.2 332.8h0M657.8 314.5h0M661.2 307.7h0M662.2 331.8h0M657.5 317.2h0M660.8 324.1h0M660.3 295.0h0M660.7 303.3h0M661.9 309.4h0M660.9 315.1h0M659.3 329.7h0M657.5 291.4h0M659.8 334.3h0M657.7 307.1h0M661.1 298.9h0M659.3 319.7h0M658.1 296.3h0M661.3 299.7h0M662.0 298.7h0M662.1 317.1h0M660.4 304.2h0M661.6 298.6h0M660.0 315.7h0M657.8 324.0h0M657.8 302.7h0M660.6 300.4h0M658.5 309.6h0M658.1 294.1h0M658.1 309.5h0M660.2 311.8h0M657.5 308.7h0M660.1 320.7h0M660.1 294.2h0M657.7 281.0h0M662.1 306.9h0M661.3 310.2h0M657.5 315.7h0M662.0 310.9h0M660.8 279.3h0M660.2 308.5h0M661.9 301.1h0M658.6 322.4h0M659.1 305.8h0M661.4 325.0h0M658.4 299.8h0M658.2 300.9h0M658.6 304.3h0M662.1 308.3h0M660.6 294.3h0M661.4 311.2h0M661.8 312.0h0M658.0 300.2h0M661.6 330.7h0M658.6 317.0h0M660.9 300.1h0M659.1 307.4h0M658.1 318.6h0M660.8 282.6h0M659.0 275.5h0M659.3 329.3h0M658.8 306.3h0M658.2 296.9h0M661.6 284.4h0M658.3 282.0h0M659.6 315.2h0M659.4 318.4h0M659.7 295.7h0M658.8 305.6h0M661.2 289.1h0M657.2 291.8h0M658.1 299.4h0M659.4 319.5h0M661.0 316.9h0M661.4 316.0h0M660.0 325.4h0M661.9 312.5h0M659.2 312.6h0M661.0 318.3h0M657.4 300.4h0M658.0 309.9h0M660.8 297.0h0M660.4 320.5h0M658.7 298.1h0M661.3 295.6h0M658.1 293.2h0M657.6 318.3h0M658.7 315.8h0M657.5 308.0h0M661.3 279.3h0M660.0 290.8h0M658.3 290.6h0M660.0 297.7h0M658.7 319.3h0M658.7 311.8h0M657.9 330.9h0M661.1 335.1h0M657.4 292.7h0M659.5 283.0h0M661.0 315.0h0M659.5 296.4h0M658.1 332.2h0M657.3 304.5h0M659.6 311.8h0M661.6 319.7h0M658.2 292.1h0M660.8 316.7h0M657.5 308.8h0M659.4 324.5h0M657.3 314.6h0M660.4 329.1h0M659.9 307.8h0M660.4 303.4h0M659.7 297.6h0M659.6 303.2h0M659.8 280.0h0M659.9 297.2h0M657.9 319.8h0M661.5 290.3h0M657.8 310.0h0M659.7 316.6h0M660.5 326.7h0M660.4 338.2h0M661.7 317.3h0M661.5 307.7h0M659.5 297.1h0M658.9 293.2h0M658.8 323.2h0M657.9 311.3h0M660.6 309.3h0M662.1 327.7h0M657.7 304.6h0M662.0 265.0h0M661.8 350.0h0M659.5 357.6h0" stroke="#868686" stroke-width="2.5" stroke-linecap="round" fill="none"/>
<line x1="540.00" y1="237.60" x2="540.00" y2="363.75" stroke="#000" stroke-width="0.75" />
<line x1="539.65" y1="363.60" x2="681.00" y2="363.60" stroke="#000" stroke-width="0.9" />
<line x1="538.00" y1="348.40" x2="540.00" y2="348.40" stroke="#000" stroke-width="0.75" />
<text transform="translate(537.0,351.1) scale(1,1.1)" font-size="7.0" text-anchor="end" fill="#000" color="#000" >−2</text>
<line x1="538.00" y1="327.40" x2="540.00" y2="327.40" stroke="#000" stroke-width="0.75" />
<text transform="translate(537.0,330.1) scale(1,1.1)" font-size="7.0" text-anchor="end" fill="#000" color="#000" >−1</text>
<line x1="538.00" y1="306.40" x2="540.00" y2="306.40" stroke="#000" stroke-width="0.75" />
<text transform="translate(537.0,309.1) scale(1,1.1)" font-size="7.0" text-anchor="end" fill="#000" color="#000" >0</text>
<line x1="538.00" y1="285.40" x2="540.00" y2="285.40" stroke="#000" stroke-width="0.75" />
<text transform="translate(537.0,288.1) scale(1,1.1)" font-size="7.0" text-anchor="end" fill="#000" color="#000" >1</text>
<line x1="538.00" y1="264.40" x2="540.00" y2="264.40" stroke="#000" stroke-width="0.75" />
<text transform="translate(537.0,267.1) scale(1,1.1)" font-size="7.0" text-anchor="end" fill="#000" color="#000" >2</text>
<line x1="538.00" y1="243.40" x2="540.00" y2="243.40" stroke="#000" stroke-width="0.75" />
<text transform="translate(537.0,246.1) scale(1,1.1)" font-size="7.0" text-anchor="end" fill="#000" color="#000" >3</text>
<line x1="578.45" y1="363.40" x2="578.45" y2="365.40" stroke="#000" stroke-width="0.75" />
<text transform="translate(578.5,371.9) scale(1,1.1)" font-size="6.9" text-anchor="middle" fill="#000" color="#000" >MALE</text>
<line x1="642.55" y1="363.40" x2="642.55" y2="365.40" stroke="#000" stroke-width="0.75" />
<text transform="translate(642.5,371.9) scale(1,1.1)" font-size="6.9" text-anchor="middle" fill="#000" color="#000" >FEMALE</text>
<text transform="translate(578.5,244.0) scale(1,1.1)" font-size="6.4" text-anchor="middle" fill="#000" color="#000" >p = 0.036</text>
<text transform="translate(642.5,244.0) scale(1,1.1)" font-size="6.4" text-anchor="middle" fill="#000" color="#000" >p = 8.6e−05</text>
<text x="610.5" y="380.0" font-size="7" text-anchor="middle" fill="#000" color="#000" >Sex</text>
<text x="0" y="0" font-size="7" text-anchor="middle" transform="translate(525.4,300.5) rotate(-90)">SVOP</text>
<text x="280.0" y="228.4" font-size="7" text-anchor="start" fill="#000" color="#000" >Diagnosis</text>
<g stroke="#0073C2" stroke-width="0.6" fill="none"><line x1="319.3" y1="220.8" x2="319.3" y2="230"/><rect x="315.3" y="222.3" width="8" height="6.2" fill="#fff"/><line x1="315.3" y1="225.4" x2="323.3" y2="225.4"/></g><circle cx="319.3" cy="225.4" r="0.9" fill="#0073C2"/>
<text transform="translate(328.0,228.1) scale(1,1.18)" font-size="5.8" text-anchor="start" fill="#000" color="#000" >CONTROL</text>
<g stroke="#EFC000" stroke-width="0.6" fill="none"><line x1="364.5" y1="220.8" x2="364.5" y2="230"/><rect x="360.5" y="222.3" width="8" height="6.2" fill="#fff"/><line x1="360.5" y1="225.4" x2="368.5" y2="225.4"/></g><circle cx="364.5" cy="225.4" r="0.9" fill="#EFC000"/>
<text transform="translate(373.0,228.1) scale(1,1.18)" font-size="5.8" text-anchor="start" fill="#000" color="#000" >OTHER</text>
<g stroke="#868686" stroke-width="0.6" fill="none"><line x1="401.7" y1="220.8" x2="401.7" y2="230"/><rect x="397.7" y="222.3" width="8" height="6.2" fill="#fff"/><line x1="397.7" y1="225.4" x2="405.7" y2="225.4"/></g><circle cx="401.7" cy="225.4" r="0.9" fill="#868686"/>
<text transform="translate(410.0,228.1) scale(1,1.18)" font-size="5.8" text-anchor="start" fill="#000" color="#000" >AD</text>
</svg></body></html>
